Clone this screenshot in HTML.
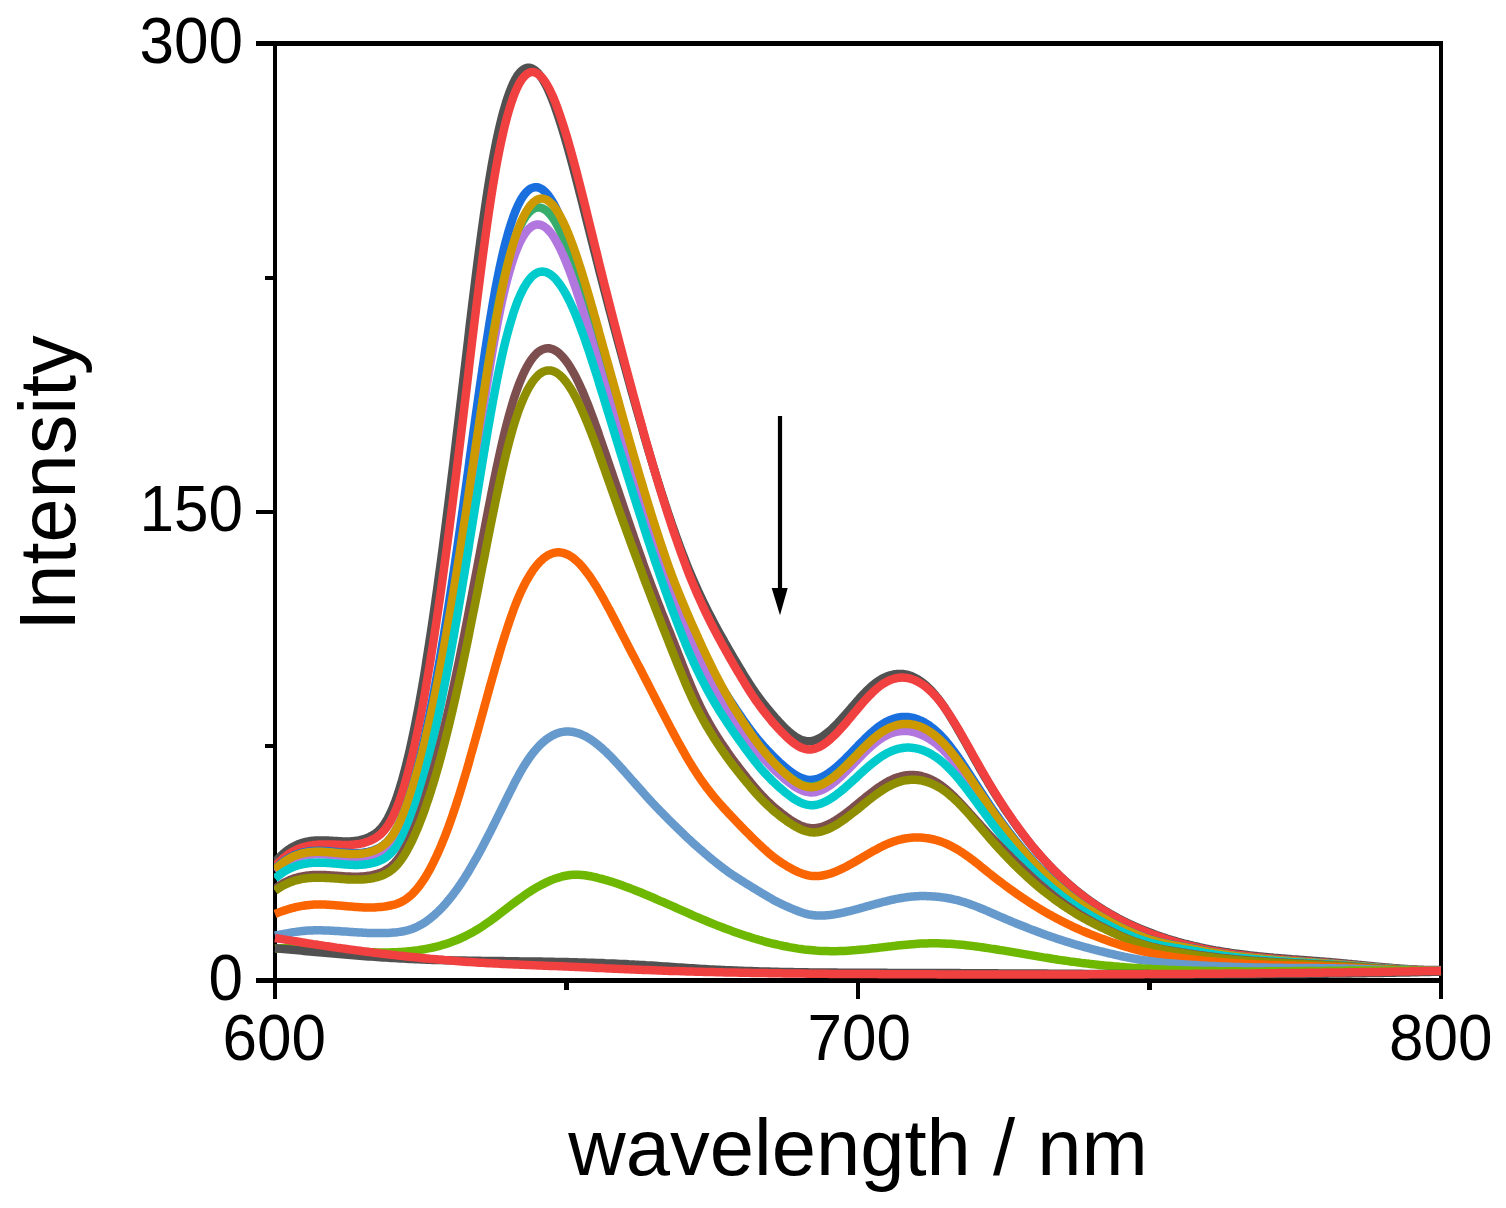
<!DOCTYPE html>
<html lang="en"><head><meta charset="utf-8"><title>Intensity vs wavelength</title>
<style>
html,body{margin:0;padding:0;background:#fff;}
body{width:1506px;height:1208px;overflow:hidden;}
svg{display:block;}
text{font-family:"Liberation Sans",Arial,Helvetica,sans-serif;fill:#000;}
.tl{font-size:64px;}
.ti{font-size:80px;}
.c{fill:none;stroke-width:8.5;stroke-linejoin:round;stroke-linecap:butt;}
.ax{stroke:#000;stroke-width:4.5;fill:none;}
</style></head><body>
<svg width="1506" height="1208" viewBox="0 0 1506 1208">
<rect width="1506" height="1208" fill="#fff"/>

<g stroke="#000" fill="none" shape-rendering="crispEdges">
<path stroke-width="4" d="M275.0,41.0 V999.0 M1441.0,41.0 V999.0"/>
<path stroke-width="4.5" d="M858.0,980.5 V999.0"/>
<path stroke-width="5" d="M256.1,43.5 H1443.0 M256.1,980.5 H1443.0"/>
<path stroke-width="4" d="M256.1,512.0 H275.0 M264.6,278 H275.0 M264.6,746 H275.0"/>
<path stroke-width="5" d="M566.5,980.5 V990.0 M1149.5,980.5 V990.0"/>
</g>
<clipPath id="cp"><rect x="274.0" y="0" width="1168.5" height="1208"/></clipPath>
<g clip-path="url(#cp)">
<path class="c" stroke="#515151" d="M275.0,862.3 L276.3,860.8 L277.6,859.3 L278.9,857.9 L280.2,856.6 L281.5,855.3 L282.8,854.1 L284.1,853.0 L285.4,851.9 L286.7,850.9 L288.0,849.9 L289.3,849.0 L290.6,848.2 L291.9,847.4 L293.2,846.7 L294.5,846.0 L295.8,845.4 L297.0,844.8 L298.3,844.2 L299.6,843.7 L300.9,843.3 L302.2,842.9 L303.5,842.5 L304.8,842.1 L306.1,841.8 L307.4,841.6 L308.7,841.3 L310.0,841.1 L311.3,841.0 L312.6,840.8 L313.9,840.7 L315.2,840.6 L316.5,840.5 L317.8,840.5 L319.1,840.4 L320.4,840.4 L321.7,840.4 L323.0,840.4 L324.3,840.4 L325.6,840.5 L326.9,840.5 L328.2,840.6 L329.5,840.7 L330.8,840.7 L332.1,840.8 L333.4,840.9 L334.7,841.0 L336.0,841.0 L337.3,841.1 L338.6,841.2 L339.8,841.3 L341.1,841.3 L342.4,841.4 L343.7,841.4 L345.0,841.5 L346.3,841.5 L347.6,841.5 L348.9,841.4 L350.2,841.4 L351.5,841.3 L352.8,841.2 L354.1,841.1 L355.4,841.0 L356.7,840.8 L358.0,840.6 L359.3,840.3 L360.6,840.0 L361.9,839.7 L363.2,839.3 L364.5,838.9 L365.8,838.5 L367.1,838.0 L368.4,837.4 L369.7,836.8 L371.0,836.1 L372.3,835.4 L373.6,834.6 L374.9,833.8 L376.2,832.8 L377.5,831.8 L378.8,830.6 L380.1,829.3 L381.4,827.9 L382.7,826.3 L383.9,824.6 L385.2,822.7 L386.5,820.6 L387.8,818.3 L389.1,815.8 L390.4,813.2 L391.7,810.3 L393.0,807.2 L394.3,803.9 L395.6,800.5 L396.9,796.8 L398.2,793.0 L399.5,788.9 L400.8,784.6 L402.1,780.2 L403.4,775.5 L404.7,770.7 L406.0,765.6 L407.3,760.4 L408.6,755.0 L409.9,749.4 L411.2,743.5 L412.5,737.5 L413.8,731.3 L415.1,724.9 L416.4,718.4 L417.7,711.6 L419.0,704.7 L420.3,697.5 L421.6,690.2 L422.9,682.7 L424.2,675.1 L425.5,667.2 L426.7,659.2 L428.0,651.0 L429.3,642.7 L430.6,634.2 L431.9,625.6 L433.2,616.8 L434.5,607.8 L435.8,598.7 L437.1,589.5 L438.4,580.1 L439.7,570.6 L441.0,561.0 L442.3,551.2 L443.6,541.3 L444.9,531.3 L446.2,521.1 L447.5,510.9 L448.8,500.5 L450.1,490.1 L451.4,479.5 L452.7,468.9 L454.0,458.2 L455.3,447.5 L456.6,436.6 L457.9,425.8 L459.2,414.9 L460.5,404.0 L461.8,393.0 L463.1,382.1 L464.4,371.1 L465.7,360.2 L467.0,349.2 L468.3,338.3 L469.5,327.5 L470.8,316.7 L472.1,306.0 L473.4,295.4 L474.7,284.9 L476.0,274.6 L477.3,264.4 L478.6,254.3 L479.9,244.5 L481.2,234.8 L482.5,225.3 L483.8,216.1 L485.1,207.1 L486.4,198.4 L487.7,189.9 L489.0,181.7 L490.3,173.9 L491.6,166.3 L492.9,159.1 L494.2,152.2 L495.5,145.5 L496.8,139.2 L498.1,133.2 L499.4,127.4 L500.7,122.0 L502.0,116.8 L503.3,111.9 L504.6,107.3 L505.9,102.9 L507.2,98.9 L508.5,95.1 L509.8,91.5 L511.1,88.2 L512.4,85.2 L513.6,82.4 L514.9,79.9 L516.2,77.7 L517.5,75.6 L518.8,73.8 L520.1,72.3 L521.4,71.0 L522.7,69.9 L524.0,69.0 L525.3,68.4 L526.6,67.9 L527.9,67.7 L529.2,67.7 L530.5,67.9 L531.8,68.4 L533.1,69.0 L534.4,69.8 L535.7,70.8 L537.0,72.0 L538.3,73.4 L539.6,75.0 L540.9,76.8 L542.2,78.7 L543.5,80.8 L544.8,83.1 L546.1,85.6 L547.4,88.2 L548.7,91.0 L550.0,94.0 L551.3,97.1 L552.6,100.3 L553.9,103.7 L555.2,107.3 L556.4,110.9 L557.7,114.7 L559.0,118.6 L560.3,122.6 L561.6,126.8 L562.9,131.0 L564.2,135.3 L565.5,139.8 L566.8,144.3 L568.1,148.9 L569.4,153.5 L570.7,158.3 L572.0,163.1 L573.3,168.0 L574.6,172.9 L575.9,177.9 L577.2,182.9 L578.5,188.0 L579.8,193.1 L581.1,198.2 L582.4,203.3 L583.7,208.5 L585.0,213.7 L586.3,218.9 L587.6,224.1 L588.9,229.3 L590.2,234.4 L591.5,239.6 L592.8,244.8 L594.1,249.9 L595.4,255.0 L596.7,260.1 L598.0,265.2 L599.2,270.2 L600.5,275.3 L601.8,280.3 L603.1,285.3 L604.4,290.3 L605.7,295.3 L607.0,300.2 L608.3,305.2 L609.6,310.1 L610.9,315.0 L612.2,319.9 L613.5,324.8 L614.8,329.6 L616.1,334.5 L617.4,339.3 L618.7,344.1 L620.0,348.9 L621.3,353.7 L622.6,358.5 L623.9,363.2 L625.2,368.0 L626.5,372.7 L627.8,377.4 L629.1,382.1 L630.4,386.8 L631.7,391.5 L633.0,396.1 L634.3,400.8 L635.6,405.4 L636.9,410.0 L638.2,414.6 L639.5,419.1 L640.8,423.7 L642.1,428.2 L643.3,432.7 L644.6,437.2 L645.9,441.6 L647.2,446.1 L648.5,450.5 L649.8,454.8 L651.1,459.2 L652.4,463.5 L653.7,467.8 L655.0,472.1 L656.3,476.3 L657.6,480.5 L658.9,484.6 L660.2,488.8 L661.5,492.9 L662.8,496.9 L664.1,500.9 L665.4,504.9 L666.7,508.9 L668.0,512.8 L669.3,516.7 L670.6,520.5 L671.9,524.3 L673.2,528.0 L674.5,531.7 L675.8,535.4 L677.1,539.0 L678.4,542.5 L679.7,546.1 L681.0,549.5 L682.3,552.9 L683.6,556.3 L684.9,559.6 L686.1,562.9 L687.4,566.1 L688.7,569.3 L690.0,572.4 L691.3,575.5 L692.6,578.5 L693.9,581.5 L695.2,584.4 L696.5,587.3 L697.8,590.2 L699.1,593.0 L700.4,595.8 L701.7,598.6 L703.0,601.3 L704.3,603.9 L705.6,606.6 L706.9,609.2 L708.2,611.8 L709.5,614.3 L710.8,616.8 L712.1,619.3 L713.4,621.8 L714.7,624.2 L716.0,626.7 L717.3,629.0 L718.6,631.4 L719.9,633.8 L721.2,636.1 L722.5,638.4 L723.8,640.7 L725.1,643.0 L726.4,645.2 L727.7,647.5 L728.9,649.7 L730.2,651.9 L731.5,654.2 L732.8,656.4 L734.1,658.6 L735.4,660.7 L736.7,662.9 L738.0,665.1 L739.3,667.3 L740.6,669.5 L741.9,671.6 L743.2,673.8 L744.5,675.9 L745.8,678.0 L747.1,680.1 L748.4,682.1 L749.7,684.2 L751.0,686.1 L752.3,688.1 L753.6,690.0 L754.9,691.9 L756.2,693.8 L757.5,695.6 L758.8,697.4 L760.1,699.1 L761.4,700.8 L762.7,702.5 L764.0,704.2 L765.3,705.8 L766.6,707.4 L767.9,709.0 L769.2,710.6 L770.5,712.1 L771.7,713.6 L773.0,715.1 L774.3,716.6 L775.6,718.1 L776.9,719.5 L778.2,720.9 L779.5,722.3 L780.8,723.7 L782.1,725.1 L783.4,726.4 L784.7,727.7 L786.0,729.0 L787.3,730.2 L788.6,731.4 L789.9,732.5 L791.2,733.6 L792.5,734.6 L793.8,735.6 L795.1,736.5 L796.4,737.3 L797.7,738.1 L799.0,738.8 L800.3,739.4 L801.6,739.9 L802.9,740.4 L804.2,740.8 L805.5,741.0 L806.8,741.2 L808.1,741.3 L809.4,741.3 L810.7,741.2 L812.0,741.0 L813.3,740.7 L814.6,740.3 L815.8,739.9 L817.1,739.3 L818.4,738.7 L819.7,738.1 L821.0,737.3 L822.3,736.5 L823.6,735.7 L824.9,734.7 L826.2,733.7 L827.5,732.7 L828.8,731.6 L830.1,730.5 L831.4,729.3 L832.7,728.1 L834.0,726.8 L835.3,725.5 L836.6,724.2 L837.9,722.9 L839.2,721.5 L840.5,720.1 L841.8,718.6 L843.1,717.2 L844.4,715.7 L845.7,714.2 L847.0,712.7 L848.3,711.3 L849.6,709.8 L850.9,708.3 L852.2,706.7 L853.5,705.3 L854.8,703.8 L856.1,702.3 L857.4,700.8 L858.6,699.4 L859.9,697.9 L861.2,696.5 L862.5,695.1 L863.8,693.7 L865.1,692.4 L866.4,691.1 L867.7,689.8 L869.0,688.6 L870.3,687.4 L871.6,686.2 L872.9,685.1 L874.2,684.1 L875.5,683.0 L876.8,682.1 L878.1,681.2 L879.4,680.3 L880.7,679.5 L882.0,678.8 L883.3,678.1 L884.6,677.4 L885.9,676.9 L887.2,676.3 L888.5,675.9 L889.8,675.4 L891.1,675.1 L892.4,674.8 L893.7,674.5 L895.0,674.3 L896.3,674.1 L897.6,674.0 L898.9,673.9 L900.2,673.9 L901.4,673.9 L902.7,674.0 L904.0,674.2 L905.3,674.4 L906.6,674.7 L907.9,675.0 L909.2,675.4 L910.5,675.8 L911.8,676.3 L913.1,676.9 L914.4,677.5 L915.7,678.2 L917.0,678.9 L918.3,679.7 L919.6,680.5 L920.9,681.4 L922.2,682.4 L923.5,683.4 L924.8,684.4 L926.1,685.6 L927.4,686.7 L928.7,688.0 L930.0,689.3 L931.3,690.6 L932.6,692.0 L933.9,693.5 L935.2,695.0 L936.5,696.6 L937.8,698.2 L939.1,699.9 L940.4,701.6 L941.7,703.4 L943.0,705.2 L944.3,707.1 L945.5,709.0 L946.8,711.0 L948.1,713.0 L949.4,715.1 L950.7,717.2 L952.0,719.3 L953.3,721.4 L954.6,723.6 L955.9,725.8 L957.2,728.0 L958.5,730.3 L959.8,732.5 L961.1,734.8 L962.4,737.1 L963.7,739.4 L965.0,741.7 L966.3,744.1 L967.6,746.4 L968.9,748.7 L970.2,751.1 L971.5,753.4 L972.8,755.8 L974.1,758.1 L975.4,760.4 L976.7,762.7 L978.0,765.0 L979.3,767.3 L980.6,769.6 L981.9,771.8 L983.2,774.0 L984.5,776.3 L985.8,778.5 L987.1,780.7 L988.3,782.8 L989.6,785.0 L990.9,787.1 L992.2,789.2 L993.5,791.4 L994.8,793.4 L996.1,795.5 L997.4,797.6 L998.7,799.6 L1000.0,801.6 L1001.3,803.7 L1002.6,805.6 L1003.9,807.6 L1005.2,809.6 L1006.5,811.5 L1007.8,813.4 L1009.1,815.3 L1010.4,817.2 L1011.7,819.1 L1013.0,820.9 L1014.3,822.8 L1015.6,824.6 L1016.9,826.4 L1018.2,828.1 L1019.5,829.9 L1020.8,831.6 L1022.1,833.4 L1023.4,835.1 L1024.7,836.7 L1026.0,838.4 L1027.3,840.1 L1028.6,841.7 L1029.9,843.3 L1031.1,844.9 L1032.4,846.5 L1033.7,848.0 L1035.0,849.6 L1036.3,851.1 L1037.6,852.6 L1038.9,854.1 L1040.2,855.6 L1041.5,857.0 L1042.8,858.5 L1044.1,859.9 L1045.4,861.3 L1046.7,862.7 L1048.0,864.1 L1049.3,865.5 L1050.6,866.8 L1051.9,868.1 L1053.2,869.4 L1054.5,870.7 L1055.8,872.0 L1057.1,873.3 L1058.4,874.6 L1059.7,875.8 L1061.0,877.0 L1062.3,878.2 L1063.6,879.4 L1064.9,880.6 L1066.2,881.8 L1067.5,882.9 L1068.8,884.1 L1070.1,885.2 L1071.4,886.3 L1072.7,887.4 L1073.9,888.5 L1075.2,889.6 L1076.5,890.6 L1077.8,891.7 L1079.1,892.7 L1080.4,893.7 L1081.7,894.7 L1083.0,895.7 L1084.3,896.7 L1085.6,897.7 L1086.9,898.6 L1088.2,899.6 L1089.5,900.5 L1090.8,901.4 L1092.1,902.3 L1093.4,903.2 L1094.7,904.1 L1096.0,905.0 L1097.3,905.8 L1098.6,906.7 L1099.9,907.5 L1101.2,908.4 L1102.5,909.2 L1103.8,910.0 L1105.1,910.8 L1106.4,911.6 L1107.7,912.3 L1109.0,913.1 L1110.3,913.9 L1111.6,914.6 L1112.9,915.3 L1114.2,916.1 L1115.5,916.8 L1116.8,917.5 L1118.0,918.2 L1119.3,918.9 L1120.6,919.5 L1121.9,920.2 L1123.2,920.9 L1124.5,921.5 L1125.8,922.2 L1127.1,922.8 L1128.4,923.4 L1129.7,924.0 L1131.0,924.6 L1132.3,925.2 L1133.6,925.8 L1134.9,926.4 L1136.2,927.0 L1137.5,927.5 L1138.8,928.1 L1140.1,928.7 L1141.4,929.2 L1142.7,929.7 L1144.0,930.3 L1145.3,930.8 L1146.6,931.3 L1147.9,931.8 L1149.2,932.3 L1150.5,932.8 L1151.8,933.3 L1153.1,933.8 L1154.4,934.3 L1155.7,934.7 L1157.0,935.2 L1158.3,935.6 L1159.6,936.1 L1160.8,936.5 L1162.1,937.0 L1163.4,937.4 L1164.7,937.8 L1166.0,938.3 L1167.3,938.7 L1168.6,939.1 L1169.9,939.5 L1171.2,939.9 L1172.5,940.3 L1173.8,940.7 L1175.1,941.0 L1176.4,941.4 L1177.7,941.8 L1179.0,942.1 L1180.3,942.5 L1181.6,942.9 L1182.9,943.2 L1184.2,943.6 L1185.5,943.9 L1186.8,944.2 L1188.1,944.5 L1189.4,944.9 L1190.7,945.2 L1192.0,945.5 L1193.3,945.8 L1194.6,946.1 L1195.9,946.4 L1197.2,946.7 L1198.5,947.0 L1199.8,947.3 L1201.1,947.6 L1202.4,947.8 L1203.6,948.1 L1204.9,948.4 L1206.2,948.6 L1207.5,948.9 L1208.8,949.2 L1210.1,949.4 L1211.4,949.6 L1212.7,949.9 L1214.0,950.1 L1215.3,950.4 L1216.6,950.6 L1217.9,950.8 L1219.2,951.0 L1220.5,951.3 L1221.8,951.5 L1223.1,951.7 L1224.4,951.9 L1225.7,952.1 L1227.0,952.3 L1228.3,952.5 L1229.6,952.7 L1230.9,952.9 L1232.2,953.1 L1233.5,953.3 L1234.8,953.4 L1236.1,953.6 L1237.4,953.8 L1238.7,954.0 L1240.0,954.1 L1241.3,954.3 L1242.6,954.5 L1243.9,954.6 L1245.2,954.8 L1246.5,955.0 L1247.7,955.1 L1249.0,955.3 L1250.3,955.4 L1251.6,955.6 L1252.9,955.7 L1254.2,955.9 L1255.5,956.0 L1256.8,956.1 L1258.1,956.3 L1259.4,956.4 L1260.7,956.5 L1262.0,956.7 L1263.3,956.8 L1264.6,956.9 L1265.9,957.0 L1267.2,957.2 L1268.5,957.3 L1269.8,957.4 L1271.1,957.5 L1272.4,957.6 L1273.7,957.8 L1275.0,957.9 L1276.3,958.0 L1277.6,958.1 L1278.9,958.2 L1280.2,958.3 L1281.5,958.4 L1282.8,958.5 L1284.1,958.6 L1285.4,958.7 L1286.7,958.8 L1288.0,958.9 L1289.3,959.0 L1290.5,959.1 L1291.8,959.3 L1293.1,959.4 L1294.4,959.5 L1295.7,959.5 L1297.0,959.6 L1298.3,959.7 L1299.6,959.8 L1300.9,959.9 L1302.2,960.0 L1303.5,960.1 L1304.8,960.2 L1306.1,960.3 L1307.4,960.4 L1308.7,960.5 L1310.0,960.6 L1311.3,960.7 L1312.6,960.8 L1313.9,960.9 L1315.2,961.0 L1316.5,961.1 L1317.8,961.2 L1319.1,961.3 L1320.4,961.4 L1321.7,961.5 L1323.0,961.6 L1324.3,961.7 L1325.6,961.8 L1326.9,961.9 L1328.2,962.0 L1329.5,962.1 L1330.8,962.2 L1332.1,962.4 L1333.3,962.5 L1334.6,962.6 L1335.9,962.7 L1337.2,962.8 L1338.5,962.9 L1339.8,963.0 L1341.1,963.2 L1342.4,963.3 L1343.7,963.4 L1345.0,963.5 L1346.3,963.6 L1347.6,963.8 L1348.9,963.9 L1350.2,964.0 L1351.5,964.1 L1352.8,964.3 L1354.1,964.4 L1355.4,964.5 L1356.7,964.6 L1358.0,964.8 L1359.3,964.9 L1360.6,965.0 L1361.9,965.2 L1363.2,965.3 L1364.5,965.4 L1365.8,965.5 L1367.1,965.7 L1368.4,965.8 L1369.7,965.9 L1371.0,966.0 L1372.3,966.2 L1373.6,966.3 L1374.9,966.4 L1376.2,966.6 L1377.4,966.7 L1378.7,966.8 L1380.0,966.9 L1381.3,967.0 L1382.6,967.2 L1383.9,967.3 L1385.2,967.4 L1386.5,967.5 L1387.8,967.6 L1389.1,967.7 L1390.4,967.8 L1391.7,968.0 L1393.0,968.1 L1394.3,968.2 L1395.6,968.3 L1396.9,968.4 L1398.2,968.5 L1399.5,968.6 L1400.8,968.7 L1402.1,968.8 L1403.4,968.8 L1404.7,968.9 L1406.0,969.0 L1407.3,969.1 L1408.6,969.2 L1409.9,969.3 L1411.2,969.3 L1412.5,969.4 L1413.8,969.5 L1415.1,969.5 L1416.4,969.6 L1417.7,969.7 L1419.0,969.7 L1420.2,969.8 L1421.5,969.8 L1422.8,969.8 L1424.1,969.9 L1425.4,969.9 L1426.7,969.9 L1428.0,970.0 L1429.3,970.0 L1430.6,970.0 L1431.9,970.0 L1433.2,970.0 L1434.5,970.0 L1435.8,970.0 L1437.1,970.0 L1438.4,970.0 L1439.7,970.0 L1441.0,970.0"/>
<path class="c" stroke="#F14040" d="M275.0,866.4 L276.3,864.9 L277.6,863.6 L278.9,862.2 L280.2,861.0 L281.5,859.8 L282.8,858.6 L284.1,857.5 L285.4,856.5 L286.7,855.5 L288.0,854.6 L289.3,853.7 L290.6,852.9 L291.9,852.1 L293.2,851.4 L294.5,850.7 L295.8,850.1 L297.0,849.5 L298.3,848.9 L299.6,848.4 L300.9,847.9 L302.2,847.5 L303.5,847.1 L304.8,846.7 L306.1,846.4 L307.4,846.1 L308.7,845.8 L310.0,845.6 L311.3,845.4 L312.6,845.2 L313.9,845.0 L315.2,844.9 L316.5,844.8 L317.8,844.7 L319.1,844.6 L320.4,844.5 L321.7,844.5 L323.0,844.4 L324.3,844.4 L325.6,844.4 L326.9,844.4 L328.2,844.5 L329.5,844.5 L330.8,844.5 L332.1,844.6 L333.4,844.6 L334.7,844.6 L336.0,844.7 L337.3,844.7 L338.6,844.8 L339.8,844.8 L341.1,844.9 L342.4,844.9 L343.7,844.9 L345.0,844.9 L346.3,844.9 L347.6,844.9 L348.9,844.9 L350.2,844.9 L351.5,844.8 L352.8,844.7 L354.1,844.6 L355.4,844.5 L356.7,844.3 L358.0,844.1 L359.3,843.9 L360.6,843.7 L361.9,843.4 L363.2,843.1 L364.5,842.7 L365.8,842.3 L367.1,841.9 L368.4,841.4 L369.7,840.9 L371.0,840.3 L372.3,839.7 L373.6,839.0 L374.9,838.3 L376.2,837.5 L377.5,836.6 L378.8,835.6 L380.1,834.6 L381.4,833.4 L382.7,832.1 L383.9,830.7 L385.2,829.2 L386.5,827.5 L387.8,825.6 L389.1,823.6 L390.4,821.3 L391.7,818.9 L393.0,816.3 L394.3,813.5 L395.6,810.5 L396.9,807.4 L398.2,804.0 L399.5,800.5 L400.8,796.7 L402.1,792.8 L403.4,788.7 L404.7,784.4 L406.0,779.9 L407.3,775.2 L408.6,770.3 L409.9,765.2 L411.2,760.0 L412.5,754.5 L413.8,748.9 L415.1,743.1 L416.4,737.1 L417.7,730.9 L419.0,724.5 L420.3,718.0 L421.6,711.3 L422.9,704.3 L424.2,697.3 L425.5,690.0 L426.7,682.6 L428.0,674.9 L429.3,667.2 L430.6,659.2 L431.9,651.1 L433.2,642.9 L434.5,634.5 L435.8,625.9 L437.1,617.2 L438.4,608.3 L439.7,599.3 L441.0,590.2 L442.3,580.9 L443.6,571.5 L444.9,561.9 L446.2,552.3 L447.5,542.5 L448.8,532.6 L450.1,522.5 L451.4,512.4 L452.7,502.1 L454.0,491.8 L455.3,481.4 L456.6,470.8 L457.9,460.3 L459.2,449.6 L460.5,438.9 L461.8,428.2 L463.1,417.4 L464.4,406.6 L465.7,395.7 L467.0,384.9 L468.3,374.0 L469.5,363.2 L470.8,352.4 L472.1,341.6 L473.4,330.8 L474.7,320.2 L476.0,309.5 L477.3,299.0 L478.6,288.6 L479.9,278.4 L481.2,268.3 L482.5,258.3 L483.8,248.5 L485.1,238.9 L486.4,229.5 L487.7,220.3 L489.0,211.4 L490.3,202.7 L491.6,194.3 L492.9,186.2 L494.2,178.4 L495.5,170.8 L496.8,163.6 L498.1,156.7 L499.4,150.1 L500.7,143.8 L502.0,137.8 L503.3,132.0 L504.6,126.6 L505.9,121.4 L507.2,116.5 L508.5,111.9 L509.8,107.5 L511.1,103.4 L512.4,99.6 L513.6,96.1 L514.9,92.8 L516.2,89.8 L517.5,87.0 L518.8,84.4 L520.1,82.1 L521.4,80.1 L522.7,78.3 L524.0,76.7 L525.3,75.4 L526.6,74.3 L527.9,73.4 L529.2,72.8 L530.5,72.3 L531.8,72.1 L533.1,72.1 L534.4,72.3 L535.7,72.8 L537.0,73.4 L538.3,74.2 L539.6,75.3 L540.9,76.5 L542.2,77.9 L543.5,79.5 L544.8,81.3 L546.1,83.3 L547.4,85.4 L548.7,87.8 L550.0,90.3 L551.3,93.0 L552.6,95.8 L553.9,98.8 L555.2,102.0 L556.4,105.3 L557.7,108.8 L559.0,112.4 L560.3,116.1 L561.6,120.0 L562.9,124.0 L564.2,128.1 L565.5,132.3 L566.8,136.6 L568.1,141.0 L569.4,145.6 L570.7,150.2 L572.0,154.9 L573.3,159.7 L574.6,164.5 L575.9,169.4 L577.2,174.4 L578.5,179.5 L579.8,184.5 L581.1,189.7 L582.4,194.9 L583.7,200.1 L585.0,205.3 L586.3,210.6 L587.6,215.9 L588.9,221.2 L590.2,226.5 L591.5,231.8 L592.8,237.1 L594.1,242.4 L595.4,247.7 L596.7,252.9 L598.0,258.2 L599.2,263.4 L600.5,268.6 L601.8,273.8 L603.1,279.0 L604.4,284.2 L605.7,289.3 L607.0,294.4 L608.3,299.5 L609.6,304.6 L610.9,309.7 L612.2,314.8 L613.5,319.8 L614.8,324.8 L616.1,329.8 L617.4,334.8 L618.7,339.8 L620.0,344.8 L621.3,349.7 L622.6,354.6 L623.9,359.6 L625.2,364.5 L626.5,369.3 L627.8,374.2 L629.1,379.1 L630.4,383.9 L631.7,388.7 L633.0,393.5 L634.3,398.3 L635.6,403.1 L636.9,407.9 L638.2,412.6 L639.5,417.3 L640.8,422.0 L642.1,426.7 L643.3,431.3 L644.6,436.0 L645.9,440.6 L647.2,445.2 L648.5,449.7 L649.8,454.3 L651.1,458.8 L652.4,463.2 L653.7,467.7 L655.0,472.1 L656.3,476.5 L657.6,480.9 L658.9,485.2 L660.2,489.5 L661.5,493.7 L662.8,497.9 L664.1,502.1 L665.4,506.3 L666.7,510.4 L668.0,514.4 L669.3,518.4 L670.6,522.4 L671.9,526.4 L673.2,530.3 L674.5,534.1 L675.8,537.9 L677.1,541.7 L678.4,545.4 L679.7,549.1 L681.0,552.7 L682.3,556.3 L683.6,559.8 L684.9,563.3 L686.1,566.7 L687.4,570.0 L688.7,573.4 L690.0,576.6 L691.3,579.8 L692.6,583.0 L693.9,586.1 L695.2,589.2 L696.5,592.2 L697.8,595.2 L699.1,598.1 L700.4,601.0 L701.7,603.8 L703.0,606.6 L704.3,609.4 L705.6,612.2 L706.9,614.9 L708.2,617.5 L709.5,620.2 L710.8,622.8 L712.1,625.3 L713.4,627.9 L714.7,630.4 L716.0,632.9 L717.3,635.3 L718.6,637.7 L719.9,640.1 L721.2,642.5 L722.5,644.9 L723.8,647.2 L725.1,649.5 L726.4,651.9 L727.7,654.1 L728.9,656.4 L730.2,658.7 L731.5,660.9 L732.8,663.1 L734.1,665.4 L735.4,667.6 L736.7,669.8 L738.0,672.0 L739.3,674.2 L740.6,676.3 L741.9,678.5 L743.2,680.7 L744.5,682.8 L745.8,685.0 L747.1,687.1 L748.4,689.1 L749.7,691.2 L751.0,693.2 L752.3,695.2 L753.6,697.2 L754.9,699.1 L756.2,701.0 L757.5,702.8 L758.8,704.6 L760.1,706.4 L761.4,708.1 L762.7,709.9 L764.0,711.5 L765.3,713.2 L766.6,714.8 L767.9,716.4 L769.2,718.0 L770.5,719.5 L771.7,721.1 L773.0,722.6 L774.3,724.0 L775.6,725.5 L776.9,726.9 L778.2,728.4 L779.5,729.8 L780.8,731.1 L782.1,732.5 L783.4,733.8 L784.7,735.1 L786.0,736.4 L787.3,737.6 L788.6,738.8 L789.9,740.0 L791.2,741.1 L792.5,742.1 L793.8,743.1 L795.1,744.1 L796.4,745.0 L797.7,745.8 L799.0,746.5 L800.3,747.2 L801.6,747.8 L802.9,748.3 L804.2,748.7 L805.5,749.0 L806.8,749.3 L808.1,749.4 L809.4,749.5 L810.7,749.5 L812.0,749.3 L813.3,749.1 L814.6,748.8 L815.8,748.4 L817.1,747.9 L818.4,747.4 L819.7,746.7 L821.0,746.0 L822.3,745.3 L823.6,744.4 L824.9,743.5 L826.2,742.6 L827.5,741.6 L828.8,740.5 L830.1,739.4 L831.4,738.2 L832.7,737.0 L834.0,735.8 L835.3,734.5 L836.6,733.2 L837.9,731.8 L839.2,730.4 L840.5,729.0 L841.8,727.5 L843.1,726.1 L844.4,724.6 L845.7,723.1 L847.0,721.6 L848.3,720.0 L849.6,718.5 L850.9,716.9 L852.2,715.4 L853.5,713.8 L854.8,712.3 L856.1,710.7 L857.4,709.2 L858.6,707.6 L859.9,706.1 L861.2,704.6 L862.5,703.1 L863.8,701.7 L865.1,700.2 L866.4,698.8 L867.7,697.4 L869.0,696.0 L870.3,694.7 L871.6,693.4 L872.9,692.1 L874.2,690.9 L875.5,689.7 L876.8,688.6 L878.1,687.5 L879.4,686.5 L880.7,685.5 L882.0,684.6 L883.3,683.7 L884.6,682.9 L885.9,682.2 L887.2,681.5 L888.5,680.8 L889.8,680.3 L891.1,679.7 L892.4,679.3 L893.7,678.9 L895.0,678.5 L896.3,678.2 L897.6,678.0 L898.9,677.8 L900.2,677.7 L901.4,677.6 L902.7,677.6 L904.0,677.7 L905.3,677.8 L906.6,677.9 L907.9,678.1 L909.2,678.4 L910.5,678.8 L911.8,679.1 L913.1,679.6 L914.4,680.1 L915.7,680.7 L917.0,681.3 L918.3,682.0 L919.6,682.7 L920.9,683.5 L922.2,684.3 L923.5,685.2 L924.8,686.2 L926.1,687.2 L927.4,688.3 L928.7,689.4 L930.0,690.6 L931.3,691.8 L932.6,693.1 L933.9,694.5 L935.2,695.9 L936.5,697.3 L937.8,698.8 L939.1,700.4 L940.4,702.0 L941.7,703.7 L943.0,705.4 L944.3,707.2 L945.5,709.0 L946.8,710.9 L948.1,712.8 L949.4,714.8 L950.7,716.8 L952.0,718.8 L953.3,720.9 L954.6,723.0 L955.9,725.2 L957.2,727.3 L958.5,729.5 L959.8,731.7 L961.1,734.0 L962.4,736.2 L963.7,738.5 L965.0,740.8 L966.3,743.1 L967.6,745.4 L968.9,747.7 L970.2,750.0 L971.5,752.3 L972.8,754.7 L974.1,757.0 L975.4,759.3 L976.7,761.6 L978.0,763.9 L979.3,766.2 L980.6,768.5 L981.9,770.8 L983.2,773.0 L984.5,775.2 L985.8,777.5 L987.1,779.7 L988.3,781.8 L989.6,784.0 L990.9,786.2 L992.2,788.3 L993.5,790.4 L994.8,792.6 L996.1,794.6 L997.4,796.7 L998.7,798.8 L1000.0,800.8 L1001.3,802.8 L1002.6,804.9 L1003.9,806.8 L1005.2,808.8 L1006.5,810.8 L1007.8,812.7 L1009.1,814.6 L1010.4,816.5 L1011.7,818.4 L1013.0,820.3 L1014.3,822.2 L1015.6,824.0 L1016.9,825.8 L1018.2,827.6 L1019.5,829.4 L1020.8,831.1 L1022.1,832.9 L1023.4,834.6 L1024.7,836.3 L1026.0,838.0 L1027.3,839.7 L1028.6,841.3 L1029.9,843.0 L1031.1,844.6 L1032.4,846.2 L1033.7,847.7 L1035.0,849.3 L1036.3,850.9 L1037.6,852.4 L1038.9,853.9 L1040.2,855.4 L1041.5,856.9 L1042.8,858.3 L1044.1,859.8 L1045.4,861.2 L1046.7,862.6 L1048.0,864.0 L1049.3,865.4 L1050.6,866.8 L1051.9,868.1 L1053.2,869.4 L1054.5,870.8 L1055.8,872.1 L1057.1,873.3 L1058.4,874.6 L1059.7,875.9 L1061.0,877.1 L1062.3,878.3 L1063.6,879.6 L1064.9,880.8 L1066.2,881.9 L1067.5,883.1 L1068.8,884.3 L1070.1,885.4 L1071.4,886.5 L1072.7,887.6 L1073.9,888.7 L1075.2,889.8 L1076.5,890.9 L1077.8,892.0 L1079.1,893.0 L1080.4,894.0 L1081.7,895.1 L1083.0,896.1 L1084.3,897.1 L1085.6,898.0 L1086.9,899.0 L1088.2,900.0 L1089.5,900.9 L1090.8,901.8 L1092.1,902.8 L1093.4,903.7 L1094.7,904.6 L1096.0,905.5 L1097.3,906.3 L1098.6,907.2 L1099.9,908.0 L1101.2,908.9 L1102.5,909.7 L1103.8,910.5 L1105.1,911.3 L1106.4,912.1 L1107.7,912.9 L1109.0,913.7 L1110.3,914.4 L1111.6,915.2 L1112.9,915.9 L1114.2,916.7 L1115.5,917.4 L1116.8,918.1 L1118.0,918.8 L1119.3,919.5 L1120.6,920.2 L1121.9,920.9 L1123.2,921.5 L1124.5,922.2 L1125.8,922.8 L1127.1,923.5 L1128.4,924.1 L1129.7,924.7 L1131.0,925.3 L1132.3,926.0 L1133.6,926.5 L1134.9,927.1 L1136.2,927.7 L1137.5,928.3 L1138.8,928.9 L1140.1,929.4 L1141.4,930.0 L1142.7,930.5 L1144.0,931.0 L1145.3,931.6 L1146.6,932.1 L1147.9,932.6 L1149.2,933.1 L1150.5,933.6 L1151.8,934.1 L1153.1,934.6 L1154.4,935.1 L1155.7,935.5 L1157.0,936.0 L1158.3,936.5 L1159.6,936.9 L1160.8,937.4 L1162.1,937.8 L1163.4,938.3 L1164.7,938.7 L1166.0,939.1 L1167.3,939.5 L1168.6,939.9 L1169.9,940.3 L1171.2,940.7 L1172.5,941.1 L1173.8,941.5 L1175.1,941.9 L1176.4,942.3 L1177.7,942.7 L1179.0,943.0 L1180.3,943.4 L1181.6,943.8 L1182.9,944.1 L1184.2,944.5 L1185.5,944.8 L1186.8,945.1 L1188.1,945.5 L1189.4,945.8 L1190.7,946.1 L1192.0,946.4 L1193.3,946.7 L1194.6,947.0 L1195.9,947.3 L1197.2,947.6 L1198.5,947.9 L1199.8,948.2 L1201.1,948.5 L1202.4,948.8 L1203.6,949.1 L1204.9,949.3 L1206.2,949.6 L1207.5,949.8 L1208.8,950.1 L1210.1,950.4 L1211.4,950.6 L1212.7,950.9 L1214.0,951.1 L1215.3,951.3 L1216.6,951.6 L1217.9,951.8 L1219.2,952.0 L1220.5,952.2 L1221.8,952.5 L1223.1,952.7 L1224.4,952.9 L1225.7,953.1 L1227.0,953.3 L1228.3,953.5 L1229.6,953.7 L1230.9,953.9 L1232.2,954.1 L1233.5,954.3 L1234.8,954.4 L1236.1,954.6 L1237.4,954.8 L1238.7,955.0 L1240.0,955.2 L1241.3,955.3 L1242.6,955.5 L1243.9,955.7 L1245.2,955.8 L1246.5,956.0 L1247.7,956.1 L1249.0,956.3 L1250.3,956.4 L1251.6,956.6 L1252.9,956.7 L1254.2,956.9 L1255.5,957.0 L1256.8,957.2 L1258.1,957.3 L1259.4,957.4 L1260.7,957.6 L1262.0,957.7 L1263.3,957.8 L1264.6,958.0 L1265.9,958.1 L1267.2,958.2 L1268.5,958.3 L1269.8,958.4 L1271.1,958.6 L1272.4,958.7 L1273.7,958.8 L1275.0,958.9 L1276.3,959.0 L1277.6,959.1 L1278.9,959.3 L1280.2,959.4 L1281.5,959.5 L1282.8,959.6 L1284.1,959.7 L1285.4,959.8 L1286.7,959.9 L1288.0,960.0 L1289.3,960.1 L1290.5,960.2 L1291.8,960.3 L1293.1,960.4 L1294.4,960.5 L1295.7,960.6 L1297.0,960.7 L1298.3,960.8 L1299.6,960.9 L1300.9,961.0 L1302.2,961.1 L1303.5,961.2 L1304.8,961.3 L1306.1,961.4 L1307.4,961.5 L1308.7,961.6 L1310.0,961.7 L1311.3,961.8 L1312.6,961.9 L1313.9,962.0 L1315.2,962.1 L1316.5,962.2 L1317.8,962.3 L1319.1,962.4 L1320.4,962.4 L1321.7,962.5 L1323.0,962.6 L1324.3,962.7 L1325.6,962.8 L1326.9,962.9 L1328.2,963.0 L1329.5,963.2 L1330.8,963.3 L1332.1,963.4 L1333.3,963.5 L1334.6,963.6 L1335.9,963.7 L1337.2,963.8 L1338.5,963.9 L1339.8,964.0 L1341.1,964.1 L1342.4,964.2 L1343.7,964.3 L1345.0,964.5 L1346.3,964.6 L1347.6,964.7 L1348.9,964.8 L1350.2,964.9 L1351.5,965.0 L1352.8,965.2 L1354.1,965.3 L1355.4,965.4 L1356.7,965.5 L1358.0,965.6 L1359.3,965.8 L1360.6,965.9 L1361.9,966.0 L1363.2,966.1 L1364.5,966.2 L1365.8,966.4 L1367.1,966.5 L1368.4,966.6 L1369.7,966.7 L1371.0,966.8 L1372.3,967.0 L1373.6,967.1 L1374.9,967.2 L1376.2,967.3 L1377.4,967.4 L1378.7,967.5 L1380.0,967.7 L1381.3,967.8 L1382.6,967.9 L1383.9,968.0 L1385.2,968.1 L1386.5,968.2 L1387.8,968.3 L1389.1,968.4 L1390.4,968.5 L1391.7,968.6 L1393.0,968.7 L1394.3,968.8 L1395.6,968.9 L1396.9,969.0 L1398.2,969.1 L1399.5,969.2 L1400.8,969.3 L1402.1,969.4 L1403.4,969.4 L1404.7,969.5 L1406.0,969.6 L1407.3,969.7 L1408.6,969.7 L1409.9,969.8 L1411.2,969.9 L1412.5,969.9 L1413.8,970.0 L1415.1,970.1 L1416.4,970.1 L1417.7,970.2 L1419.0,970.2 L1420.2,970.3 L1421.5,970.3 L1422.8,970.4 L1424.1,970.4 L1425.4,970.4 L1426.7,970.4 L1428.0,970.5 L1429.3,970.5 L1430.6,970.5 L1431.9,970.5 L1433.2,970.5 L1434.5,970.5 L1435.8,970.5 L1437.1,970.5 L1438.4,970.5 L1439.7,970.5 L1441.0,970.5"/>
<path class="c" stroke="#1A6FDF" d="M275.0,869.0 L276.3,867.7 L277.6,866.5 L278.9,865.3 L280.2,864.2 L281.5,863.1 L282.8,862.1 L284.1,861.1 L285.4,860.2 L286.7,859.4 L288.0,858.6 L289.3,857.8 L290.6,857.1 L291.9,856.5 L293.2,855.8 L294.5,855.3 L295.8,854.7 L297.0,854.3 L298.3,853.8 L299.6,853.4 L300.9,853.0 L302.2,852.7 L303.5,852.4 L304.8,852.1 L306.1,851.8 L307.4,851.6 L308.7,851.4 L310.0,851.3 L311.3,851.1 L312.6,851.0 L313.9,850.9 L315.2,850.9 L316.5,850.8 L317.8,850.8 L319.1,850.8 L320.4,850.8 L321.7,850.9 L323.0,850.9 L324.3,851.0 L325.6,851.1 L326.9,851.1 L328.2,851.2 L329.5,851.3 L330.8,851.4 L332.1,851.6 L333.4,851.7 L334.7,851.8 L336.0,851.9 L337.3,852.1 L338.6,852.2 L339.8,852.3 L341.1,852.4 L342.4,852.6 L343.7,852.7 L345.0,852.8 L346.3,852.9 L347.6,853.0 L348.9,853.1 L350.2,853.1 L351.5,853.2 L352.8,853.2 L354.1,853.2 L355.4,853.2 L356.7,853.2 L358.0,853.2 L359.3,853.1 L360.6,853.0 L361.9,852.9 L363.2,852.7 L364.5,852.5 L365.8,852.3 L367.1,852.1 L368.4,851.8 L369.7,851.5 L371.0,851.1 L372.3,850.7 L373.6,850.3 L374.9,849.8 L376.2,849.3 L377.5,848.7 L378.8,848.1 L380.1,847.4 L381.4,846.6 L382.7,845.7 L383.9,844.7 L385.2,843.7 L386.5,842.5 L387.8,841.2 L389.1,839.8 L390.4,838.2 L391.7,836.4 L393.0,834.6 L394.3,832.5 L395.6,830.3 L396.9,827.9 L398.2,825.4 L399.5,822.7 L400.8,819.8 L402.1,816.8 L403.4,813.6 L404.7,810.2 L406.0,806.7 L407.3,803.0 L408.6,799.1 L409.9,795.1 L411.2,790.9 L412.5,786.6 L413.8,782.1 L415.1,777.4 L416.4,772.6 L417.7,767.6 L419.0,762.5 L420.3,757.2 L421.6,751.7 L422.9,746.1 L424.2,740.3 L425.5,734.4 L426.7,728.3 L428.0,722.1 L429.3,715.7 L430.6,709.2 L431.9,702.5 L433.2,695.7 L434.5,688.8 L435.8,681.7 L437.1,674.5 L438.4,667.2 L439.7,659.7 L441.0,652.1 L442.3,644.4 L443.6,636.6 L444.9,628.6 L446.2,620.6 L447.5,612.4 L448.8,604.1 L450.1,595.7 L451.4,587.3 L452.7,578.7 L454.0,570.0 L455.3,561.2 L456.6,552.3 L457.9,543.4 L459.2,534.4 L460.5,525.3 L461.8,516.2 L463.1,507.0 L464.4,497.7 L465.7,488.5 L467.0,479.2 L468.3,469.9 L469.5,460.6 L470.8,451.2 L472.1,441.9 L473.4,432.6 L474.7,423.3 L476.0,414.1 L477.3,404.9 L478.6,395.7 L479.9,386.6 L481.2,377.7 L482.5,368.8 L483.8,360.0 L485.1,351.4 L486.4,342.9 L487.7,334.6 L489.0,326.4 L490.3,318.4 L491.6,310.6 L492.9,303.1 L494.2,295.7 L495.5,288.6 L496.8,281.8 L498.1,275.2 L499.4,268.9 L500.7,262.8 L502.0,257.0 L503.3,251.4 L504.6,246.1 L505.9,241.1 L507.2,236.3 L508.5,231.7 L509.8,227.4 L511.1,223.4 L512.4,219.5 L513.6,215.9 L514.9,212.5 L516.2,209.4 L517.5,206.4 L518.8,203.7 L520.1,201.2 L521.4,198.9 L522.7,196.9 L524.0,195.0 L525.3,193.4 L526.6,191.9 L527.9,190.7 L529.2,189.6 L530.5,188.7 L531.8,188.1 L533.1,187.6 L534.4,187.3 L535.7,187.2 L537.0,187.3 L538.3,187.5 L539.6,188.0 L540.9,188.6 L542.2,189.4 L543.5,190.4 L544.8,191.5 L546.1,192.8 L547.4,194.3 L548.7,195.9 L550.0,197.7 L551.3,199.7 L552.6,201.8 L553.9,204.1 L555.2,206.5 L556.4,209.1 L557.7,211.8 L559.0,214.6 L560.3,217.6 L561.6,220.8 L562.9,224.0 L564.2,227.4 L565.5,230.8 L566.8,234.4 L568.1,238.1 L569.4,241.9 L570.7,245.8 L572.0,249.8 L573.3,253.8 L574.6,258.0 L575.9,262.2 L577.2,266.5 L578.5,270.9 L579.8,275.3 L581.1,279.8 L582.4,284.3 L583.7,288.8 L585.0,293.5 L586.3,298.1 L587.6,302.8 L588.9,307.5 L590.2,312.2 L591.5,316.9 L592.8,321.7 L594.1,326.4 L595.4,331.2 L596.7,335.9 L598.0,340.6 L599.2,345.3 L600.5,350.0 L601.8,354.7 L603.1,359.4 L604.4,364.1 L605.7,368.7 L607.0,373.3 L608.3,377.9 L609.6,382.5 L610.9,387.1 L612.2,391.7 L613.5,396.2 L614.8,400.7 L616.1,405.3 L617.4,409.8 L618.7,414.3 L620.0,418.7 L621.3,423.2 L622.6,427.6 L623.9,432.1 L625.2,436.5 L626.5,440.9 L627.8,445.3 L629.1,449.7 L630.4,454.0 L631.7,458.4 L633.0,462.7 L634.3,467.0 L635.6,471.3 L636.9,475.6 L638.2,479.9 L639.5,484.1 L640.8,488.4 L642.1,492.6 L643.3,496.8 L644.6,501.0 L645.9,505.1 L647.2,509.3 L648.5,513.4 L649.8,517.5 L651.1,521.5 L652.4,525.6 L653.7,529.6 L655.0,533.6 L656.3,537.5 L657.6,541.5 L658.9,545.4 L660.2,549.2 L661.5,553.1 L662.8,556.9 L664.1,560.6 L665.4,564.4 L666.7,568.1 L668.0,571.7 L669.3,575.4 L670.6,579.0 L671.9,582.5 L673.2,586.0 L674.5,589.5 L675.8,592.9 L677.1,596.3 L678.4,599.7 L679.7,603.0 L681.0,606.2 L682.3,609.4 L683.6,612.6 L684.9,615.7 L686.1,618.8 L687.4,621.8 L688.7,624.8 L690.0,627.7 L691.3,630.6 L692.6,633.4 L693.9,636.2 L695.2,639.0 L696.5,641.7 L697.8,644.3 L699.1,646.9 L700.4,649.5 L701.7,652.1 L703.0,654.6 L704.3,657.0 L705.6,659.5 L706.9,661.9 L708.2,664.2 L709.5,666.6 L710.8,668.9 L712.1,671.2 L713.4,673.4 L714.7,675.6 L716.0,677.8 L717.3,680.0 L718.6,682.1 L719.9,684.3 L721.2,686.4 L722.5,688.4 L723.8,690.5 L725.1,692.5 L726.4,694.6 L727.7,696.6 L728.9,698.6 L730.2,700.6 L731.5,702.5 L732.8,704.5 L734.1,706.4 L735.4,708.4 L736.7,710.3 L738.0,712.2 L739.3,714.1 L740.6,716.0 L741.9,717.9 L743.2,719.8 L744.5,721.7 L745.8,723.5 L747.1,725.3 L748.4,727.2 L749.7,728.9 L751.0,730.7 L752.3,732.4 L753.6,734.1 L754.9,735.8 L756.2,737.4 L757.5,739.0 L758.8,740.6 L760.1,742.1 L761.4,743.6 L762.7,745.1 L764.0,746.6 L765.3,748.0 L766.6,749.4 L767.9,750.8 L769.2,752.1 L770.5,753.5 L771.7,754.8 L773.0,756.1 L774.3,757.4 L775.6,758.6 L776.9,759.8 L778.2,761.1 L779.5,762.3 L780.8,763.5 L782.1,764.6 L783.4,765.8 L784.7,766.9 L786.0,768.0 L787.3,769.1 L788.6,770.1 L789.9,771.1 L791.2,772.1 L792.5,773.0 L793.8,773.9 L795.1,774.7 L796.4,775.5 L797.7,776.2 L799.0,776.9 L800.3,777.5 L801.6,778.1 L802.9,778.5 L804.2,779.0 L805.5,779.3 L806.8,779.6 L808.1,779.8 L809.4,779.9 L810.7,779.9 L812.0,779.8 L813.3,779.7 L814.6,779.5 L815.8,779.2 L817.1,778.9 L818.4,778.5 L819.7,778.0 L821.0,777.4 L822.3,776.8 L823.6,776.2 L824.9,775.5 L826.2,774.7 L827.5,773.9 L828.8,773.0 L830.1,772.1 L831.4,771.1 L832.7,770.1 L834.0,769.1 L835.3,768.0 L836.6,766.9 L837.9,765.8 L839.2,764.6 L840.5,763.4 L841.8,762.2 L843.1,761.0 L844.4,759.7 L845.7,758.4 L847.0,757.1 L848.3,755.8 L849.6,754.5 L850.9,753.2 L852.2,751.8 L853.5,750.5 L854.8,749.1 L856.1,747.8 L857.4,746.5 L858.6,745.1 L859.9,743.8 L861.2,742.5 L862.5,741.2 L863.8,739.9 L865.1,738.6 L866.4,737.3 L867.7,736.1 L869.0,734.9 L870.3,733.7 L871.6,732.5 L872.9,731.4 L874.2,730.3 L875.5,729.2 L876.8,728.1 L878.1,727.1 L879.4,726.2 L880.7,725.3 L882.0,724.4 L883.3,723.6 L884.6,722.8 L885.9,722.1 L887.2,721.4 L888.5,720.7 L889.8,720.2 L891.1,719.6 L892.4,719.1 L893.7,718.7 L895.0,718.3 L896.3,718.0 L897.6,717.7 L898.9,717.4 L900.2,717.2 L901.4,717.1 L902.7,717.0 L904.0,716.9 L905.3,716.9 L906.6,716.9 L907.9,717.0 L909.2,717.2 L910.5,717.4 L911.8,717.6 L913.1,717.9 L914.4,718.2 L915.7,718.6 L917.0,719.1 L918.3,719.5 L919.6,720.1 L920.9,720.6 L922.2,721.3 L923.5,721.9 L924.8,722.7 L926.1,723.4 L927.4,724.3 L928.7,725.1 L930.0,726.0 L931.3,727.0 L932.6,728.0 L933.9,729.1 L935.2,730.2 L936.5,731.3 L937.8,732.5 L939.1,733.8 L940.4,735.1 L941.7,736.4 L943.0,737.8 L944.3,739.2 L945.5,740.7 L946.8,742.3 L948.1,743.8 L949.4,745.4 L950.7,747.1 L952.0,748.8 L953.3,750.5 L954.6,752.2 L955.9,754.0 L957.2,755.8 L958.5,757.7 L959.8,759.6 L961.1,761.4 L962.4,763.4 L963.7,765.3 L965.0,767.2 L966.3,769.2 L967.6,771.2 L968.9,773.2 L970.2,775.2 L971.5,777.2 L972.8,779.2 L974.1,781.2 L975.4,783.2 L976.7,785.3 L978.0,787.3 L979.3,789.3 L980.6,791.3 L981.9,793.3 L983.2,795.3 L984.5,797.3 L985.8,799.2 L987.1,801.2 L988.3,803.1 L989.6,805.1 L990.9,807.0 L992.2,808.9 L993.5,810.7 L994.8,812.6 L996.1,814.5 L997.4,816.3 L998.7,818.1 L1000.0,820.0 L1001.3,821.8 L1002.6,823.6 L1003.9,825.3 L1005.2,827.1 L1006.5,828.8 L1007.8,830.6 L1009.1,832.3 L1010.4,834.0 L1011.7,835.6 L1013.0,837.3 L1014.3,839.0 L1015.6,840.6 L1016.9,842.2 L1018.2,843.8 L1019.5,845.4 L1020.8,847.0 L1022.1,848.6 L1023.4,850.1 L1024.7,851.6 L1026.0,853.1 L1027.3,854.6 L1028.6,856.1 L1029.9,857.6 L1031.1,859.0 L1032.4,860.4 L1033.7,861.9 L1035.0,863.3 L1036.3,864.6 L1037.6,866.0 L1038.9,867.4 L1040.2,868.7 L1041.5,870.0 L1042.8,871.3 L1044.1,872.6 L1045.4,873.9 L1046.7,875.2 L1048.0,876.4 L1049.3,877.7 L1050.6,878.9 L1051.9,880.1 L1053.2,881.3 L1054.5,882.5 L1055.8,883.7 L1057.1,884.8 L1058.4,886.0 L1059.7,887.1 L1061.0,888.2 L1062.3,889.3 L1063.6,890.4 L1064.9,891.5 L1066.2,892.5 L1067.5,893.6 L1068.8,894.6 L1070.1,895.7 L1071.4,896.7 L1072.7,897.7 L1073.9,898.7 L1075.2,899.6 L1076.5,900.6 L1077.8,901.6 L1079.1,902.5 L1080.4,903.4 L1081.7,904.4 L1083.0,905.3 L1084.3,906.2 L1085.6,907.0 L1086.9,907.9 L1088.2,908.8 L1089.5,909.6 L1090.8,910.5 L1092.1,911.3 L1093.4,912.1 L1094.7,912.9 L1096.0,913.7 L1097.3,914.5 L1098.6,915.3 L1099.9,916.0 L1101.2,916.8 L1102.5,917.5 L1103.8,918.3 L1105.1,919.0 L1106.4,919.7 L1107.7,920.5 L1109.0,921.2 L1110.3,921.9 L1111.6,922.6 L1112.9,923.3 L1114.2,924.0 L1115.5,924.6 L1116.8,925.3 L1118.0,925.9 L1119.3,926.6 L1120.6,927.2 L1121.9,927.9 L1123.2,928.5 L1124.5,929.1 L1125.8,929.7 L1127.1,930.3 L1128.4,930.9 L1129.7,931.5 L1131.0,932.0 L1132.3,932.6 L1133.6,933.1 L1134.9,933.7 L1136.2,934.2 L1137.5,934.7 L1138.8,935.2 L1140.1,935.7 L1141.4,936.2 L1142.7,936.7 L1144.0,937.2 L1145.3,937.7 L1146.6,938.1 L1147.9,938.6 L1149.2,939.0 L1150.5,939.4 L1151.8,939.8 L1153.1,940.2 L1154.4,940.6 L1155.7,941.0 L1157.0,941.3 L1158.3,941.6 L1159.6,942.0 L1160.8,942.3 L1162.1,942.6 L1163.4,942.9 L1164.7,943.2 L1166.0,943.4 L1167.3,943.7 L1168.6,944.0 L1169.9,944.2 L1171.2,944.5 L1172.5,944.7 L1173.8,945.0 L1175.1,945.2 L1176.4,945.5 L1177.7,945.7 L1179.0,945.9 L1180.3,946.2 L1181.6,946.4 L1182.9,946.6 L1184.2,946.9 L1185.5,947.1 L1186.8,947.3 L1188.1,947.6 L1189.4,947.8 L1190.7,948.1 L1192.0,948.3 L1193.3,948.5 L1194.6,948.8 L1195.9,949.0 L1197.2,949.3 L1198.5,949.6 L1199.8,949.8 L1201.1,950.1 L1202.4,950.3 L1203.6,950.6 L1204.9,950.9 L1206.2,951.1 L1207.5,951.3 L1208.8,951.6 L1210.1,951.8 L1211.4,952.1 L1212.7,952.3 L1214.0,952.5 L1215.3,952.7 L1216.6,953.0 L1217.9,953.2 L1219.2,953.4 L1220.5,953.6 L1221.8,953.8 L1223.1,954.0 L1224.4,954.2 L1225.7,954.4 L1227.0,954.6 L1228.3,954.8 L1229.6,954.9 L1230.9,955.1 L1232.2,955.3 L1233.5,955.5 L1234.8,955.6 L1236.1,955.8 L1237.4,956.0 L1238.7,956.1 L1240.0,956.3 L1241.3,956.5 L1242.6,956.6 L1243.9,956.8 L1245.2,956.9 L1246.5,957.1 L1247.7,957.2 L1249.0,957.4 L1250.3,957.5 L1251.6,957.6 L1252.9,957.8 L1254.2,957.9 L1255.5,958.0 L1256.8,958.2 L1258.1,958.3 L1259.4,958.4 L1260.7,958.5 L1262.0,958.7 L1263.3,958.8 L1264.6,958.9 L1265.9,959.0 L1267.2,959.1 L1268.5,959.2 L1269.8,959.4 L1271.1,959.5 L1272.4,959.6 L1273.7,959.7 L1275.0,959.8 L1276.3,959.9 L1277.6,960.0 L1278.9,960.1 L1280.2,960.2 L1281.5,960.3 L1282.8,960.4 L1284.1,960.5 L1285.4,960.6 L1286.7,960.7 L1288.0,960.8 L1289.3,960.9 L1290.5,961.0 L1291.8,961.1 L1293.1,961.2 L1294.4,961.3 L1295.7,961.4 L1297.0,961.4 L1298.3,961.5 L1299.6,961.6 L1300.9,961.7 L1302.2,961.8 L1303.5,961.9 L1304.8,962.0 L1306.1,962.1 L1307.4,962.2 L1308.7,962.2 L1310.0,962.3 L1311.3,962.4 L1312.6,962.5 L1313.9,962.6 L1315.2,962.7 L1316.5,962.8 L1317.8,962.9 L1319.1,963.0 L1320.4,963.1 L1321.7,963.1 L1323.0,963.2 L1324.3,963.3 L1325.6,963.4 L1326.9,963.5 L1328.2,963.6 L1329.5,963.7 L1330.8,963.8 L1332.1,963.9 L1333.3,964.0 L1334.6,964.1 L1335.9,964.2 L1337.2,964.3 L1338.5,964.4 L1339.8,964.5 L1341.1,964.6 L1342.4,964.7 L1343.7,964.8 L1345.0,964.9 L1346.3,965.0 L1347.6,965.1 L1348.9,965.3 L1350.2,965.4 L1351.5,965.5 L1352.8,965.6 L1354.1,965.7 L1355.4,965.8 L1356.7,965.9 L1358.0,966.0 L1359.3,966.2 L1360.6,966.3 L1361.9,966.4 L1363.2,966.5 L1364.5,966.6 L1365.8,966.7 L1367.1,966.8 L1368.4,966.9 L1369.7,967.1 L1371.0,967.2 L1372.3,967.3 L1373.6,967.4 L1374.9,967.5 L1376.2,967.6 L1377.4,967.7 L1378.7,967.8 L1380.0,967.9 L1381.3,968.0 L1382.6,968.2 L1383.9,968.3 L1385.2,968.4 L1386.5,968.5 L1387.8,968.6 L1389.1,968.7 L1390.4,968.8 L1391.7,968.8 L1393.0,968.9 L1394.3,969.0 L1395.6,969.1 L1396.9,969.2 L1398.2,969.3 L1399.5,969.4 L1400.8,969.5 L1402.1,969.5 L1403.4,969.6 L1404.7,969.7 L1406.0,969.8 L1407.3,969.8 L1408.6,969.9 L1409.9,970.0 L1411.2,970.0 L1412.5,970.1 L1413.8,970.2 L1415.1,970.2 L1416.4,970.3 L1417.7,970.3 L1419.0,970.4 L1420.2,970.4 L1421.5,970.4 L1422.8,970.5 L1424.1,970.5 L1425.4,970.5 L1426.7,970.6 L1428.0,970.6 L1429.3,970.6 L1430.6,970.6 L1431.9,970.6 L1433.2,970.6 L1434.5,970.6 L1435.8,970.6 L1437.1,970.6 L1438.4,970.6 L1439.7,970.6 L1441.0,970.6"/>
<path class="c" stroke="#37AD6B" d="M275.0,869.5 L276.3,868.2 L277.6,867.1 L278.9,865.9 L280.2,864.8 L281.5,863.8 L282.8,862.8 L284.1,861.9 L285.4,861.0 L286.7,860.2 L288.0,859.4 L289.3,858.7 L290.6,858.0 L291.9,857.4 L293.2,856.8 L294.5,856.2 L295.8,855.7 L297.0,855.2 L298.3,854.8 L299.6,854.4 L300.9,854.0 L302.2,853.7 L303.5,853.4 L304.8,853.1 L306.1,852.9 L307.4,852.7 L308.7,852.5 L310.0,852.4 L311.3,852.3 L312.6,852.1 L313.9,852.1 L315.2,852.0 L316.5,852.0 L317.8,852.0 L319.1,852.0 L320.4,852.0 L321.7,852.0 L323.0,852.1 L324.3,852.1 L325.6,852.2 L326.9,852.3 L328.2,852.4 L329.5,852.5 L330.8,852.6 L332.1,852.8 L333.4,852.9 L334.7,853.0 L336.0,853.2 L337.3,853.3 L338.6,853.4 L339.8,853.6 L341.1,853.7 L342.4,853.8 L343.7,854.0 L345.0,854.1 L346.3,854.2 L347.6,854.3 L348.9,854.4 L350.2,854.5 L351.5,854.6 L352.8,854.7 L354.1,854.7 L355.4,854.8 L356.7,854.8 L358.0,854.8 L359.3,854.7 L360.6,854.7 L361.9,854.6 L363.2,854.5 L364.5,854.4 L365.8,854.2 L367.1,854.0 L368.4,853.8 L369.7,853.6 L371.0,853.3 L372.3,852.9 L373.6,852.6 L374.9,852.2 L376.2,851.7 L377.5,851.2 L378.8,850.7 L380.1,850.1 L381.4,849.5 L382.7,848.7 L383.9,847.9 L385.2,847.1 L386.5,846.1 L387.8,845.0 L389.1,843.8 L390.4,842.4 L391.7,841.0 L393.0,839.4 L394.3,837.6 L395.6,835.7 L396.9,833.7 L398.2,831.4 L399.5,829.0 L400.8,826.5 L402.1,823.8 L403.4,821.0 L404.7,818.0 L406.0,814.8 L407.3,811.5 L408.6,808.0 L409.9,804.4 L411.2,800.6 L412.5,796.6 L413.8,792.5 L415.1,788.3 L416.4,783.9 L417.7,779.3 L419.0,774.6 L420.3,769.7 L421.6,764.7 L422.9,759.5 L424.2,754.2 L425.5,748.7 L426.7,743.1 L428.0,737.3 L429.3,731.4 L430.6,725.4 L431.9,719.2 L433.2,712.9 L434.5,706.4 L435.8,699.8 L437.1,693.1 L438.4,686.2 L439.7,679.3 L441.0,672.1 L442.3,664.9 L443.6,657.6 L444.9,650.1 L446.2,642.5 L447.5,634.9 L448.8,627.1 L450.1,619.2 L451.4,611.2 L452.7,603.1 L454.0,594.9 L455.3,586.6 L456.6,578.2 L457.9,569.7 L459.2,561.2 L460.5,552.6 L461.8,543.9 L463.1,535.1 L464.4,526.3 L465.7,517.5 L467.0,508.6 L468.3,499.6 L469.5,490.7 L470.8,481.7 L472.1,472.7 L473.4,463.8 L474.7,454.8 L476.0,445.8 L477.3,436.8 L478.6,427.9 L479.9,419.0 L481.2,410.2 L482.5,401.5 L483.8,392.8 L485.1,384.2 L486.4,375.8 L487.7,367.4 L489.0,359.2 L490.3,351.1 L491.6,343.2 L492.9,335.5 L494.2,328.0 L495.5,320.6 L496.8,313.5 L498.1,306.6 L499.4,299.9 L500.7,293.5 L502.0,287.4 L503.3,281.4 L504.6,275.8 L505.9,270.4 L507.2,265.2 L508.5,260.3 L509.8,255.6 L511.1,251.2 L512.4,247.0 L513.6,243.0 L514.9,239.2 L516.2,235.7 L517.5,232.4 L518.8,229.3 L520.1,226.4 L521.4,223.8 L522.7,221.3 L524.0,219.1 L525.3,217.1 L526.6,215.2 L527.9,213.6 L529.2,212.2 L530.5,210.9 L531.8,209.9 L533.1,209.1 L534.4,208.4 L535.7,207.9 L537.0,207.6 L538.3,207.5 L539.6,207.6 L540.9,207.8 L542.2,208.2 L543.5,208.8 L544.8,209.6 L546.1,210.5 L547.4,211.6 L548.7,212.9 L550.0,214.3 L551.3,215.9 L552.6,217.6 L553.9,219.5 L555.2,221.6 L556.4,223.8 L557.7,226.2 L559.0,228.7 L560.3,231.3 L561.6,234.1 L562.9,237.0 L564.2,240.0 L565.5,243.2 L566.8,246.4 L568.1,249.8 L569.4,253.3 L570.7,256.9 L572.0,260.6 L573.3,264.4 L574.6,268.3 L575.9,272.2 L577.2,276.3 L578.5,280.4 L579.8,284.6 L581.1,288.8 L582.4,293.1 L583.7,297.5 L585.0,301.9 L586.3,306.4 L587.6,310.9 L588.9,315.4 L590.2,319.9 L591.5,324.5 L592.8,329.2 L594.1,333.8 L595.4,338.4 L596.7,343.1 L598.0,347.7 L599.2,352.3 L600.5,357.0 L601.8,361.6 L603.1,366.2 L604.4,370.8 L605.7,375.4 L607.0,379.9 L608.3,384.5 L609.6,389.0 L610.9,393.5 L612.2,398.0 L613.5,402.5 L614.8,406.9 L616.1,411.4 L617.4,415.8 L618.7,420.2 L620.0,424.6 L621.3,429.0 L622.6,433.4 L623.9,437.8 L625.2,442.1 L626.5,446.5 L627.8,450.8 L629.1,455.1 L630.4,459.4 L631.7,463.7 L633.0,467.9 L634.3,472.2 L635.6,476.4 L636.9,480.6 L638.2,484.8 L639.5,489.0 L640.8,493.2 L642.1,497.4 L643.3,501.5 L644.6,505.7 L645.9,509.8 L647.2,513.9 L648.5,517.9 L649.8,522.0 L651.1,526.0 L652.4,530.0 L653.7,534.0 L655.0,537.9 L656.3,541.9 L657.6,545.8 L658.9,549.7 L660.2,553.5 L661.5,557.3 L662.8,561.1 L664.1,564.9 L665.4,568.6 L666.7,572.3 L668.0,576.0 L669.3,579.6 L670.6,583.2 L671.9,586.8 L673.2,590.3 L674.5,593.8 L675.8,597.2 L677.1,600.7 L678.4,604.0 L679.7,607.4 L681.0,610.6 L682.3,613.9 L683.6,617.1 L684.9,620.3 L686.1,623.4 L687.4,626.4 L688.7,629.5 L690.0,632.4 L691.3,635.4 L692.6,638.2 L693.9,641.1 L695.2,643.9 L696.5,646.6 L697.8,649.3 L699.1,652.0 L700.4,654.6 L701.7,657.2 L703.0,659.7 L704.3,662.2 L705.6,664.7 L706.9,667.1 L708.2,669.5 L709.5,671.9 L710.8,674.2 L712.1,676.5 L713.4,678.8 L714.7,681.0 L716.0,683.2 L717.3,685.4 L718.6,687.6 L719.9,689.7 L721.2,691.8 L722.5,693.9 L723.8,696.0 L725.1,698.0 L726.4,700.1 L727.7,702.1 L728.9,704.1 L730.2,706.1 L731.5,708.0 L732.8,710.0 L734.1,711.9 L735.4,713.8 L736.7,715.8 L738.0,717.7 L739.3,719.6 L740.6,721.5 L741.9,723.4 L743.2,725.2 L744.5,727.1 L745.8,729.0 L747.1,730.8 L748.4,732.6 L749.7,734.5 L751.0,736.2 L752.3,738.0 L753.6,739.7 L754.9,741.4 L756.2,743.1 L757.5,744.7 L758.8,746.3 L760.1,747.9 L761.4,749.4 L762.7,750.9 L764.0,752.4 L765.3,753.9 L766.6,755.3 L767.9,756.7 L769.2,758.1 L770.5,759.4 L771.7,760.8 L773.0,762.1 L774.3,763.4 L775.6,764.6 L776.9,765.9 L778.2,767.1 L779.5,768.3 L780.8,769.5 L782.1,770.7 L783.4,771.9 L784.7,773.0 L786.0,774.1 L787.3,775.2 L788.6,776.3 L789.9,777.3 L791.2,778.3 L792.5,779.2 L793.8,780.1 L795.1,781.0 L796.4,781.8 L797.7,782.5 L799.0,783.2 L800.3,783.9 L801.6,784.4 L802.9,784.9 L804.2,785.4 L805.5,785.8 L806.8,786.1 L808.1,786.3 L809.4,786.4 L810.7,786.5 L812.0,786.5 L813.3,786.4 L814.6,786.2 L815.8,786.0 L817.1,785.6 L818.4,785.3 L819.7,784.8 L821.0,784.3 L822.3,783.7 L823.6,783.1 L824.9,782.4 L826.2,781.6 L827.5,780.8 L828.8,780.0 L830.1,779.1 L831.4,778.1 L832.7,777.2 L834.0,776.2 L835.3,775.1 L836.6,774.0 L837.9,772.9 L839.2,771.8 L840.5,770.6 L841.8,769.4 L843.1,768.2 L844.4,766.9 L845.7,765.7 L847.0,764.4 L848.3,763.1 L849.6,761.8 L850.9,760.5 L852.2,759.2 L853.5,757.9 L854.8,756.6 L856.1,755.2 L857.4,753.9 L858.6,752.6 L859.9,751.3 L861.2,750.0 L862.5,748.7 L863.8,747.4 L865.1,746.2 L866.4,745.0 L867.7,743.7 L869.0,742.5 L870.3,741.4 L871.6,740.2 L872.9,739.1 L874.2,738.0 L875.5,737.0 L876.8,736.0 L878.1,735.0 L879.4,734.1 L880.7,733.2 L882.0,732.3 L883.3,731.5 L884.6,730.8 L885.9,730.0 L887.2,729.4 L888.5,728.8 L889.8,728.2 L891.1,727.7 L892.4,727.2 L893.7,726.8 L895.0,726.4 L896.3,726.1 L897.6,725.8 L898.9,725.5 L900.2,725.3 L901.4,725.2 L902.7,725.1 L904.0,725.0 L905.3,725.0 L906.6,725.0 L907.9,725.1 L909.2,725.2 L910.5,725.4 L911.8,725.6 L913.1,725.9 L914.4,726.2 L915.7,726.6 L917.0,727.0 L918.3,727.4 L919.6,727.9 L920.9,728.5 L922.2,729.0 L923.5,729.7 L924.8,730.3 L926.1,731.1 L927.4,731.8 L928.7,732.6 L930.0,733.5 L931.3,734.4 L932.6,735.3 L933.9,736.3 L935.2,737.3 L936.5,738.4 L937.8,739.5 L939.1,740.7 L940.4,741.9 L941.7,743.2 L943.0,744.5 L944.3,745.8 L945.5,747.2 L946.8,748.6 L948.1,750.1 L949.4,751.6 L950.7,753.2 L952.0,754.8 L953.3,756.4 L954.6,758.0 L955.9,759.7 L957.2,761.4 L958.5,763.2 L959.8,764.9 L961.1,766.7 L962.4,768.5 L963.7,770.4 L965.0,772.2 L966.3,774.1 L967.6,776.0 L968.9,777.9 L970.2,779.8 L971.5,781.7 L972.8,783.6 L974.1,785.5 L975.4,787.5 L976.7,789.4 L978.0,791.3 L979.3,793.2 L980.6,795.2 L981.9,797.1 L983.2,799.0 L984.5,800.9 L985.8,802.8 L987.1,804.6 L988.3,806.5 L989.6,808.3 L990.9,810.2 L992.2,812.0 L993.5,813.8 L994.8,815.6 L996.1,817.4 L997.4,819.1 L998.7,820.9 L1000.0,822.6 L1001.3,824.4 L1002.6,826.1 L1003.9,827.8 L1005.2,829.5 L1006.5,831.1 L1007.8,832.8 L1009.1,834.4 L1010.4,836.1 L1011.7,837.7 L1013.0,839.3 L1014.3,840.9 L1015.6,842.5 L1016.9,844.0 L1018.2,845.6 L1019.5,847.1 L1020.8,848.6 L1022.1,850.1 L1023.4,851.6 L1024.7,853.1 L1026.0,854.5 L1027.3,856.0 L1028.6,857.4 L1029.9,858.8 L1031.1,860.2 L1032.4,861.6 L1033.7,863.0 L1035.0,864.3 L1036.3,865.7 L1037.6,867.0 L1038.9,868.3 L1040.2,869.6 L1041.5,870.9 L1042.8,872.1 L1044.1,873.4 L1045.4,874.7 L1046.7,875.9 L1048.0,877.1 L1049.3,878.3 L1050.6,879.5 L1051.9,880.7 L1053.2,881.9 L1054.5,883.0 L1055.8,884.2 L1057.1,885.3 L1058.4,886.4 L1059.7,887.5 L1061.0,888.6 L1062.3,889.7 L1063.6,890.8 L1064.9,891.9 L1066.2,892.9 L1067.5,893.9 L1068.8,895.0 L1070.1,896.0 L1071.4,897.0 L1072.7,898.0 L1073.9,899.0 L1075.2,899.9 L1076.5,900.9 L1077.8,901.8 L1079.1,902.8 L1080.4,903.7 L1081.7,904.6 L1083.0,905.5 L1084.3,906.4 L1085.6,907.2 L1086.9,908.1 L1088.2,909.0 L1089.5,909.8 L1090.8,910.6 L1092.1,911.4 L1093.4,912.3 L1094.7,913.1 L1096.0,913.8 L1097.3,914.6 L1098.6,915.4 L1099.9,916.1 L1101.2,916.9 L1102.5,917.6 L1103.8,918.4 L1105.1,919.1 L1106.4,919.8 L1107.7,920.6 L1109.0,921.3 L1110.3,922.0 L1111.6,922.7 L1112.9,923.4 L1114.2,924.1 L1115.5,924.8 L1116.8,925.5 L1118.0,926.2 L1119.3,926.8 L1120.6,927.5 L1121.9,928.1 L1123.2,928.8 L1124.5,929.4 L1125.8,930.0 L1127.1,930.6 L1128.4,931.2 L1129.7,931.8 L1131.0,932.4 L1132.3,932.9 L1133.6,933.5 L1134.9,934.1 L1136.2,934.6 L1137.5,935.1 L1138.8,935.7 L1140.1,936.2 L1141.4,936.7 L1142.7,937.2 L1144.0,937.6 L1145.3,938.1 L1146.6,938.6 L1147.9,939.0 L1149.2,939.5 L1150.5,939.9 L1151.8,940.3 L1153.1,940.7 L1154.4,941.1 L1155.7,941.4 L1157.0,941.8 L1158.3,942.1 L1159.6,942.5 L1160.8,942.8 L1162.1,943.1 L1163.4,943.4 L1164.7,943.7 L1166.0,943.9 L1167.3,944.2 L1168.6,944.5 L1169.9,944.7 L1171.2,945.0 L1172.5,945.3 L1173.8,945.5 L1175.1,945.8 L1176.4,946.0 L1177.7,946.2 L1179.0,946.5 L1180.3,946.7 L1181.6,947.0 L1182.9,947.2 L1184.2,947.4 L1185.5,947.7 L1186.8,947.9 L1188.1,948.1 L1189.4,948.4 L1190.7,948.6 L1192.0,948.8 L1193.3,949.1 L1194.6,949.3 L1195.9,949.6 L1197.2,949.8 L1198.5,950.1 L1199.8,950.3 L1201.1,950.6 L1202.4,950.8 L1203.6,951.1 L1204.9,951.3 L1206.2,951.6 L1207.5,951.8 L1208.8,952.0 L1210.1,952.3 L1211.4,952.5 L1212.7,952.7 L1214.0,952.9 L1215.3,953.1 L1216.6,953.3 L1217.9,953.5 L1219.2,953.7 L1220.5,953.9 L1221.8,954.1 L1223.1,954.3 L1224.4,954.5 L1225.7,954.7 L1227.0,954.9 L1228.3,955.1 L1229.6,955.3 L1230.9,955.4 L1232.2,955.6 L1233.5,955.8 L1234.8,955.9 L1236.1,956.1 L1237.4,956.3 L1238.7,956.4 L1240.0,956.6 L1241.3,956.7 L1242.6,956.9 L1243.9,957.0 L1245.2,957.2 L1246.5,957.3 L1247.7,957.5 L1249.0,957.6 L1250.3,957.7 L1251.6,957.9 L1252.9,958.0 L1254.2,958.1 L1255.5,958.3 L1256.8,958.4 L1258.1,958.5 L1259.4,958.6 L1260.7,958.7 L1262.0,958.9 L1263.3,959.0 L1264.6,959.1 L1265.9,959.2 L1267.2,959.3 L1268.5,959.4 L1269.8,959.5 L1271.1,959.6 L1272.4,959.8 L1273.7,959.9 L1275.0,960.0 L1276.3,960.1 L1277.6,960.2 L1278.9,960.3 L1280.2,960.4 L1281.5,960.5 L1282.8,960.6 L1284.1,960.7 L1285.4,960.7 L1286.7,960.8 L1288.0,960.9 L1289.3,961.0 L1290.5,961.1 L1291.8,961.2 L1293.1,961.3 L1294.4,961.4 L1295.7,961.5 L1297.0,961.6 L1298.3,961.7 L1299.6,961.7 L1300.9,961.8 L1302.2,961.9 L1303.5,962.0 L1304.8,962.1 L1306.1,962.2 L1307.4,962.3 L1308.7,962.4 L1310.0,962.4 L1311.3,962.5 L1312.6,962.6 L1313.9,962.7 L1315.2,962.8 L1316.5,962.9 L1317.8,963.0 L1319.1,963.1 L1320.4,963.1 L1321.7,963.2 L1323.0,963.3 L1324.3,963.4 L1325.6,963.5 L1326.9,963.6 L1328.2,963.7 L1329.5,963.8 L1330.8,963.9 L1332.1,964.0 L1333.3,964.1 L1334.6,964.2 L1335.9,964.3 L1337.2,964.4 L1338.5,964.5 L1339.8,964.6 L1341.1,964.7 L1342.4,964.8 L1343.7,964.9 L1345.0,965.0 L1346.3,965.1 L1347.6,965.2 L1348.9,965.3 L1350.2,965.4 L1351.5,965.5 L1352.8,965.6 L1354.1,965.8 L1355.4,965.9 L1356.7,966.0 L1358.0,966.1 L1359.3,966.2 L1360.6,966.3 L1361.9,966.4 L1363.2,966.5 L1364.5,966.7 L1365.8,966.8 L1367.1,966.9 L1368.4,967.0 L1369.7,967.1 L1371.0,967.2 L1372.3,967.3 L1373.6,967.4 L1374.9,967.5 L1376.2,967.7 L1377.4,967.8 L1378.7,967.9 L1380.0,968.0 L1381.3,968.1 L1382.6,968.2 L1383.9,968.3 L1385.2,968.4 L1386.5,968.5 L1387.8,968.6 L1389.1,968.7 L1390.4,968.8 L1391.7,968.9 L1393.0,969.0 L1394.3,969.1 L1395.6,969.1 L1396.9,969.2 L1398.2,969.3 L1399.5,969.4 L1400.8,969.5 L1402.1,969.6 L1403.4,969.6 L1404.7,969.7 L1406.0,969.8 L1407.3,969.9 L1408.6,969.9 L1409.9,970.0 L1411.2,970.0 L1412.5,970.1 L1413.8,970.2 L1415.1,970.2 L1416.4,970.3 L1417.7,970.3 L1419.0,970.4 L1420.2,970.4 L1421.5,970.4 L1422.8,970.5 L1424.1,970.5 L1425.4,970.5 L1426.7,970.6 L1428.0,970.6 L1429.3,970.6 L1430.6,970.6 L1431.9,970.6 L1433.2,970.6 L1434.5,970.6 L1435.8,970.6 L1437.1,970.6 L1438.4,970.6 L1439.7,970.6 L1441.0,970.6"/>
<path class="c" stroke="#B177DE" d="M275.0,871.3 L276.3,870.1 L277.6,868.9 L278.9,867.8 L280.2,866.8 L281.5,865.8 L282.8,864.9 L284.1,864.0 L285.4,863.1 L286.7,862.3 L288.0,861.6 L289.3,860.9 L290.6,860.2 L291.9,859.6 L293.2,859.0 L294.5,858.5 L295.8,858.0 L297.0,857.5 L298.3,857.1 L299.6,856.7 L300.9,856.3 L302.2,856.0 L303.5,855.7 L304.8,855.4 L306.1,855.2 L307.4,855.0 L308.7,854.8 L310.0,854.7 L311.3,854.5 L312.6,854.4 L313.9,854.4 L315.2,854.3 L316.5,854.3 L317.8,854.3 L319.1,854.3 L320.4,854.3 L321.7,854.3 L323.0,854.4 L324.3,854.4 L325.6,854.5 L326.9,854.6 L328.2,854.7 L329.5,854.8 L330.8,854.9 L332.1,855.0 L333.4,855.1 L334.7,855.3 L336.0,855.4 L337.3,855.5 L338.6,855.7 L339.8,855.8 L341.1,855.9 L342.4,856.1 L343.7,856.2 L345.0,856.3 L346.3,856.5 L347.6,856.6 L348.9,856.7 L350.2,856.8 L351.5,856.9 L352.8,856.9 L354.1,857.0 L355.4,857.0 L356.7,857.0 L358.0,857.0 L359.3,857.0 L360.6,857.0 L361.9,856.9 L363.2,856.8 L364.5,856.7 L365.8,856.6 L367.1,856.4 L368.4,856.2 L369.7,856.0 L371.0,855.7 L372.3,855.4 L373.6,855.1 L374.9,854.7 L376.2,854.3 L377.5,853.8 L378.8,853.3 L380.1,852.8 L381.4,852.2 L382.7,851.5 L383.9,850.7 L385.2,849.9 L386.5,849.0 L387.8,848.0 L389.1,846.8 L390.4,845.6 L391.7,844.2 L393.0,842.7 L394.3,841.1 L395.6,839.3 L396.9,837.3 L398.2,835.2 L399.5,832.9 L400.8,830.5 L402.1,828.0 L403.4,825.2 L404.7,822.3 L406.0,819.3 L407.3,816.1 L408.6,812.8 L409.9,809.3 L411.2,805.6 L412.5,801.8 L413.8,797.9 L415.1,793.7 L416.4,789.5 L417.7,785.1 L419.0,780.5 L420.3,775.8 L421.6,770.9 L422.9,765.9 L424.2,760.7 L425.5,755.4 L426.7,749.9 L428.0,744.3 L429.3,738.6 L430.6,732.7 L431.9,726.7 L433.2,720.5 L434.5,714.2 L435.8,707.7 L437.1,701.2 L438.4,694.5 L439.7,687.6 L441.0,680.7 L442.3,673.6 L443.6,666.4 L444.9,659.1 L446.2,651.7 L447.5,644.1 L448.8,636.5 L450.1,628.8 L451.4,620.9 L452.7,613.0 L454.0,604.9 L455.3,596.8 L456.6,588.5 L457.9,580.2 L459.2,571.8 L460.5,563.3 L461.8,554.7 L463.1,546.1 L464.4,537.4 L465.7,528.7 L467.0,519.9 L468.3,511.1 L469.5,502.3 L470.8,493.4 L472.1,484.6 L473.4,475.7 L474.7,466.8 L476.0,458.0 L477.3,449.1 L478.6,440.3 L479.9,431.5 L481.2,422.8 L482.5,414.1 L483.8,405.6 L485.1,397.1 L486.4,388.7 L487.7,380.5 L489.0,372.3 L490.3,364.4 L491.6,356.5 L492.9,348.9 L494.2,341.5 L495.5,334.2 L496.8,327.2 L498.1,320.3 L499.4,313.8 L500.7,307.5 L502.0,301.4 L503.3,295.6 L504.6,290.0 L505.9,284.7 L507.2,279.7 L508.5,274.8 L509.8,270.3 L511.1,265.9 L512.4,261.8 L513.6,258.0 L514.9,254.3 L516.2,250.9 L517.5,247.7 L518.8,244.7 L520.1,242.0 L521.4,239.4 L522.7,237.1 L524.0,235.0 L525.3,233.0 L526.6,231.3 L527.9,229.8 L529.2,228.5 L530.5,227.4 L531.8,226.4 L533.1,225.7 L534.4,225.1 L535.7,224.7 L537.0,224.5 L538.3,224.5 L539.6,224.7 L540.9,225.0 L542.2,225.5 L543.5,226.2 L544.8,227.0 L546.1,228.0 L547.4,229.1 L548.7,230.5 L550.0,231.9 L551.3,233.5 L552.6,235.3 L553.9,237.2 L555.2,239.3 L556.4,241.5 L557.7,243.9 L559.0,246.3 L560.3,249.0 L561.6,251.7 L562.9,254.6 L564.2,257.5 L565.5,260.6 L566.8,263.8 L568.1,267.1 L569.4,270.5 L570.7,274.0 L572.0,277.6 L573.3,281.3 L574.6,285.1 L575.9,288.9 L577.2,292.8 L578.5,296.8 L579.8,300.8 L581.1,304.9 L582.4,309.1 L583.7,313.3 L585.0,317.5 L586.3,321.8 L587.6,326.1 L588.9,330.4 L590.2,334.8 L591.5,339.2 L592.8,343.6 L594.1,348.1 L595.4,352.5 L596.7,357.0 L598.0,361.4 L599.2,365.8 L600.5,370.3 L601.8,374.7 L603.1,379.1 L604.4,383.4 L605.7,387.8 L607.0,392.1 L608.3,396.4 L609.6,400.7 L610.9,405.0 L612.2,409.2 L613.5,413.5 L614.8,417.7 L616.1,421.9 L617.4,426.0 L618.7,430.2 L620.0,434.4 L621.3,438.5 L622.6,442.6 L623.9,446.7 L625.2,450.8 L626.5,454.9 L627.8,458.9 L629.1,463.0 L630.4,467.0 L631.7,471.0 L633.0,475.0 L634.3,479.0 L635.6,483.0 L636.9,487.0 L638.2,490.9 L639.5,494.8 L640.8,498.7 L642.1,502.6 L643.3,506.5 L644.6,510.3 L645.9,514.1 L647.2,518.0 L648.5,521.8 L649.8,525.6 L651.1,529.3 L652.4,533.1 L653.7,536.8 L655.0,540.6 L656.3,544.3 L657.6,548.0 L658.9,551.7 L660.2,555.4 L661.5,559.1 L662.8,562.7 L664.1,566.4 L665.4,570.0 L666.7,573.6 L668.0,577.2 L669.3,580.8 L670.6,584.3 L671.9,587.9 L673.2,591.4 L674.5,594.9 L675.8,598.3 L677.1,601.8 L678.4,605.2 L679.7,608.5 L681.0,611.8 L682.3,615.1 L683.6,618.4 L684.9,621.6 L686.1,624.8 L687.4,628.0 L688.7,631.1 L690.0,634.1 L691.3,637.2 L692.6,640.2 L693.9,643.2 L695.2,646.2 L696.5,649.2 L697.8,652.2 L699.1,655.1 L700.4,658.0 L701.7,660.9 L703.0,663.7 L704.3,666.5 L705.6,669.3 L706.9,672.1 L708.2,674.8 L709.5,677.4 L710.8,680.0 L712.1,682.6 L713.4,685.2 L714.7,687.7 L716.0,690.1 L717.3,692.5 L718.6,694.9 L719.9,697.2 L721.2,699.5 L722.5,701.7 L723.8,703.9 L725.1,706.1 L726.4,708.2 L727.7,710.3 L728.9,712.3 L730.2,714.2 L731.5,716.2 L732.8,718.1 L734.1,719.9 L735.4,721.8 L736.7,723.7 L738.0,725.5 L739.3,727.3 L740.6,729.2 L741.9,731.0 L743.2,732.8 L744.5,734.6 L745.8,736.4 L747.1,738.2 L748.4,739.9 L749.7,741.7 L751.0,743.4 L752.3,745.1 L753.6,746.8 L754.9,748.4 L756.2,750.0 L757.5,751.6 L758.8,753.1 L760.1,754.7 L761.4,756.2 L762.7,757.6 L764.0,759.0 L765.3,760.5 L766.6,761.8 L767.9,763.2 L769.2,764.5 L770.5,765.8 L771.7,767.1 L773.0,768.4 L774.3,769.6 L775.6,770.9 L776.9,772.1 L778.2,773.3 L779.5,774.4 L780.8,775.6 L782.1,776.7 L783.4,777.9 L784.7,779.0 L786.0,780.1 L787.3,781.1 L788.6,782.1 L789.9,783.1 L791.2,784.1 L792.5,785.0 L793.8,785.9 L795.1,786.8 L796.4,787.6 L797.7,788.3 L799.0,789.0 L800.3,789.6 L801.6,790.2 L802.9,790.7 L804.2,791.2 L805.5,791.6 L806.8,791.9 L808.1,792.1 L809.4,792.3 L810.7,792.4 L812.0,792.4 L813.3,792.3 L814.6,792.2 L815.8,792.0 L817.1,791.7 L818.4,791.3 L819.7,790.9 L821.0,790.4 L822.3,789.8 L823.6,789.2 L824.9,788.5 L826.2,787.8 L827.5,787.0 L828.8,786.2 L830.1,785.3 L831.4,784.4 L832.7,783.4 L834.0,782.4 L835.3,781.4 L836.6,780.3 L837.9,779.1 L839.2,778.0 L840.5,776.8 L841.8,775.6 L843.1,774.4 L844.4,773.1 L845.7,771.8 L847.0,770.6 L848.3,769.3 L849.6,767.9 L850.9,766.6 L852.2,765.3 L853.5,763.9 L854.8,762.6 L856.1,761.2 L857.4,759.9 L858.6,758.6 L859.9,757.2 L861.2,755.9 L862.5,754.6 L863.8,753.3 L865.1,752.0 L866.4,750.8 L867.7,749.5 L869.0,748.3 L870.3,747.1 L871.6,746.0 L872.9,744.8 L874.2,743.7 L875.5,742.7 L876.8,741.6 L878.1,740.7 L879.4,739.7 L880.7,738.8 L882.0,738.0 L883.3,737.2 L884.6,736.4 L885.9,735.7 L887.2,735.1 L888.5,734.5 L889.8,733.9 L891.1,733.4 L892.4,732.9 L893.7,732.5 L895.0,732.1 L896.3,731.8 L897.6,731.6 L898.9,731.3 L900.2,731.2 L901.4,731.0 L902.7,730.9 L904.0,730.9 L905.3,730.9 L906.6,731.0 L907.9,731.1 L909.2,731.2 L910.5,731.4 L911.8,731.7 L913.1,731.9 L914.4,732.3 L915.7,732.6 L917.0,733.0 L918.3,733.5 L919.6,734.0 L920.9,734.5 L922.2,735.1 L923.5,735.7 L924.8,736.3 L926.1,737.0 L927.4,737.7 L928.7,738.5 L930.0,739.3 L931.3,740.2 L932.6,741.1 L933.9,742.0 L935.2,743.0 L936.5,744.0 L937.8,745.1 L939.1,746.2 L940.4,747.3 L941.7,748.5 L943.0,749.7 L944.3,751.0 L945.5,752.3 L946.8,753.6 L948.1,755.0 L949.4,756.5 L950.7,757.9 L952.0,759.4 L953.3,760.9 L954.6,762.5 L955.9,764.1 L957.2,765.7 L958.5,767.4 L959.8,769.1 L961.1,770.8 L962.4,772.5 L963.7,774.3 L965.0,776.1 L966.3,777.9 L967.6,779.7 L968.9,781.6 L970.2,783.4 L971.5,785.3 L972.8,787.2 L974.1,789.1 L975.4,790.9 L976.7,792.8 L978.0,794.7 L979.3,796.6 L980.6,798.5 L981.9,800.4 L983.2,802.2 L984.5,804.1 L985.8,805.9 L987.1,807.8 L988.3,809.6 L989.6,811.4 L990.9,813.2 L992.2,815.0 L993.5,816.8 L994.8,818.5 L996.1,820.3 L997.4,822.1 L998.7,823.8 L1000.0,825.5 L1001.3,827.2 L1002.6,828.9 L1003.9,830.6 L1005.2,832.3 L1006.5,833.9 L1007.8,835.6 L1009.1,837.2 L1010.4,838.8 L1011.7,840.4 L1013.0,842.0 L1014.3,843.6 L1015.6,845.1 L1016.9,846.7 L1018.2,848.2 L1019.5,849.7 L1020.8,851.2 L1022.1,852.7 L1023.4,854.2 L1024.7,855.6 L1026.0,857.1 L1027.3,858.5 L1028.6,859.9 L1029.9,861.3 L1031.1,862.7 L1032.4,864.1 L1033.7,865.4 L1035.0,866.8 L1036.3,868.1 L1037.6,869.4 L1038.9,870.7 L1040.2,872.0 L1041.5,873.3 L1042.8,874.5 L1044.1,875.8 L1045.4,877.0 L1046.7,878.3 L1048.0,879.5 L1049.3,880.7 L1050.6,881.9 L1051.9,883.1 L1053.2,884.2 L1054.5,885.4 L1055.8,886.5 L1057.1,887.6 L1058.4,888.8 L1059.7,889.9 L1061.0,891.0 L1062.3,892.0 L1063.6,893.1 L1064.9,894.2 L1066.2,895.2 L1067.5,896.2 L1068.8,897.3 L1070.1,898.3 L1071.4,899.2 L1072.7,900.2 L1073.9,901.2 L1075.2,902.1 L1076.5,903.1 L1077.8,904.0 L1079.1,904.9 L1080.4,905.8 L1081.7,906.7 L1083.0,907.6 L1084.3,908.5 L1085.6,909.3 L1086.9,910.2 L1088.2,911.0 L1089.5,911.8 L1090.8,912.6 L1092.1,913.4 L1093.4,914.2 L1094.7,915.0 L1096.0,915.8 L1097.3,916.5 L1098.6,917.3 L1099.9,918.0 L1101.2,918.7 L1102.5,919.4 L1103.8,920.1 L1105.1,920.9 L1106.4,921.6 L1107.7,922.3 L1109.0,923.0 L1110.3,923.7 L1111.6,924.3 L1112.9,925.0 L1114.2,925.7 L1115.5,926.4 L1116.8,927.0 L1118.0,927.7 L1119.3,928.3 L1120.6,928.9 L1121.9,929.6 L1123.2,930.2 L1124.5,930.8 L1125.8,931.4 L1127.1,932.0 L1128.4,932.5 L1129.7,933.1 L1131.0,933.7 L1132.3,934.2 L1133.6,934.8 L1134.9,935.3 L1136.2,935.8 L1137.5,936.3 L1138.8,936.8 L1140.1,937.3 L1141.4,937.8 L1142.7,938.3 L1144.0,938.7 L1145.3,939.2 L1146.6,939.6 L1147.9,940.0 L1149.2,940.4 L1150.5,940.8 L1151.8,941.2 L1153.1,941.6 L1154.4,941.9 L1155.7,942.3 L1157.0,942.6 L1158.3,942.9 L1159.6,943.2 L1160.8,943.5 L1162.1,943.8 L1163.4,944.1 L1164.7,944.3 L1166.0,944.6 L1167.3,944.8 L1168.6,945.1 L1169.9,945.3 L1171.2,945.6 L1172.5,945.8 L1173.8,946.0 L1175.1,946.3 L1176.4,946.5 L1177.7,946.7 L1179.0,946.9 L1180.3,947.1 L1181.6,947.4 L1182.9,947.6 L1184.2,947.8 L1185.5,948.0 L1186.8,948.2 L1188.1,948.5 L1189.4,948.7 L1190.7,948.9 L1192.0,949.1 L1193.3,949.4 L1194.6,949.6 L1195.9,949.9 L1197.2,950.1 L1198.5,950.3 L1199.8,950.6 L1201.1,950.9 L1202.4,951.1 L1203.6,951.3 L1204.9,951.6 L1206.2,951.8 L1207.5,952.1 L1208.8,952.3 L1210.1,952.5 L1211.4,952.7 L1212.7,953.0 L1214.0,953.2 L1215.3,953.4 L1216.6,953.6 L1217.9,953.8 L1219.2,954.0 L1220.5,954.2 L1221.8,954.4 L1223.1,954.6 L1224.4,954.8 L1225.7,955.0 L1227.0,955.1 L1228.3,955.3 L1229.6,955.5 L1230.9,955.7 L1232.2,955.8 L1233.5,956.0 L1234.8,956.2 L1236.1,956.3 L1237.4,956.5 L1238.7,956.7 L1240.0,956.8 L1241.3,957.0 L1242.6,957.1 L1243.9,957.3 L1245.2,957.4 L1246.5,957.5 L1247.7,957.7 L1249.0,957.8 L1250.3,958.0 L1251.6,958.1 L1252.9,958.2 L1254.2,958.4 L1255.5,958.5 L1256.8,958.6 L1258.1,958.7 L1259.4,958.9 L1260.7,959.0 L1262.0,959.1 L1263.3,959.2 L1264.6,959.3 L1265.9,959.4 L1267.2,959.5 L1268.5,959.7 L1269.8,959.8 L1271.1,959.9 L1272.4,960.0 L1273.7,960.1 L1275.0,960.2 L1276.3,960.3 L1277.6,960.4 L1278.9,960.5 L1280.2,960.6 L1281.5,960.7 L1282.8,960.8 L1284.1,960.9 L1285.4,961.0 L1286.7,961.1 L1288.0,961.1 L1289.3,961.2 L1290.5,961.3 L1291.8,961.4 L1293.1,961.5 L1294.4,961.6 L1295.7,961.7 L1297.0,961.8 L1298.3,961.9 L1299.6,961.9 L1300.9,962.0 L1302.2,962.1 L1303.5,962.2 L1304.8,962.3 L1306.1,962.4 L1307.4,962.5 L1308.7,962.6 L1310.0,962.6 L1311.3,962.7 L1312.6,962.8 L1313.9,962.9 L1315.2,963.0 L1316.5,963.1 L1317.8,963.2 L1319.1,963.2 L1320.4,963.3 L1321.7,963.4 L1323.0,963.5 L1324.3,963.6 L1325.6,963.7 L1326.9,963.8 L1328.2,963.9 L1329.5,964.0 L1330.8,964.1 L1332.1,964.2 L1333.3,964.3 L1334.6,964.3 L1335.9,964.4 L1337.2,964.5 L1338.5,964.6 L1339.8,964.7 L1341.1,964.8 L1342.4,964.9 L1343.7,965.0 L1345.0,965.2 L1346.3,965.3 L1347.6,965.4 L1348.9,965.5 L1350.2,965.6 L1351.5,965.7 L1352.8,965.8 L1354.1,965.9 L1355.4,966.0 L1356.7,966.1 L1358.0,966.2 L1359.3,966.3 L1360.6,966.5 L1361.9,966.6 L1363.2,966.7 L1364.5,966.8 L1365.8,966.9 L1367.1,967.0 L1368.4,967.1 L1369.7,967.2 L1371.0,967.3 L1372.3,967.4 L1373.6,967.6 L1374.9,967.7 L1376.2,967.8 L1377.4,967.9 L1378.7,968.0 L1380.0,968.1 L1381.3,968.2 L1382.6,968.3 L1383.9,968.4 L1385.2,968.5 L1386.5,968.6 L1387.8,968.7 L1389.1,968.8 L1390.4,968.9 L1391.7,969.0 L1393.0,969.1 L1394.3,969.2 L1395.6,969.2 L1396.9,969.3 L1398.2,969.4 L1399.5,969.5 L1400.8,969.6 L1402.1,969.7 L1403.4,969.7 L1404.7,969.8 L1406.0,969.9 L1407.3,969.9 L1408.6,970.0 L1409.9,970.1 L1411.2,970.1 L1412.5,970.2 L1413.8,970.3 L1415.1,970.3 L1416.4,970.4 L1417.7,970.4 L1419.0,970.5 L1420.2,970.5 L1421.5,970.5 L1422.8,970.6 L1424.1,970.6 L1425.4,970.6 L1426.7,970.7 L1428.0,970.7 L1429.3,970.7 L1430.6,970.7 L1431.9,970.7 L1433.2,970.7 L1434.5,970.7 L1435.8,970.7 L1437.1,970.7 L1438.4,970.7 L1439.7,970.7 L1441.0,970.7"/>
<path class="c" stroke="#CC9900" d="M275.0,870.0 L276.3,868.7 L277.6,867.4 L278.9,866.2 L280.2,865.1 L281.5,864.0 L282.8,863.0 L284.1,862.0 L285.4,861.1 L286.7,860.3 L288.0,859.4 L289.3,858.7 L290.6,858.0 L291.9,857.3 L293.2,856.7 L294.5,856.1 L295.8,855.6 L297.0,855.1 L298.3,854.7 L299.6,854.3 L300.9,853.9 L302.2,853.5 L303.5,853.2 L304.8,853.0 L306.1,852.7 L307.4,852.5 L308.7,852.3 L310.0,852.2 L311.3,852.1 L312.6,852.0 L313.9,851.9 L315.2,851.8 L316.5,851.8 L317.8,851.8 L319.1,851.8 L320.4,851.8 L321.7,851.8 L323.0,851.9 L324.3,851.9 L325.6,852.0 L326.9,852.1 L328.2,852.2 L329.5,852.3 L330.8,852.4 L332.1,852.5 L333.4,852.6 L334.7,852.8 L336.0,852.9 L337.3,853.0 L338.6,853.1 L339.8,853.2 L341.1,853.4 L342.4,853.5 L343.7,853.6 L345.0,853.7 L346.3,853.8 L347.6,853.8 L348.9,853.9 L350.2,854.0 L351.5,854.0 L352.8,854.0 L354.1,854.0 L355.4,854.0 L356.7,853.9 L358.0,853.9 L359.3,853.8 L360.6,853.7 L361.9,853.5 L363.2,853.4 L364.5,853.2 L365.8,852.9 L367.1,852.7 L368.4,852.4 L369.7,852.0 L371.0,851.6 L372.3,851.2 L373.6,850.8 L374.9,850.3 L376.2,849.7 L377.5,849.1 L378.8,848.5 L380.1,847.7 L381.4,846.9 L382.7,846.0 L383.9,845.0 L385.2,843.9 L386.5,842.7 L387.8,841.4 L389.1,839.9 L390.4,838.3 L391.7,836.6 L393.0,834.7 L394.3,832.6 L395.6,830.4 L396.9,828.0 L398.2,825.5 L399.5,822.8 L400.8,819.9 L402.1,816.9 L403.4,813.8 L404.7,810.5 L406.0,807.0 L407.3,803.4 L408.6,799.6 L409.9,795.7 L411.2,791.7 L412.5,787.5 L413.8,783.2 L415.1,778.8 L416.4,774.3 L417.7,769.7 L419.0,764.9 L420.3,760.0 L421.6,755.0 L422.9,749.8 L424.2,744.5 L425.5,739.1 L426.7,733.5 L428.0,727.8 L429.3,721.9 L430.6,715.9 L431.9,709.8 L433.2,703.5 L434.5,697.1 L435.8,690.6 L437.1,684.0 L438.4,677.3 L439.7,670.5 L441.0,663.6 L442.3,656.5 L443.6,649.4 L444.9,642.1 L446.2,634.8 L447.5,627.3 L448.8,619.8 L450.1,612.2 L451.4,604.4 L452.7,596.6 L454.0,588.7 L455.3,580.7 L456.6,572.6 L457.9,564.5 L459.2,556.3 L460.5,548.0 L461.8,539.6 L463.1,531.2 L464.4,522.7 L465.7,514.2 L467.0,505.6 L468.3,497.0 L469.5,488.3 L470.8,479.7 L472.1,471.0 L473.4,462.3 L474.7,453.6 L476.0,444.9 L477.3,436.2 L478.6,427.6 L479.9,418.9 L481.2,410.4 L482.5,401.9 L483.8,393.4 L485.1,385.1 L486.4,376.8 L487.7,368.7 L489.0,360.7 L490.3,352.8 L491.6,345.0 L492.9,337.4 L494.2,330.0 L495.5,322.7 L496.8,315.6 L498.1,308.7 L499.4,301.9 L500.7,295.4 L502.0,289.1 L503.3,283.1 L504.6,277.2 L505.9,271.6 L507.2,266.3 L508.5,261.1 L509.8,256.2 L511.1,251.4 L512.4,246.9 L513.6,242.7 L514.9,238.6 L516.2,234.7 L517.5,231.0 L518.8,227.6 L520.1,224.3 L521.4,221.3 L522.7,218.4 L524.0,215.7 L525.3,213.3 L526.6,211.0 L527.9,209.0 L529.2,207.1 L530.5,205.4 L531.8,203.9 L533.1,202.6 L534.4,201.5 L535.7,200.5 L537.0,199.8 L538.3,199.2 L539.6,198.8 L540.9,198.6 L542.2,198.6 L543.5,198.8 L544.8,199.1 L546.1,199.6 L547.4,200.3 L548.7,201.2 L550.0,202.3 L551.3,203.5 L552.6,204.8 L553.9,206.4 L555.2,208.1 L556.4,209.9 L557.7,211.9 L559.0,214.1 L560.3,216.4 L561.6,218.9 L562.9,221.5 L564.2,224.2 L565.5,227.0 L566.8,230.0 L568.1,233.2 L569.4,236.4 L570.7,239.7 L572.0,243.2 L573.3,246.8 L574.6,250.4 L575.9,254.2 L577.2,258.0 L578.5,262.0 L579.8,266.0 L581.1,270.1 L582.4,274.2 L583.7,278.5 L585.0,282.7 L586.3,287.1 L587.6,291.5 L588.9,295.9 L590.2,300.4 L591.5,304.9 L592.8,309.5 L594.1,314.1 L595.4,318.7 L596.7,323.3 L598.0,327.9 L599.2,332.6 L600.5,337.2 L601.8,341.9 L603.1,346.6 L604.4,351.2 L605.7,355.8 L607.0,360.4 L608.3,365.0 L609.6,369.6 L610.9,374.3 L612.2,378.9 L613.5,383.6 L614.8,388.2 L616.1,392.9 L617.4,397.5 L618.7,402.2 L620.0,406.9 L621.3,411.6 L622.6,416.2 L623.9,420.9 L625.2,425.5 L626.5,430.1 L627.8,434.7 L629.1,439.3 L630.4,443.9 L631.7,448.4 L633.0,453.0 L634.3,457.4 L635.6,461.9 L636.9,466.3 L638.2,470.7 L639.5,475.1 L640.8,479.4 L642.1,483.7 L643.3,488.0 L644.6,492.3 L645.9,496.6 L647.2,500.8 L648.5,505.0 L649.8,509.2 L651.1,513.4 L652.4,517.5 L653.7,521.7 L655.0,525.7 L656.3,529.8 L657.6,533.8 L658.9,537.8 L660.2,541.8 L661.5,545.7 L662.8,549.6 L664.1,553.4 L665.4,557.2 L666.7,560.9 L668.0,564.6 L669.3,568.3 L670.6,571.8 L671.9,575.4 L673.2,578.8 L674.5,582.2 L675.8,585.5 L677.1,588.8 L678.4,592.0 L679.7,595.2 L681.0,598.4 L682.3,601.5 L683.6,604.6 L684.9,607.7 L686.1,610.7 L687.4,613.7 L688.7,616.7 L690.0,619.6 L691.3,622.6 L692.6,625.5 L693.9,628.4 L695.2,631.3 L696.5,634.2 L697.8,637.1 L699.1,640.0 L700.4,642.8 L701.7,645.7 L703.0,648.5 L704.3,651.3 L705.6,654.0 L706.9,656.8 L708.2,659.5 L709.5,662.2 L710.8,664.9 L712.1,667.5 L713.4,670.2 L714.7,672.7 L716.0,675.3 L717.3,677.8 L718.6,680.3 L719.9,682.8 L721.2,685.2 L722.5,687.6 L723.8,690.0 L725.1,692.3 L726.4,694.7 L727.7,696.9 L728.9,699.2 L730.2,701.4 L731.5,703.6 L732.8,705.8 L734.1,707.9 L735.4,710.0 L736.7,712.1 L738.0,714.2 L739.3,716.2 L740.6,718.2 L741.9,720.2 L743.2,722.2 L744.5,724.2 L745.8,726.1 L747.1,728.1 L748.4,730.1 L749.7,732.0 L751.0,733.9 L752.3,735.8 L753.6,737.7 L754.9,739.5 L756.2,741.3 L757.5,743.1 L758.8,744.8 L760.1,746.5 L761.4,748.2 L762.7,749.8 L764.0,751.4 L765.3,752.9 L766.6,754.5 L767.9,756.0 L769.2,757.4 L770.5,758.9 L771.7,760.3 L773.0,761.7 L774.3,763.1 L775.6,764.4 L776.9,765.7 L778.2,767.0 L779.5,768.3 L780.8,769.5 L782.1,770.8 L783.4,772.0 L784.7,773.2 L786.0,774.4 L787.3,775.5 L788.6,776.6 L789.9,777.7 L791.2,778.7 L792.5,779.7 L793.8,780.6 L795.1,781.5 L796.4,782.3 L797.7,783.1 L799.0,783.8 L800.3,784.5 L801.6,785.1 L802.9,785.6 L804.2,786.1 L805.5,786.4 L806.8,786.8 L808.1,787.0 L809.4,787.1 L810.7,787.2 L812.0,787.2 L813.3,787.1 L814.6,786.9 L815.8,786.7 L817.1,786.3 L818.4,785.9 L819.7,785.5 L821.0,785.0 L822.3,784.4 L823.6,783.7 L824.9,783.0 L826.2,782.3 L827.5,781.5 L828.8,780.6 L830.1,779.7 L831.4,778.8 L832.7,777.8 L834.0,776.8 L835.3,775.7 L836.6,774.6 L837.9,773.5 L839.2,772.4 L840.5,771.2 L841.8,770.0 L843.1,768.7 L844.4,767.5 L845.7,766.2 L847.0,764.9 L848.3,763.7 L849.6,762.3 L850.9,761.0 L852.2,759.7 L853.5,758.4 L854.8,757.0 L856.1,755.7 L857.4,754.4 L858.6,753.0 L859.9,751.7 L861.2,750.4 L862.5,749.1 L863.8,747.8 L865.1,746.5 L866.4,745.2 L867.7,744.0 L869.0,742.7 L870.3,741.5 L871.6,740.4 L872.9,739.2 L874.2,738.1 L875.5,737.0 L876.8,735.9 L878.1,734.9 L879.4,733.9 L880.7,733.0 L882.0,732.1 L883.3,731.2 L884.6,730.4 L885.9,729.7 L887.2,729.0 L888.5,728.3 L889.8,727.7 L891.1,727.1 L892.4,726.6 L893.7,726.1 L895.0,725.6 L896.3,725.3 L897.6,724.9 L898.9,724.6 L900.2,724.4 L901.4,724.2 L902.7,724.1 L904.0,724.0 L905.3,723.9 L906.6,723.9 L907.9,723.9 L909.2,724.0 L910.5,724.2 L911.8,724.4 L913.1,724.6 L914.4,724.9 L915.7,725.2 L917.0,725.6 L918.3,726.0 L919.6,726.4 L920.9,727.0 L922.2,727.5 L923.5,728.1 L924.8,728.8 L926.1,729.5 L927.4,730.2 L928.7,731.0 L930.0,731.8 L931.3,732.7 L932.6,733.6 L933.9,734.6 L935.2,735.6 L936.5,736.7 L937.8,737.8 L939.1,738.9 L940.4,740.1 L941.7,741.4 L943.0,742.7 L944.3,744.0 L945.5,745.4 L946.8,746.8 L948.1,748.3 L949.4,749.8 L950.7,751.4 L952.0,753.0 L953.3,754.6 L954.6,756.2 L955.9,757.9 L957.2,759.7 L958.5,761.4 L959.8,763.2 L961.1,765.0 L962.4,766.8 L963.7,768.6 L965.0,770.5 L966.3,772.4 L967.6,774.3 L968.9,776.2 L970.2,778.1 L971.5,780.0 L972.8,782.0 L974.1,783.9 L975.4,785.9 L976.7,787.8 L978.0,789.8 L979.3,791.7 L980.6,793.7 L981.9,795.6 L983.2,797.5 L984.5,799.5 L985.8,801.4 L987.1,803.3 L988.3,805.2 L989.6,807.0 L990.9,808.9 L992.2,810.8 L993.5,812.6 L994.8,814.4 L996.1,816.2 L997.4,818.0 L998.7,819.8 L1000.0,821.6 L1001.3,823.4 L1002.6,825.1 L1003.9,826.8 L1005.2,828.6 L1006.5,830.3 L1007.8,832.0 L1009.1,833.6 L1010.4,835.3 L1011.7,837.0 L1013.0,838.6 L1014.3,840.2 L1015.6,841.8 L1016.9,843.4 L1018.2,845.0 L1019.5,846.6 L1020.8,848.1 L1022.1,849.6 L1023.4,851.1 L1024.7,852.6 L1026.0,854.1 L1027.3,855.6 L1028.6,857.1 L1029.9,858.5 L1031.1,859.9 L1032.4,861.3 L1033.7,862.7 L1035.0,864.1 L1036.3,865.4 L1037.6,866.8 L1038.9,868.1 L1040.2,869.4 L1041.5,870.7 L1042.8,872.0 L1044.1,873.3 L1045.4,874.6 L1046.7,875.8 L1048.0,877.0 L1049.3,878.3 L1050.6,879.5 L1051.9,880.7 L1053.2,881.8 L1054.5,883.0 L1055.8,884.2 L1057.1,885.3 L1058.4,886.4 L1059.7,887.5 L1061.0,888.6 L1062.3,889.7 L1063.6,890.8 L1064.9,891.9 L1066.2,892.9 L1067.5,894.0 L1068.8,895.0 L1070.1,896.0 L1071.4,897.0 L1072.7,898.0 L1073.9,899.0 L1075.2,899.9 L1076.5,900.9 L1077.8,901.8 L1079.1,902.8 L1080.4,903.7 L1081.7,904.6 L1083.0,905.5 L1084.3,906.4 L1085.6,907.2 L1086.9,908.1 L1088.2,909.0 L1089.5,909.8 L1090.8,910.6 L1092.1,911.4 L1093.4,912.2 L1094.7,913.0 L1096.0,913.8 L1097.3,914.6 L1098.6,915.4 L1099.9,916.1 L1101.2,916.9 L1102.5,917.6 L1103.8,918.4 L1105.1,919.1 L1106.4,919.8 L1107.7,920.5 L1109.0,921.3 L1110.3,922.0 L1111.6,922.7 L1112.9,923.4 L1114.2,924.1 L1115.5,924.7 L1116.8,925.4 L1118.0,926.1 L1119.3,926.7 L1120.6,927.4 L1121.9,928.0 L1123.2,928.7 L1124.5,929.3 L1125.8,929.9 L1127.1,930.5 L1128.4,931.1 L1129.7,931.7 L1131.0,932.3 L1132.3,932.8 L1133.6,933.4 L1134.9,934.0 L1136.2,934.5 L1137.5,935.0 L1138.8,935.5 L1140.1,936.0 L1141.4,936.5 L1142.7,937.0 L1144.0,937.5 L1145.3,938.0 L1146.6,938.4 L1147.9,938.9 L1149.2,939.3 L1150.5,939.7 L1151.8,940.2 L1153.1,940.5 L1154.4,940.9 L1155.7,941.3 L1157.0,941.6 L1158.3,942.0 L1159.6,942.3 L1160.8,942.6 L1162.1,942.9 L1163.4,943.2 L1164.7,943.5 L1166.0,943.8 L1167.3,944.0 L1168.6,944.3 L1169.9,944.6 L1171.2,944.8 L1172.5,945.1 L1173.8,945.3 L1175.1,945.6 L1176.4,945.8 L1177.7,946.0 L1179.0,946.3 L1180.3,946.5 L1181.6,946.7 L1182.9,947.0 L1184.2,947.2 L1185.5,947.5 L1186.8,947.7 L1188.1,947.9 L1189.4,948.2 L1190.7,948.4 L1192.0,948.6 L1193.3,948.9 L1194.6,949.1 L1195.9,949.4 L1197.2,949.6 L1198.5,949.9 L1199.8,950.1 L1201.1,950.4 L1202.4,950.7 L1203.6,950.9 L1204.9,951.2 L1206.2,951.4 L1207.5,951.6 L1208.8,951.9 L1210.1,952.1 L1211.4,952.3 L1212.7,952.6 L1214.0,952.8 L1215.3,953.0 L1216.6,953.2 L1217.9,953.4 L1219.2,953.6 L1220.5,953.8 L1221.8,954.0 L1223.1,954.2 L1224.4,954.4 L1225.7,954.6 L1227.0,954.8 L1228.3,955.0 L1229.6,955.2 L1230.9,955.4 L1232.2,955.5 L1233.5,955.7 L1234.8,955.9 L1236.1,956.0 L1237.4,956.2 L1238.7,956.4 L1240.0,956.5 L1241.3,956.7 L1242.6,956.8 L1243.9,957.0 L1245.2,957.1 L1246.5,957.3 L1247.7,957.4 L1249.0,957.5 L1250.3,957.7 L1251.6,957.8 L1252.9,958.0 L1254.2,958.1 L1255.5,958.2 L1256.8,958.3 L1258.1,958.5 L1259.4,958.6 L1260.7,958.7 L1262.0,958.8 L1263.3,959.0 L1264.6,959.1 L1265.9,959.2 L1267.2,959.3 L1268.5,959.4 L1269.8,959.5 L1271.1,959.6 L1272.4,959.7 L1273.7,959.9 L1275.0,960.0 L1276.3,960.1 L1277.6,960.2 L1278.9,960.3 L1280.2,960.4 L1281.5,960.5 L1282.8,960.6 L1284.1,960.7 L1285.4,960.8 L1286.7,960.9 L1288.0,960.9 L1289.3,961.0 L1290.5,961.1 L1291.8,961.2 L1293.1,961.3 L1294.4,961.4 L1295.7,961.5 L1297.0,961.6 L1298.3,961.7 L1299.6,961.8 L1300.9,961.9 L1302.2,961.9 L1303.5,962.0 L1304.8,962.1 L1306.1,962.2 L1307.4,962.3 L1308.7,962.4 L1310.0,962.5 L1311.3,962.6 L1312.6,962.7 L1313.9,962.7 L1315.2,962.8 L1316.5,962.9 L1317.8,963.0 L1319.1,963.1 L1320.4,963.2 L1321.7,963.3 L1323.0,963.4 L1324.3,963.5 L1325.6,963.6 L1326.9,963.7 L1328.2,963.8 L1329.5,963.9 L1330.8,963.9 L1332.1,964.0 L1333.3,964.1 L1334.6,964.2 L1335.9,964.3 L1337.2,964.4 L1338.5,964.5 L1339.8,964.6 L1341.1,964.7 L1342.4,964.9 L1343.7,965.0 L1345.0,965.1 L1346.3,965.2 L1347.6,965.3 L1348.9,965.4 L1350.2,965.5 L1351.5,965.6 L1352.8,965.7 L1354.1,965.8 L1355.4,966.0 L1356.7,966.1 L1358.0,966.2 L1359.3,966.3 L1360.6,966.4 L1361.9,966.5 L1363.2,966.6 L1364.5,966.7 L1365.8,966.9 L1367.1,967.0 L1368.4,967.1 L1369.7,967.2 L1371.0,967.3 L1372.3,967.4 L1373.6,967.5 L1374.9,967.6 L1376.2,967.7 L1377.4,967.8 L1378.7,968.0 L1380.0,968.1 L1381.3,968.2 L1382.6,968.3 L1383.9,968.4 L1385.2,968.5 L1386.5,968.6 L1387.8,968.7 L1389.1,968.8 L1390.4,968.9 L1391.7,969.0 L1393.0,969.1 L1394.3,969.1 L1395.6,969.2 L1396.9,969.3 L1398.2,969.4 L1399.5,969.5 L1400.8,969.6 L1402.1,969.6 L1403.4,969.7 L1404.7,969.8 L1406.0,969.9 L1407.3,969.9 L1408.6,970.0 L1409.9,970.1 L1411.2,970.1 L1412.5,970.2 L1413.8,970.3 L1415.1,970.3 L1416.4,970.4 L1417.7,970.4 L1419.0,970.5 L1420.2,970.5 L1421.5,970.5 L1422.8,970.6 L1424.1,970.6 L1425.4,970.6 L1426.7,970.7 L1428.0,970.7 L1429.3,970.7 L1430.6,970.7 L1431.9,970.7 L1433.2,970.7 L1434.5,970.7 L1435.8,970.7 L1437.1,970.7 L1438.4,970.7 L1439.7,970.7 L1441.0,970.7"/>
<path class="c" stroke="#00CBCC" d="M275.0,878.5 L276.3,877.4 L277.6,876.3 L278.9,875.3 L280.2,874.3 L281.5,873.4 L282.8,872.5 L284.1,871.7 L285.4,870.9 L286.7,870.1 L288.0,869.5 L289.3,868.8 L290.6,868.2 L291.9,867.6 L293.2,867.1 L294.5,866.6 L295.8,866.1 L297.0,865.7 L298.3,865.3 L299.6,864.9 L300.9,864.6 L302.2,864.3 L303.5,864.0 L304.8,863.8 L306.1,863.5 L307.4,863.4 L308.7,863.2 L310.0,863.1 L311.3,862.9 L312.6,862.8 L313.9,862.8 L315.2,862.7 L316.5,862.7 L317.8,862.7 L319.1,862.6 L320.4,862.7 L321.7,862.7 L323.0,862.7 L324.3,862.8 L325.6,862.8 L326.9,862.9 L328.2,863.0 L329.5,863.1 L330.8,863.2 L332.1,863.3 L333.4,863.4 L334.7,863.5 L336.0,863.6 L337.3,863.7 L338.6,863.8 L339.8,864.0 L341.1,864.1 L342.4,864.2 L343.7,864.3 L345.0,864.4 L346.3,864.5 L347.6,864.6 L348.9,864.7 L350.2,864.7 L351.5,864.8 L352.8,864.8 L354.1,864.9 L355.4,864.9 L356.7,864.9 L358.0,864.9 L359.3,864.8 L360.6,864.8 L361.9,864.7 L363.2,864.6 L364.5,864.5 L365.8,864.3 L367.1,864.1 L368.4,863.9 L369.7,863.7 L371.0,863.4 L372.3,863.1 L373.6,862.8 L374.9,862.4 L376.2,862.0 L377.5,861.6 L378.8,861.1 L380.1,860.5 L381.4,859.9 L382.7,859.3 L383.9,858.6 L385.2,857.8 L386.5,856.9 L387.8,855.9 L389.1,854.8 L390.4,853.6 L391.7,852.3 L393.0,850.9 L394.3,849.4 L395.6,847.7 L396.9,845.8 L398.2,843.9 L399.5,841.7 L400.8,839.5 L402.1,837.1 L403.4,834.6 L404.7,831.9 L406.0,829.1 L407.3,826.1 L408.6,823.1 L409.9,819.8 L411.2,816.5 L412.5,813.0 L413.8,809.4 L415.1,805.6 L416.4,801.7 L417.7,797.6 L419.0,793.5 L420.3,789.2 L421.6,784.7 L422.9,780.1 L424.2,775.4 L425.5,770.6 L426.7,765.6 L428.0,760.5 L429.3,755.3 L430.6,750.0 L431.9,744.5 L433.2,738.9 L434.5,733.2 L435.8,727.4 L437.1,721.4 L438.4,715.4 L439.7,709.2 L441.0,702.9 L442.3,696.5 L443.6,690.0 L444.9,683.4 L446.2,676.7 L447.5,669.9 L448.8,663.0 L450.1,656.0 L451.4,648.9 L452.7,641.7 L454.0,634.5 L455.3,627.1 L456.6,619.7 L457.9,612.2 L459.2,604.6 L460.5,596.9 L461.8,589.2 L463.1,581.4 L464.4,573.6 L465.7,565.7 L467.0,557.8 L468.3,549.8 L469.5,541.8 L470.8,533.8 L472.1,525.8 L473.4,517.8 L474.7,509.7 L476.0,501.7 L477.3,493.7 L478.6,485.7 L479.9,477.7 L481.2,469.7 L482.5,461.8 L483.8,454.0 L485.1,446.2 L486.4,438.5 L487.7,430.9 L489.0,423.4 L490.3,416.0 L491.6,408.7 L492.9,401.5 L494.2,394.5 L495.5,387.7 L496.8,381.0 L498.1,374.4 L499.4,368.1 L500.7,362.0 L502.0,356.0 L503.3,350.3 L504.6,344.8 L505.9,339.5 L507.2,334.5 L508.5,329.7 L509.8,325.0 L511.1,320.6 L512.4,316.4 L513.6,312.4 L514.9,308.6 L516.2,305.0 L517.5,301.6 L518.8,298.4 L520.1,295.4 L521.4,292.6 L522.7,290.0 L524.0,287.5 L525.3,285.3 L526.6,283.2 L527.9,281.3 L529.2,279.6 L530.5,278.1 L531.8,276.7 L533.1,275.5 L534.4,274.4 L535.7,273.6 L537.0,272.9 L538.3,272.3 L539.6,271.9 L540.9,271.7 L542.2,271.6 L543.5,271.7 L544.8,271.9 L546.1,272.2 L547.4,272.7 L548.7,273.4 L550.0,274.2 L551.3,275.1 L552.6,276.1 L553.9,277.3 L555.2,278.6 L556.4,280.0 L557.7,281.6 L559.0,283.2 L560.3,285.0 L561.6,286.9 L562.9,289.0 L564.2,291.1 L565.5,293.4 L566.8,295.7 L568.1,298.2 L569.4,300.8 L570.7,303.5 L572.0,306.4 L573.3,309.3 L574.6,312.3 L575.9,315.4 L577.2,318.7 L578.5,322.0 L579.8,325.4 L581.1,328.9 L582.4,332.4 L583.7,336.1 L585.0,339.8 L586.3,343.5 L587.6,347.3 L588.9,351.2 L590.2,355.1 L591.5,359.1 L592.8,363.1 L594.1,367.1 L595.4,371.2 L596.7,375.3 L598.0,379.4 L599.2,383.6 L600.5,387.7 L601.8,391.9 L603.1,396.1 L604.4,400.3 L605.7,404.5 L607.0,408.8 L608.3,413.0 L609.6,417.2 L610.9,421.5 L612.2,425.7 L613.5,430.0 L614.8,434.2 L616.1,438.4 L617.4,442.7 L618.7,446.9 L620.0,451.2 L621.3,455.4 L622.6,459.6 L623.9,463.8 L625.2,468.0 L626.5,472.2 L627.8,476.4 L629.1,480.6 L630.4,484.8 L631.7,488.9 L633.0,493.1 L634.3,497.2 L635.6,501.3 L636.9,505.4 L638.2,509.4 L639.5,513.5 L640.8,517.5 L642.1,521.5 L643.3,525.5 L644.6,529.5 L645.9,533.5 L647.2,537.4 L648.5,541.3 L649.8,545.3 L651.1,549.2 L652.4,553.0 L653.7,556.9 L655.0,560.8 L656.3,564.6 L657.6,568.4 L658.9,572.2 L660.2,576.0 L661.5,579.7 L662.8,583.4 L664.1,587.1 L665.4,590.8 L666.7,594.4 L668.0,598.0 L669.3,601.6 L670.6,605.2 L671.9,608.7 L673.2,612.2 L674.5,615.6 L675.8,619.1 L677.1,622.4 L678.4,625.8 L679.7,629.1 L681.0,632.4 L682.3,635.6 L683.6,638.8 L684.9,642.0 L686.1,645.1 L687.4,648.2 L688.7,651.2 L690.0,654.2 L691.3,657.1 L692.6,660.0 L693.9,662.9 L695.2,665.7 L696.5,668.5 L697.8,671.2 L699.1,673.9 L700.4,676.5 L701.7,679.1 L703.0,681.6 L704.3,684.1 L705.6,686.6 L706.9,689.0 L708.2,691.4 L709.5,693.8 L710.8,696.1 L712.1,698.4 L713.4,700.6 L714.7,702.8 L716.0,705.0 L717.3,707.1 L718.6,709.3 L719.9,711.4 L721.2,713.4 L722.5,715.5 L723.8,717.5 L725.1,719.4 L726.4,721.4 L727.7,723.4 L728.9,725.3 L730.2,727.2 L731.5,729.1 L732.8,731.0 L734.1,732.8 L735.4,734.7 L736.7,736.5 L738.0,738.4 L739.3,740.2 L740.6,742.0 L741.9,743.8 L743.2,745.6 L744.5,747.4 L745.8,749.2 L747.1,751.0 L748.4,752.7 L749.7,754.5 L751.0,756.2 L752.3,757.9 L753.6,759.6 L754.9,761.3 L756.2,762.9 L757.5,764.5 L758.8,766.1 L760.1,767.7 L761.4,769.2 L762.7,770.7 L764.0,772.1 L765.3,773.5 L766.6,774.9 L767.9,776.3 L769.2,777.6 L770.5,778.9 L771.7,780.2 L773.0,781.5 L774.3,782.7 L775.6,783.9 L776.9,785.1 L778.2,786.3 L779.5,787.5 L780.8,788.6 L782.1,789.7 L783.4,790.8 L784.7,791.9 L786.0,793.0 L787.3,794.0 L788.6,795.1 L789.9,796.0 L791.2,797.0 L792.5,797.9 L793.8,798.8 L795.1,799.6 L796.4,800.4 L797.7,801.1 L799.0,801.8 L800.3,802.4 L801.6,803.0 L802.9,803.5 L804.2,803.9 L805.5,804.3 L806.8,804.6 L808.1,804.9 L809.4,805.1 L810.7,805.2 L812.0,805.2 L813.3,805.2 L814.6,805.0 L815.8,804.9 L817.1,804.6 L818.4,804.3 L819.7,803.9 L821.0,803.5 L822.3,803.0 L823.6,802.4 L824.9,801.8 L826.2,801.2 L827.5,800.5 L828.8,799.8 L830.1,799.0 L831.4,798.2 L832.7,797.3 L834.0,796.4 L835.3,795.5 L836.6,794.5 L837.9,793.6 L839.2,792.5 L840.5,791.5 L841.8,790.4 L843.1,789.4 L844.4,788.3 L845.7,787.1 L847.0,786.0 L848.3,784.8 L849.6,783.7 L850.9,782.5 L852.2,781.3 L853.5,780.1 L854.8,779.0 L856.1,777.8 L857.4,776.6 L858.6,775.4 L859.9,774.2 L861.2,773.0 L862.5,771.8 L863.8,770.6 L865.1,769.5 L866.4,768.3 L867.7,767.2 L869.0,766.1 L870.3,765.0 L871.6,763.9 L872.9,762.8 L874.2,761.8 L875.5,760.8 L876.8,759.8 L878.1,758.8 L879.4,757.9 L880.7,757.0 L882.0,756.2 L883.3,755.4 L884.6,754.6 L885.9,753.8 L887.2,753.1 L888.5,752.5 L889.8,751.9 L891.1,751.3 L892.4,750.8 L893.7,750.3 L895.0,749.8 L896.3,749.4 L897.6,749.0 L898.9,748.7 L900.2,748.4 L901.4,748.2 L902.7,748.0 L904.0,747.8 L905.3,747.7 L906.6,747.6 L907.9,747.6 L909.2,747.6 L910.5,747.7 L911.8,747.8 L913.1,747.9 L914.4,748.1 L915.7,748.3 L917.0,748.6 L918.3,748.9 L919.6,749.2 L920.9,749.6 L922.2,750.0 L923.5,750.5 L924.8,751.0 L926.1,751.6 L927.4,752.2 L928.7,752.8 L930.0,753.5 L931.3,754.2 L932.6,755.0 L933.9,755.8 L935.2,756.6 L936.5,757.5 L937.8,758.4 L939.1,759.4 L940.4,760.4 L941.7,761.5 L943.0,762.6 L944.3,763.7 L945.5,764.9 L946.8,766.1 L948.1,767.4 L949.4,768.7 L950.7,770.0 L952.0,771.4 L953.3,772.8 L954.6,774.3 L955.9,775.8 L957.2,777.3 L958.5,778.8 L959.8,780.4 L961.1,782.0 L962.4,783.6 L963.7,785.3 L965.0,786.9 L966.3,788.6 L967.6,790.3 L968.9,792.1 L970.2,793.8 L971.5,795.5 L972.8,797.3 L974.1,799.0 L975.4,800.8 L976.7,802.6 L978.0,804.4 L979.3,806.1 L980.6,807.9 L981.9,809.7 L983.2,811.5 L984.5,813.2 L985.8,815.0 L987.1,816.7 L988.3,818.5 L989.6,820.2 L990.9,821.9 L992.2,823.6 L993.5,825.3 L994.8,827.0 L996.1,828.6 L997.4,830.3 L998.7,831.9 L1000.0,833.5 L1001.3,835.2 L1002.6,836.8 L1003.9,838.4 L1005.2,840.0 L1006.5,841.5 L1007.8,843.1 L1009.1,844.6 L1010.4,846.2 L1011.7,847.7 L1013.0,849.2 L1014.3,850.7 L1015.6,852.2 L1016.9,853.6 L1018.2,855.1 L1019.5,856.5 L1020.8,857.9 L1022.1,859.3 L1023.4,860.7 L1024.7,862.1 L1026.0,863.5 L1027.3,864.8 L1028.6,866.2 L1029.9,867.5 L1031.1,868.8 L1032.4,870.1 L1033.7,871.4 L1035.0,872.6 L1036.3,873.9 L1037.6,875.1 L1038.9,876.3 L1040.2,877.6 L1041.5,878.8 L1042.8,880.0 L1044.1,881.1 L1045.4,882.3 L1046.7,883.4 L1048.0,884.6 L1049.3,885.7 L1050.6,886.8 L1051.9,887.9 L1053.2,889.0 L1054.5,890.1 L1055.8,891.1 L1057.1,892.2 L1058.4,893.2 L1059.7,894.2 L1061.0,895.3 L1062.3,896.3 L1063.6,897.3 L1064.9,898.2 L1066.2,899.2 L1067.5,900.2 L1068.8,901.1 L1070.1,902.0 L1071.4,903.0 L1072.7,903.9 L1073.9,904.8 L1075.2,905.7 L1076.5,906.5 L1077.8,907.4 L1079.1,908.3 L1080.4,909.1 L1081.7,909.9 L1083.0,910.8 L1084.3,911.6 L1085.6,912.4 L1086.9,913.2 L1088.2,914.0 L1089.5,914.7 L1090.8,915.5 L1092.1,916.3 L1093.4,917.0 L1094.7,917.7 L1096.0,918.5 L1097.3,919.2 L1098.6,919.9 L1099.9,920.6 L1101.2,921.3 L1102.5,922.0 L1103.8,922.7 L1105.1,923.4 L1106.4,924.0 L1107.7,924.7 L1109.0,925.4 L1110.3,926.1 L1111.6,926.7 L1112.9,927.4 L1114.2,928.0 L1115.5,928.7 L1116.8,929.3 L1118.0,930.0 L1119.3,930.6 L1120.6,931.2 L1121.9,931.8 L1123.2,932.4 L1124.5,933.0 L1125.8,933.6 L1127.1,934.1 L1128.4,934.7 L1129.7,935.3 L1131.0,935.8 L1132.3,936.3 L1133.6,936.9 L1134.9,937.4 L1136.2,937.9 L1137.5,938.4 L1138.8,938.9 L1140.1,939.4 L1141.4,939.8 L1142.7,940.3 L1144.0,940.7 L1145.3,941.1 L1146.6,941.6 L1147.9,942.0 L1149.2,942.4 L1150.5,942.8 L1151.8,943.1 L1153.1,943.5 L1154.4,943.8 L1155.7,944.1 L1157.0,944.5 L1158.3,944.8 L1159.6,945.0 L1160.8,945.3 L1162.1,945.6 L1163.4,945.9 L1164.7,946.1 L1166.0,946.3 L1167.3,946.6 L1168.6,946.8 L1169.9,947.0 L1171.2,947.3 L1172.5,947.5 L1173.8,947.7 L1175.1,947.9 L1176.4,948.1 L1177.7,948.3 L1179.0,948.5 L1180.3,948.7 L1181.6,948.9 L1182.9,949.1 L1184.2,949.4 L1185.5,949.6 L1186.8,949.8 L1188.1,950.0 L1189.4,950.2 L1190.7,950.4 L1192.0,950.6 L1193.3,950.8 L1194.6,951.1 L1195.9,951.3 L1197.2,951.5 L1198.5,951.7 L1199.8,952.0 L1201.1,952.2 L1202.4,952.4 L1203.6,952.7 L1204.9,952.9 L1206.2,953.1 L1207.5,953.3 L1208.8,953.6 L1210.1,953.8 L1211.4,954.0 L1212.7,954.2 L1214.0,954.4 L1215.3,954.6 L1216.6,954.8 L1217.9,955.0 L1219.2,955.2 L1220.5,955.3 L1221.8,955.5 L1223.1,955.7 L1224.4,955.9 L1225.7,956.1 L1227.0,956.2 L1228.3,956.4 L1229.6,956.6 L1230.9,956.7 L1232.2,956.9 L1233.5,957.0 L1234.8,957.2 L1236.1,957.3 L1237.4,957.5 L1238.7,957.6 L1240.0,957.8 L1241.3,957.9 L1242.6,958.1 L1243.9,958.2 L1245.2,958.3 L1246.5,958.5 L1247.7,958.6 L1249.0,958.7 L1250.3,958.9 L1251.6,959.0 L1252.9,959.1 L1254.2,959.2 L1255.5,959.3 L1256.8,959.5 L1258.1,959.6 L1259.4,959.7 L1260.7,959.8 L1262.0,959.9 L1263.3,960.0 L1264.6,960.1 L1265.9,960.2 L1267.2,960.3 L1268.5,960.4 L1269.8,960.5 L1271.1,960.6 L1272.4,960.7 L1273.7,960.8 L1275.0,960.9 L1276.3,961.0 L1277.6,961.1 L1278.9,961.2 L1280.2,961.3 L1281.5,961.4 L1282.8,961.5 L1284.1,961.6 L1285.4,961.7 L1286.7,961.7 L1288.0,961.8 L1289.3,961.9 L1290.5,962.0 L1291.8,962.1 L1293.1,962.2 L1294.4,962.3 L1295.7,962.3 L1297.0,962.4 L1298.3,962.5 L1299.6,962.6 L1300.9,962.7 L1302.2,962.7 L1303.5,962.8 L1304.8,962.9 L1306.1,963.0 L1307.4,963.1 L1308.7,963.1 L1310.0,963.2 L1311.3,963.3 L1312.6,963.4 L1313.9,963.5 L1315.2,963.5 L1316.5,963.6 L1317.8,963.7 L1319.1,963.8 L1320.4,963.9 L1321.7,964.0 L1323.0,964.0 L1324.3,964.1 L1325.6,964.2 L1326.9,964.3 L1328.2,964.4 L1329.5,964.5 L1330.8,964.5 L1332.1,964.6 L1333.3,964.7 L1334.6,964.8 L1335.9,964.9 L1337.2,965.0 L1338.5,965.1 L1339.8,965.2 L1341.1,965.3 L1342.4,965.4 L1343.7,965.5 L1345.0,965.6 L1346.3,965.7 L1347.6,965.8 L1348.9,965.9 L1350.2,966.0 L1351.5,966.1 L1352.8,966.2 L1354.1,966.3 L1355.4,966.4 L1356.7,966.5 L1358.0,966.6 L1359.3,966.7 L1360.6,966.8 L1361.9,966.9 L1363.2,967.0 L1364.5,967.1 L1365.8,967.2 L1367.1,967.3 L1368.4,967.4 L1369.7,967.5 L1371.0,967.6 L1372.3,967.7 L1373.6,967.8 L1374.9,967.9 L1376.2,968.0 L1377.4,968.1 L1378.7,968.2 L1380.0,968.3 L1381.3,968.4 L1382.6,968.5 L1383.9,968.6 L1385.2,968.7 L1386.5,968.8 L1387.8,968.9 L1389.1,969.0 L1390.4,969.1 L1391.7,969.2 L1393.0,969.3 L1394.3,969.4 L1395.6,969.4 L1396.9,969.5 L1398.2,969.6 L1399.5,969.7 L1400.8,969.8 L1402.1,969.8 L1403.4,969.9 L1404.7,970.0 L1406.0,970.0 L1407.3,970.1 L1408.6,970.2 L1409.9,970.2 L1411.2,970.3 L1412.5,970.3 L1413.8,970.4 L1415.1,970.5 L1416.4,970.5 L1417.7,970.5 L1419.0,970.6 L1420.2,970.6 L1421.5,970.7 L1422.8,970.7 L1424.1,970.7 L1425.4,970.8 L1426.7,970.8 L1428.0,970.8 L1429.3,970.8 L1430.6,970.8 L1431.9,970.8 L1433.2,970.8 L1434.5,970.8 L1435.8,970.8 L1437.1,970.8 L1438.4,970.8 L1439.7,970.8 L1441.0,970.8"/>
<path class="c" stroke="#7D4E4E" d="M275.0,888.8 L276.3,887.8 L277.6,886.9 L278.9,886.0 L280.2,885.1 L281.5,884.3 L282.8,883.5 L284.1,882.8 L285.4,882.1 L286.7,881.5 L288.0,880.9 L289.3,880.3 L290.6,879.8 L291.9,879.3 L293.2,878.8 L294.5,878.3 L295.8,877.9 L297.0,877.6 L298.3,877.2 L299.6,876.9 L300.9,876.6 L302.2,876.4 L303.5,876.1 L304.8,875.9 L306.1,875.7 L307.4,875.6 L308.7,875.4 L310.0,875.3 L311.3,875.2 L312.6,875.1 L313.9,875.1 L315.2,875.0 L316.5,875.0 L317.8,875.0 L319.1,875.0 L320.4,875.0 L321.7,875.0 L323.0,875.0 L324.3,875.1 L325.6,875.1 L326.9,875.2 L328.2,875.2 L329.5,875.3 L330.8,875.4 L332.1,875.5 L333.4,875.6 L334.7,875.7 L336.0,875.8 L337.3,875.8 L338.6,875.9 L339.8,876.0 L341.1,876.1 L342.4,876.2 L343.7,876.3 L345.0,876.4 L346.3,876.5 L347.6,876.5 L348.9,876.6 L350.2,876.6 L351.5,876.7 L352.8,876.7 L354.1,876.7 L355.4,876.7 L356.7,876.7 L358.0,876.7 L359.3,876.7 L360.6,876.6 L361.9,876.5 L363.2,876.4 L364.5,876.3 L365.8,876.2 L367.1,876.0 L368.4,875.8 L369.7,875.6 L371.0,875.4 L372.3,875.1 L373.6,874.8 L374.9,874.5 L376.2,874.1 L377.5,873.7 L378.8,873.3 L380.1,872.9 L381.4,872.4 L382.7,871.8 L383.9,871.2 L385.2,870.5 L386.5,869.7 L387.8,868.9 L389.1,868.0 L390.4,867.0 L391.7,865.9 L393.0,864.7 L394.3,863.4 L395.6,862.0 L396.9,860.4 L398.2,858.8 L399.5,857.0 L400.8,855.1 L402.1,853.1 L403.4,850.9 L404.7,848.7 L406.0,846.3 L407.3,843.9 L408.6,841.3 L409.9,838.6 L411.2,835.7 L412.5,832.8 L413.8,829.7 L415.1,826.5 L416.4,823.3 L417.7,819.9 L419.0,816.3 L420.3,812.7 L421.6,808.9 L422.9,805.1 L424.2,801.1 L425.5,797.0 L426.7,792.9 L428.0,788.6 L429.3,784.3 L430.6,779.8 L431.9,775.3 L433.2,770.7 L434.5,766.0 L435.8,761.2 L437.1,756.3 L438.4,751.4 L439.7,746.3 L441.0,741.2 L442.3,735.9 L443.6,730.6 L444.9,725.1 L446.2,719.6 L447.5,714.0 L448.8,708.3 L450.1,702.5 L451.4,696.6 L452.7,690.7 L454.0,684.7 L455.3,678.6 L456.6,672.5 L457.9,666.2 L459.2,660.0 L460.5,653.6 L461.8,647.2 L463.1,640.8 L464.4,634.2 L465.7,627.7 L467.0,621.0 L468.3,614.4 L469.5,607.7 L470.8,601.0 L472.1,594.2 L473.4,587.4 L474.7,580.6 L476.0,573.8 L477.3,567.0 L478.6,560.1 L479.9,553.3 L481.2,546.4 L482.5,539.6 L483.8,532.8 L485.1,526.0 L486.4,519.2 L487.7,512.5 L489.0,505.8 L490.3,499.2 L491.6,492.6 L492.9,486.1 L494.2,479.7 L495.5,473.4 L496.8,467.2 L498.1,461.1 L499.4,455.1 L500.7,449.2 L502.0,443.5 L503.3,438.0 L504.6,432.6 L505.9,427.3 L507.2,422.2 L508.5,417.4 L509.8,412.7 L511.1,408.1 L512.4,403.8 L513.6,399.6 L514.9,395.6 L516.2,391.8 L517.5,388.2 L518.8,384.7 L520.1,381.4 L521.4,378.3 L522.7,375.3 L524.0,372.5 L525.3,369.9 L526.6,367.4 L527.9,365.1 L529.2,362.9 L530.5,360.9 L531.8,359.0 L533.1,357.3 L534.4,355.8 L535.7,354.4 L537.0,353.1 L538.3,352.0 L539.6,351.1 L540.9,350.3 L542.2,349.6 L543.5,349.1 L544.8,348.7 L546.1,348.4 L547.4,348.3 L548.7,348.3 L550.0,348.5 L551.3,348.8 L552.6,349.2 L553.9,349.7 L555.2,350.4 L556.4,351.2 L557.7,352.2 L559.0,353.2 L560.3,354.4 L561.6,355.7 L562.9,357.1 L564.2,358.6 L565.5,360.2 L566.8,362.0 L568.1,363.8 L569.4,365.8 L570.7,367.9 L572.0,370.1 L573.3,372.4 L574.6,374.8 L575.9,377.2 L577.2,379.8 L578.5,382.5 L579.8,385.3 L581.1,388.2 L582.4,391.1 L583.7,394.1 L585.0,397.3 L586.3,400.5 L587.6,403.7 L588.9,407.1 L590.2,410.5 L591.5,413.9 L592.8,417.4 L594.1,421.0 L595.4,424.6 L596.7,428.2 L598.0,431.9 L599.2,435.6 L600.5,439.3 L601.8,443.1 L603.1,446.8 L604.4,450.6 L605.7,454.4 L607.0,458.2 L608.3,462.1 L609.6,465.9 L610.9,469.7 L612.2,473.5 L613.5,477.3 L614.8,481.1 L616.1,484.9 L617.4,488.7 L618.7,492.5 L620.0,496.4 L621.3,500.2 L622.6,504.0 L623.9,507.9 L625.2,511.7 L626.5,515.5 L627.8,519.3 L629.1,523.2 L630.4,527.0 L631.7,530.7 L633.0,534.5 L634.3,538.3 L635.6,542.0 L636.9,545.7 L638.2,549.4 L639.5,553.0 L640.8,556.7 L642.1,560.3 L643.3,563.8 L644.6,567.4 L645.9,570.9 L647.2,574.4 L648.5,577.8 L649.8,581.3 L651.1,584.7 L652.4,588.2 L653.7,591.6 L655.0,595.0 L656.3,598.3 L657.6,601.7 L658.9,605.0 L660.2,608.3 L661.5,611.7 L662.8,615.0 L664.1,618.2 L665.4,621.5 L666.7,624.8 L668.0,628.0 L669.3,631.2 L670.6,634.4 L671.9,637.7 L673.2,640.9 L674.5,644.2 L675.8,647.6 L677.1,650.9 L678.4,654.2 L679.7,657.5 L681.0,660.8 L682.3,664.2 L683.6,667.5 L684.9,670.7 L686.1,674.0 L687.4,677.2 L688.7,680.4 L690.0,683.5 L691.3,686.6 L692.6,689.7 L693.9,692.7 L695.2,695.6 L696.5,698.5 L697.8,701.3 L699.1,704.1 L700.4,706.8 L701.7,709.4 L703.0,712.0 L704.3,714.5 L705.6,716.9 L706.9,719.2 L708.2,721.5 L709.5,723.8 L710.8,726.1 L712.1,728.3 L713.4,730.4 L714.7,732.6 L716.0,734.7 L717.3,736.7 L718.6,738.8 L719.9,740.8 L721.2,742.8 L722.5,744.7 L723.8,746.6 L725.1,748.5 L726.4,750.4 L727.7,752.3 L728.9,754.1 L730.2,755.9 L731.5,757.7 L732.8,759.5 L734.1,761.2 L735.4,763.0 L736.7,764.7 L738.0,766.4 L739.3,768.1 L740.6,769.8 L741.9,771.5 L743.2,773.1 L744.5,774.8 L745.8,776.4 L747.1,778.1 L748.4,779.7 L749.7,781.3 L751.0,782.9 L752.3,784.5 L753.6,786.1 L754.9,787.6 L756.2,789.1 L757.5,790.6 L758.8,792.1 L760.1,793.5 L761.4,794.9 L762.7,796.3 L764.0,797.6 L765.3,798.9 L766.6,800.2 L767.9,801.5 L769.2,802.7 L770.5,803.9 L771.7,805.1 L773.0,806.3 L774.3,807.4 L775.6,808.5 L776.9,809.6 L778.2,810.7 L779.5,811.7 L780.8,812.7 L782.1,813.8 L783.4,814.7 L784.7,815.7 L786.0,816.7 L787.3,817.6 L788.6,818.6 L789.9,819.5 L791.2,820.3 L792.5,821.2 L793.8,821.9 L795.1,822.7 L796.4,823.4 L797.7,824.1 L799.0,824.8 L800.3,825.4 L801.6,825.9 L802.9,826.4 L804.2,826.8 L805.5,827.2 L806.8,827.6 L808.1,827.8 L809.4,828.0 L810.7,828.2 L812.0,828.3 L813.3,828.3 L814.6,828.3 L815.8,828.1 L817.1,828.0 L818.4,827.7 L819.7,827.5 L821.0,827.1 L822.3,826.7 L823.6,826.3 L824.9,825.8 L826.2,825.3 L827.5,824.7 L828.8,824.1 L830.1,823.4 L831.4,822.8 L832.7,822.0 L834.0,821.3 L835.3,820.5 L836.6,819.7 L837.9,818.9 L839.2,818.0 L840.5,817.1 L841.8,816.2 L843.1,815.3 L844.4,814.3 L845.7,813.3 L847.0,812.4 L848.3,811.4 L849.6,810.3 L850.9,809.3 L852.2,808.3 L853.5,807.2 L854.8,806.2 L856.1,805.1 L857.4,804.1 L858.6,803.0 L859.9,801.9 L861.2,800.9 L862.5,799.8 L863.8,798.8 L865.1,797.7 L866.4,796.7 L867.7,795.6 L869.0,794.6 L870.3,793.6 L871.6,792.6 L872.9,791.6 L874.2,790.6 L875.5,789.6 L876.8,788.7 L878.1,787.7 L879.4,786.8 L880.7,786.0 L882.0,785.1 L883.3,784.3 L884.6,783.5 L885.9,782.7 L887.2,782.0 L888.5,781.3 L889.8,780.6 L891.1,780.0 L892.4,779.4 L893.7,778.8 L895.0,778.3 L896.3,777.8 L897.6,777.4 L898.9,777.0 L900.2,776.6 L901.4,776.2 L902.7,776.0 L904.0,775.7 L905.3,775.5 L906.6,775.3 L907.9,775.2 L909.2,775.1 L910.5,775.0 L911.8,775.0 L913.1,775.0 L914.4,775.1 L915.7,775.2 L917.0,775.3 L918.3,775.5 L919.6,775.7 L920.9,776.0 L922.2,776.3 L923.5,776.7 L924.8,777.1 L926.1,777.5 L927.4,778.0 L928.7,778.5 L930.0,779.0 L931.3,779.6 L932.6,780.3 L933.9,780.9 L935.2,781.7 L936.5,782.4 L937.8,783.2 L939.1,784.1 L940.4,784.9 L941.7,785.9 L943.0,786.8 L944.3,787.8 L945.5,788.9 L946.8,789.9 L948.1,791.0 L949.4,792.2 L950.7,793.4 L952.0,794.6 L953.3,795.8 L954.6,797.1 L955.9,798.4 L957.2,799.7 L958.5,801.1 L959.8,802.5 L961.1,803.8 L962.4,805.2 L963.7,806.6 L965.0,808.1 L966.3,809.5 L967.6,810.9 L968.9,812.4 L970.2,813.8 L971.5,815.2 L972.8,816.7 L974.1,818.1 L975.4,819.6 L976.7,821.0 L978.0,822.5 L979.3,823.9 L980.6,825.4 L981.9,826.8 L983.2,828.2 L984.5,829.7 L985.8,831.1 L987.1,832.5 L988.3,833.9 L989.6,835.3 L990.9,836.7 L992.2,838.1 L993.5,839.4 L994.8,840.8 L996.1,842.1 L997.4,843.5 L998.7,844.8 L1000.0,846.2 L1001.3,847.5 L1002.6,848.8 L1003.9,850.1 L1005.2,851.4 L1006.5,852.7 L1007.8,854.0 L1009.1,855.3 L1010.4,856.6 L1011.7,857.9 L1013.0,859.2 L1014.3,860.4 L1015.6,861.7 L1016.9,863.0 L1018.2,864.2 L1019.5,865.5 L1020.8,866.7 L1022.1,868.0 L1023.4,869.2 L1024.7,870.5 L1026.0,871.7 L1027.3,872.9 L1028.6,874.1 L1029.9,875.3 L1031.1,876.5 L1032.4,877.7 L1033.7,878.9 L1035.0,880.1 L1036.3,881.2 L1037.6,882.4 L1038.9,883.5 L1040.2,884.7 L1041.5,885.8 L1042.8,886.9 L1044.1,888.0 L1045.4,889.1 L1046.7,890.2 L1048.0,891.3 L1049.3,892.3 L1050.6,893.4 L1051.9,894.4 L1053.2,895.5 L1054.5,896.5 L1055.8,897.5 L1057.1,898.5 L1058.4,899.5 L1059.7,900.5 L1061.0,901.5 L1062.3,902.4 L1063.6,903.4 L1064.9,904.3 L1066.2,905.2 L1067.5,906.2 L1068.8,907.1 L1070.1,908.0 L1071.4,908.8 L1072.7,909.7 L1073.9,910.6 L1075.2,911.4 L1076.5,912.3 L1077.8,913.1 L1079.1,913.9 L1080.4,914.8 L1081.7,915.6 L1083.0,916.3 L1084.3,917.1 L1085.6,917.9 L1086.9,918.7 L1088.2,919.4 L1089.5,920.1 L1090.8,920.9 L1092.1,921.6 L1093.4,922.3 L1094.7,923.0 L1096.0,923.7 L1097.3,924.4 L1098.6,925.0 L1099.9,925.7 L1101.2,926.4 L1102.5,927.0 L1103.8,927.7 L1105.1,928.3 L1106.4,929.0 L1107.7,929.6 L1109.0,930.3 L1110.3,930.9 L1111.6,931.5 L1112.9,932.2 L1114.2,932.8 L1115.5,933.4 L1116.8,934.0 L1118.0,934.6 L1119.3,935.2 L1120.6,935.8 L1121.9,936.4 L1123.2,936.9 L1124.5,937.5 L1125.8,938.0 L1127.1,938.6 L1128.4,939.1 L1129.7,939.6 L1131.0,940.1 L1132.3,940.6 L1133.6,941.1 L1134.9,941.6 L1136.2,942.1 L1137.5,942.5 L1138.8,943.0 L1140.1,943.4 L1141.4,943.8 L1142.7,944.2 L1144.0,944.6 L1145.3,945.0 L1146.6,945.4 L1147.9,945.8 L1149.2,946.1 L1150.5,946.4 L1151.8,946.8 L1153.1,947.1 L1154.4,947.4 L1155.7,947.7 L1157.0,948.0 L1158.3,948.3 L1159.6,948.6 L1160.8,948.8 L1162.1,949.1 L1163.4,949.4 L1164.7,949.6 L1166.0,949.8 L1167.3,950.1 L1168.6,950.3 L1169.9,950.5 L1171.2,950.8 L1172.5,951.0 L1173.8,951.2 L1175.1,951.4 L1176.4,951.6 L1177.7,951.8 L1179.0,952.0 L1180.3,952.2 L1181.6,952.4 L1182.9,952.6 L1184.2,952.8 L1185.5,953.0 L1186.8,953.2 L1188.1,953.4 L1189.4,953.6 L1190.7,953.8 L1192.0,954.0 L1193.3,954.2 L1194.6,954.4 L1195.9,954.6 L1197.2,954.7 L1198.5,954.9 L1199.8,955.1 L1201.1,955.3 L1202.4,955.5 L1203.6,955.7 L1204.9,955.8 L1206.2,956.0 L1207.5,956.2 L1208.8,956.4 L1210.1,956.5 L1211.4,956.7 L1212.7,956.8 L1214.0,957.0 L1215.3,957.2 L1216.6,957.3 L1217.9,957.5 L1219.2,957.6 L1220.5,957.8 L1221.8,957.9 L1223.1,958.1 L1224.4,958.2 L1225.7,958.3 L1227.0,958.5 L1228.3,958.6 L1229.6,958.7 L1230.9,958.9 L1232.2,959.0 L1233.5,959.1 L1234.8,959.2 L1236.1,959.4 L1237.4,959.5 L1238.7,959.6 L1240.0,959.7 L1241.3,959.8 L1242.6,959.9 L1243.9,960.0 L1245.2,960.1 L1246.5,960.2 L1247.7,960.4 L1249.0,960.5 L1250.3,960.6 L1251.6,960.7 L1252.9,960.8 L1254.2,960.8 L1255.5,960.9 L1256.8,961.0 L1258.1,961.1 L1259.4,961.2 L1260.7,961.3 L1262.0,961.4 L1263.3,961.5 L1264.6,961.6 L1265.9,961.6 L1267.2,961.7 L1268.5,961.8 L1269.8,961.9 L1271.1,962.0 L1272.4,962.0 L1273.7,962.1 L1275.0,962.2 L1276.3,962.3 L1277.6,962.4 L1278.9,962.4 L1280.2,962.5 L1281.5,962.6 L1282.8,962.6 L1284.1,962.7 L1285.4,962.8 L1286.7,962.8 L1288.0,962.9 L1289.3,963.0 L1290.5,963.1 L1291.8,963.1 L1293.1,963.2 L1294.4,963.3 L1295.7,963.3 L1297.0,963.4 L1298.3,963.4 L1299.6,963.5 L1300.9,963.6 L1302.2,963.6 L1303.5,963.7 L1304.8,963.8 L1306.1,963.8 L1307.4,963.9 L1308.7,964.0 L1310.0,964.0 L1311.3,964.1 L1312.6,964.2 L1313.9,964.2 L1315.2,964.3 L1316.5,964.4 L1317.8,964.4 L1319.1,964.5 L1320.4,964.6 L1321.7,964.6 L1323.0,964.7 L1324.3,964.8 L1325.6,964.8 L1326.9,964.9 L1328.2,965.0 L1329.5,965.0 L1330.8,965.1 L1332.1,965.2 L1333.3,965.3 L1334.6,965.3 L1335.9,965.4 L1337.2,965.5 L1338.5,965.6 L1339.8,965.7 L1341.1,965.7 L1342.4,965.8 L1343.7,965.9 L1345.0,966.0 L1346.3,966.1 L1347.6,966.2 L1348.9,966.3 L1350.2,966.3 L1351.5,966.4 L1352.8,966.5 L1354.1,966.6 L1355.4,966.7 L1356.7,966.8 L1358.0,966.9 L1359.3,967.0 L1360.6,967.1 L1361.9,967.2 L1363.2,967.3 L1364.5,967.4 L1365.8,967.5 L1367.1,967.6 L1368.4,967.7 L1369.7,967.8 L1371.0,967.9 L1372.3,967.9 L1373.6,968.0 L1374.9,968.1 L1376.2,968.2 L1377.4,968.3 L1378.7,968.4 L1380.0,968.5 L1381.3,968.6 L1382.6,968.7 L1383.9,968.8 L1385.2,968.9 L1386.5,969.0 L1387.8,969.1 L1389.1,969.1 L1390.4,969.2 L1391.7,969.3 L1393.0,969.4 L1394.3,969.5 L1395.6,969.6 L1396.9,969.6 L1398.2,969.7 L1399.5,969.8 L1400.8,969.9 L1402.1,969.9 L1403.4,970.0 L1404.7,970.1 L1406.0,970.2 L1407.3,970.2 L1408.6,970.3 L1409.9,970.3 L1411.2,970.4 L1412.5,970.5 L1413.8,970.5 L1415.1,970.6 L1416.4,970.6 L1417.7,970.6 L1419.0,970.7 L1420.2,970.7 L1421.5,970.8 L1422.8,970.8 L1424.1,970.8 L1425.4,970.9 L1426.7,970.9 L1428.0,970.9 L1429.3,970.9 L1430.6,970.9 L1431.9,970.9 L1433.2,970.9 L1434.5,970.9 L1435.8,970.9 L1437.1,970.9 L1438.4,970.9 L1439.7,970.9 L1441.0,970.9"/>
<path class="c" stroke="#8E8E00" d="M275.0,890.8 L276.3,889.8 L277.6,888.9 L278.9,888.1 L280.2,887.3 L281.5,886.5 L282.8,885.7 L284.1,885.1 L285.4,884.4 L286.7,883.8 L288.0,883.2 L289.3,882.7 L290.6,882.1 L291.9,881.7 L293.2,881.2 L294.5,880.8 L295.8,880.4 L297.0,880.1 L298.3,879.8 L299.6,879.5 L300.9,879.2 L302.2,878.9 L303.5,878.7 L304.8,878.5 L306.1,878.4 L307.4,878.2 L308.7,878.1 L310.0,878.0 L311.3,877.9 L312.6,877.8 L313.9,877.8 L315.2,877.7 L316.5,877.7 L317.8,877.7 L319.1,877.7 L320.4,877.7 L321.7,877.7 L323.0,877.8 L324.3,877.8 L325.6,877.9 L326.9,877.9 L328.2,878.0 L329.5,878.1 L330.8,878.2 L332.1,878.2 L333.4,878.3 L334.7,878.4 L336.0,878.5 L337.3,878.6 L338.6,878.7 L339.8,878.8 L341.1,878.9 L342.4,879.0 L343.7,879.1 L345.0,879.2 L346.3,879.3 L347.6,879.4 L348.9,879.4 L350.2,879.5 L351.5,879.5 L352.8,879.6 L354.1,879.6 L355.4,879.6 L356.7,879.6 L358.0,879.6 L359.3,879.6 L360.6,879.5 L361.9,879.5 L363.2,879.4 L364.5,879.3 L365.8,879.2 L367.1,879.1 L368.4,878.9 L369.7,878.7 L371.0,878.5 L372.3,878.3 L373.6,878.0 L374.9,877.7 L376.2,877.4 L377.5,877.0 L378.8,876.7 L380.1,876.3 L381.4,875.8 L382.7,875.3 L383.9,874.8 L385.2,874.1 L386.5,873.5 L387.8,872.7 L389.1,871.9 L390.4,871.0 L391.7,870.0 L393.0,868.9 L394.3,867.8 L395.6,866.5 L396.9,865.1 L398.2,863.6 L399.5,862.0 L400.8,860.3 L402.1,858.4 L403.4,856.5 L404.7,854.4 L406.0,852.3 L407.3,850.0 L408.6,847.6 L409.9,845.1 L411.2,842.5 L412.5,839.8 L413.8,837.0 L415.1,834.1 L416.4,831.1 L417.7,828.0 L419.0,824.8 L420.3,821.5 L421.6,818.2 L422.9,814.7 L424.2,811.2 L425.5,807.5 L426.7,803.8 L428.0,800.0 L429.3,796.1 L430.6,792.1 L431.9,788.0 L433.2,783.8 L434.5,779.5 L435.8,775.1 L437.1,770.6 L438.4,766.0 L439.7,761.3 L441.0,756.6 L442.3,751.7 L443.6,746.7 L444.9,741.6 L446.2,736.4 L447.5,731.2 L448.8,725.9 L450.1,720.5 L451.4,715.0 L452.7,709.5 L454.0,703.9 L455.3,698.2 L456.6,692.4 L457.9,686.6 L459.2,680.7 L460.5,674.8 L461.8,668.8 L463.1,662.7 L464.4,656.5 L465.7,650.4 L467.0,644.1 L468.3,637.8 L469.5,631.5 L470.8,625.1 L472.1,618.6 L473.4,612.2 L474.7,605.7 L476.0,599.2 L477.3,592.6 L478.6,586.1 L479.9,579.5 L481.2,572.9 L482.5,566.3 L483.8,559.8 L485.1,553.2 L486.4,546.6 L487.7,540.0 L489.0,533.5 L490.3,527.0 L491.6,520.5 L492.9,514.1 L494.2,507.8 L495.5,501.5 L496.8,495.3 L498.1,489.1 L499.4,483.1 L500.7,477.2 L502.0,471.3 L503.3,465.7 L504.6,460.1 L505.9,454.7 L507.2,449.5 L508.5,444.4 L509.8,439.5 L511.1,434.8 L512.4,430.2 L513.6,425.9 L514.9,421.7 L516.2,417.7 L517.5,413.9 L518.8,410.2 L520.1,406.7 L521.4,403.4 L522.7,400.3 L524.0,397.3 L525.3,394.5 L526.6,391.8 L527.9,389.3 L529.2,387.0 L530.5,384.9 L531.8,382.8 L533.1,381.0 L534.4,379.3 L535.7,377.8 L537.0,376.4 L538.3,375.1 L539.6,374.0 L540.9,373.1 L542.2,372.3 L543.5,371.6 L544.8,371.1 L546.1,370.7 L547.4,370.5 L548.7,370.4 L550.0,370.5 L551.3,370.6 L552.6,371.0 L553.9,371.4 L555.2,372.0 L556.4,372.7 L557.7,373.5 L559.0,374.5 L560.3,375.6 L561.6,376.8 L562.9,378.1 L564.2,379.6 L565.5,381.2 L566.8,382.9 L568.1,384.7 L569.4,386.6 L570.7,388.6 L572.0,390.7 L573.3,393.0 L574.6,395.3 L575.9,397.8 L577.2,400.3 L578.5,402.9 L579.8,405.7 L581.1,408.5 L582.4,411.4 L583.7,414.3 L585.0,417.4 L586.3,420.5 L587.6,423.6 L588.9,426.9 L590.2,430.2 L591.5,433.5 L592.8,436.9 L594.1,440.3 L595.4,443.8 L596.7,447.3 L598.0,450.8 L599.2,454.4 L600.5,458.0 L601.8,461.6 L603.1,465.3 L604.4,468.9 L605.7,472.6 L607.0,476.3 L608.3,480.0 L609.6,483.7 L610.9,487.4 L612.2,491.0 L613.5,494.7 L614.8,498.4 L616.1,502.0 L617.4,505.7 L618.7,509.3 L620.0,513.0 L621.3,516.6 L622.6,520.2 L623.9,523.8 L625.2,527.4 L626.5,531.0 L627.8,534.6 L629.1,538.1 L630.4,541.7 L631.7,545.2 L633.0,548.7 L634.3,552.3 L635.6,555.8 L636.9,559.3 L638.2,562.7 L639.5,566.2 L640.8,569.7 L642.1,573.1 L643.3,576.5 L644.6,580.0 L645.9,583.4 L647.2,586.8 L648.5,590.2 L649.8,593.6 L651.1,597.0 L652.4,600.4 L653.7,603.8 L655.0,607.2 L656.3,610.5 L657.6,613.9 L658.9,617.2 L660.2,620.6 L661.5,623.9 L662.8,627.2 L664.1,630.5 L665.4,633.7 L666.7,637.0 L668.0,640.3 L669.3,643.6 L670.6,646.9 L671.9,650.1 L673.2,653.4 L674.5,656.6 L675.8,659.9 L677.1,663.1 L678.4,666.3 L679.7,669.4 L681.0,672.6 L682.3,675.7 L683.6,678.8 L684.9,681.8 L686.1,684.8 L687.4,687.8 L688.7,690.7 L690.0,693.6 L691.3,696.4 L692.6,699.2 L693.9,702.0 L695.2,704.7 L696.5,707.3 L697.8,709.9 L699.1,712.4 L700.4,714.9 L701.7,717.3 L703.0,719.7 L704.3,722.0 L705.6,724.3 L706.9,726.5 L708.2,728.7 L709.5,730.9 L710.8,733.0 L712.1,735.1 L713.4,737.2 L714.7,739.3 L716.0,741.3 L717.3,743.3 L718.6,745.2 L719.9,747.1 L721.2,749.0 L722.5,750.9 L723.8,752.8 L725.1,754.6 L726.4,756.4 L727.7,758.2 L728.9,759.9 L730.2,761.7 L731.5,763.4 L732.8,765.1 L734.1,766.8 L735.4,768.4 L736.7,770.1 L738.0,771.7 L739.3,773.4 L740.6,775.0 L741.9,776.6 L743.2,778.2 L744.5,779.8 L745.8,781.4 L747.1,782.9 L748.4,784.5 L749.7,786.0 L751.0,787.6 L752.3,789.1 L753.6,790.6 L754.9,792.1 L756.2,793.6 L757.5,795.0 L758.8,796.5 L760.1,797.9 L761.4,799.2 L762.7,800.6 L764.0,801.9 L765.3,803.1 L766.6,804.4 L767.9,805.6 L769.2,806.8 L770.5,808.0 L771.7,809.1 L773.0,810.3 L774.3,811.4 L775.6,812.5 L776.9,813.5 L778.2,814.6 L779.5,815.6 L780.8,816.6 L782.1,817.6 L783.4,818.6 L784.7,819.5 L786.0,820.5 L787.3,821.4 L788.6,822.3 L789.9,823.2 L791.2,824.0 L792.5,824.8 L793.8,825.6 L795.1,826.4 L796.4,827.1 L797.7,827.8 L799.0,828.5 L800.3,829.1 L801.6,829.7 L802.9,830.2 L804.2,830.6 L805.5,831.1 L806.8,831.4 L808.1,831.7 L809.4,832.0 L810.7,832.2 L812.0,832.3 L813.3,832.4 L814.6,832.4 L815.8,832.3 L817.1,832.2 L818.4,832.0 L819.7,831.8 L821.0,831.5 L822.3,831.2 L823.6,830.8 L824.9,830.3 L826.2,829.9 L827.5,829.3 L828.8,828.8 L830.1,828.2 L831.4,827.5 L832.7,826.8 L834.0,826.1 L835.3,825.4 L836.6,824.6 L837.9,823.8 L839.2,823.0 L840.5,822.1 L841.8,821.2 L843.1,820.3 L844.4,819.4 L845.7,818.5 L847.0,817.5 L848.3,816.5 L849.6,815.5 L850.9,814.5 L852.2,813.5 L853.5,812.5 L854.8,811.5 L856.1,810.4 L857.4,809.4 L858.6,808.4 L859.9,807.3 L861.2,806.3 L862.5,805.2 L863.8,804.2 L865.1,803.1 L866.4,802.1 L867.7,801.0 L869.0,800.0 L870.3,799.0 L871.6,798.0 L872.9,797.0 L874.2,796.0 L875.5,795.0 L876.8,794.1 L878.1,793.2 L879.4,792.2 L880.7,791.4 L882.0,790.5 L883.3,789.6 L884.6,788.8 L885.9,788.0 L887.2,787.3 L888.5,786.6 L889.8,785.9 L891.1,785.2 L892.4,784.6 L893.7,784.0 L895.0,783.5 L896.3,782.9 L897.6,782.5 L898.9,782.0 L900.2,781.6 L901.4,781.2 L902.7,780.9 L904.0,780.6 L905.3,780.4 L906.6,780.2 L907.9,780.0 L909.2,779.9 L910.5,779.8 L911.8,779.7 L913.1,779.7 L914.4,779.7 L915.7,779.8 L917.0,779.9 L918.3,780.0 L919.6,780.2 L920.9,780.4 L922.2,780.7 L923.5,781.0 L924.8,781.3 L926.1,781.7 L927.4,782.1 L928.7,782.5 L930.0,783.0 L931.3,783.5 L932.6,784.1 L933.9,784.7 L935.2,785.3 L936.5,786.0 L937.8,786.7 L939.1,787.4 L940.4,788.2 L941.7,789.0 L943.0,789.9 L944.3,790.8 L945.5,791.7 L946.8,792.7 L948.1,793.7 L949.4,794.8 L950.7,795.9 L952.0,797.0 L953.3,798.2 L954.6,799.4 L955.9,800.6 L957.2,801.8 L958.5,803.1 L959.8,804.4 L961.1,805.7 L962.4,807.1 L963.7,808.5 L965.0,809.9 L966.3,811.3 L967.6,812.7 L968.9,814.2 L970.2,815.6 L971.5,817.1 L972.8,818.6 L974.1,820.1 L975.4,821.6 L976.7,823.1 L978.0,824.6 L979.3,826.1 L980.6,827.6 L981.9,829.2 L983.2,830.7 L984.5,832.2 L985.8,833.7 L987.1,835.2 L988.3,836.7 L989.6,838.2 L990.9,839.7 L992.2,841.2 L993.5,842.6 L994.8,844.1 L996.1,845.5 L997.4,846.9 L998.7,848.4 L1000.0,849.8 L1001.3,851.2 L1002.6,852.6 L1003.9,854.0 L1005.2,855.3 L1006.5,856.7 L1007.8,858.1 L1009.1,859.4 L1010.4,860.7 L1011.7,862.1 L1013.0,863.4 L1014.3,864.7 L1015.6,866.0 L1016.9,867.2 L1018.2,868.5 L1019.5,869.8 L1020.8,871.0 L1022.1,872.3 L1023.4,873.5 L1024.7,874.7 L1026.0,875.9 L1027.3,877.1 L1028.6,878.3 L1029.9,879.4 L1031.1,880.6 L1032.4,881.7 L1033.7,882.8 L1035.0,884.0 L1036.3,885.1 L1037.6,886.2 L1038.9,887.3 L1040.2,888.3 L1041.5,889.4 L1042.8,890.4 L1044.1,891.5 L1045.4,892.5 L1046.7,893.5 L1048.0,894.5 L1049.3,895.5 L1050.6,896.5 L1051.9,897.5 L1053.2,898.5 L1054.5,899.4 L1055.8,900.4 L1057.1,901.3 L1058.4,902.2 L1059.7,903.1 L1061.0,904.0 L1062.3,904.9 L1063.6,905.8 L1064.9,906.7 L1066.2,907.5 L1067.5,908.4 L1068.8,909.2 L1070.1,910.1 L1071.4,910.9 L1072.7,911.7 L1073.9,912.5 L1075.2,913.3 L1076.5,914.1 L1077.8,914.9 L1079.1,915.6 L1080.4,916.4 L1081.7,917.1 L1083.0,917.9 L1084.3,918.6 L1085.6,919.3 L1086.9,920.0 L1088.2,920.7 L1089.5,921.4 L1090.8,922.1 L1092.1,922.8 L1093.4,923.5 L1094.7,924.1 L1096.0,924.8 L1097.3,925.4 L1098.6,926.0 L1099.9,926.7 L1101.2,927.3 L1102.5,927.9 L1103.8,928.5 L1105.1,929.1 L1106.4,929.8 L1107.7,930.4 L1109.0,931.0 L1110.3,931.6 L1111.6,932.2 L1112.9,932.8 L1114.2,933.4 L1115.5,934.0 L1116.8,934.6 L1118.0,935.1 L1119.3,935.7 L1120.6,936.3 L1121.9,936.8 L1123.2,937.4 L1124.5,937.9 L1125.8,938.4 L1127.1,939.0 L1128.4,939.5 L1129.7,940.0 L1131.0,940.5 L1132.3,941.0 L1133.6,941.4 L1134.9,941.9 L1136.2,942.4 L1137.5,942.8 L1138.8,943.3 L1140.1,943.7 L1141.4,944.1 L1142.7,944.5 L1144.0,944.9 L1145.3,945.3 L1146.6,945.7 L1147.9,946.1 L1149.2,946.4 L1150.5,946.8 L1151.8,947.1 L1153.1,947.4 L1154.4,947.8 L1155.7,948.1 L1157.0,948.4 L1158.3,948.7 L1159.6,949.0 L1160.8,949.2 L1162.1,949.5 L1163.4,949.8 L1164.7,950.0 L1166.0,950.3 L1167.3,950.5 L1168.6,950.8 L1169.9,951.0 L1171.2,951.3 L1172.5,951.5 L1173.8,951.7 L1175.1,951.9 L1176.4,952.2 L1177.7,952.4 L1179.0,952.6 L1180.3,952.8 L1181.6,953.0 L1182.9,953.2 L1184.2,953.4 L1185.5,953.6 L1186.8,953.8 L1188.1,954.0 L1189.4,954.2 L1190.7,954.4 L1192.0,954.6 L1193.3,954.8 L1194.6,955.0 L1195.9,955.2 L1197.2,955.4 L1198.5,955.6 L1199.8,955.7 L1201.1,955.9 L1202.4,956.1 L1203.6,956.3 L1204.9,956.5 L1206.2,956.6 L1207.5,956.8 L1208.8,957.0 L1210.1,957.1 L1211.4,957.3 L1212.7,957.5 L1214.0,957.6 L1215.3,957.8 L1216.6,957.9 L1217.9,958.1 L1219.2,958.2 L1220.5,958.4 L1221.8,958.5 L1223.1,958.7 L1224.4,958.8 L1225.7,958.9 L1227.0,959.1 L1228.3,959.2 L1229.6,959.3 L1230.9,959.4 L1232.2,959.6 L1233.5,959.7 L1234.8,959.8 L1236.1,959.9 L1237.4,960.1 L1238.7,960.2 L1240.0,960.3 L1241.3,960.4 L1242.6,960.5 L1243.9,960.6 L1245.2,960.7 L1246.5,960.8 L1247.7,960.9 L1249.0,961.0 L1250.3,961.1 L1251.6,961.2 L1252.9,961.3 L1254.2,961.4 L1255.5,961.5 L1256.8,961.6 L1258.1,961.7 L1259.4,961.8 L1260.7,961.8 L1262.0,961.9 L1263.3,962.0 L1264.6,962.1 L1265.9,962.2 L1267.2,962.3 L1268.5,962.3 L1269.8,962.4 L1271.1,962.5 L1272.4,962.6 L1273.7,962.6 L1275.0,962.7 L1276.3,962.8 L1277.6,962.9 L1278.9,962.9 L1280.2,963.0 L1281.5,963.1 L1282.8,963.1 L1284.1,963.2 L1285.4,963.3 L1286.7,963.3 L1288.0,963.4 L1289.3,963.5 L1290.5,963.5 L1291.8,963.6 L1293.1,963.7 L1294.4,963.7 L1295.7,963.8 L1297.0,963.9 L1298.3,963.9 L1299.6,964.0 L1300.9,964.1 L1302.2,964.1 L1303.5,964.2 L1304.8,964.2 L1306.1,964.3 L1307.4,964.4 L1308.7,964.4 L1310.0,964.5 L1311.3,964.6 L1312.6,964.6 L1313.9,964.7 L1315.2,964.7 L1316.5,964.8 L1317.8,964.9 L1319.1,964.9 L1320.4,965.0 L1321.7,965.1 L1323.0,965.1 L1324.3,965.2 L1325.6,965.3 L1326.9,965.4 L1328.2,965.4 L1329.5,965.5 L1330.8,965.6 L1332.1,965.6 L1333.3,965.7 L1334.6,965.8 L1335.9,965.9 L1337.2,965.9 L1338.5,966.0 L1339.8,966.1 L1341.1,966.2 L1342.4,966.3 L1343.7,966.3 L1345.0,966.4 L1346.3,966.5 L1347.6,966.6 L1348.9,966.7 L1350.2,966.8 L1351.5,966.9 L1352.8,966.9 L1354.1,967.0 L1355.4,967.1 L1356.7,967.2 L1358.0,967.3 L1359.3,967.4 L1360.6,967.5 L1361.9,967.6 L1363.2,967.7 L1364.5,967.8 L1365.8,967.8 L1367.1,967.9 L1368.4,968.0 L1369.7,968.1 L1371.0,968.2 L1372.3,968.3 L1373.6,968.4 L1374.9,968.5 L1376.2,968.6 L1377.4,968.7 L1378.7,968.8 L1380.0,968.8 L1381.3,968.9 L1382.6,969.0 L1383.9,969.1 L1385.2,969.2 L1386.5,969.3 L1387.8,969.3 L1389.1,969.4 L1390.4,969.5 L1391.7,969.6 L1393.0,969.7 L1394.3,969.7 L1395.6,969.8 L1396.9,969.9 L1398.2,970.0 L1399.5,970.0 L1400.8,970.1 L1402.1,970.2 L1403.4,970.2 L1404.7,970.3 L1406.0,970.4 L1407.3,970.4 L1408.6,970.5 L1409.9,970.5 L1411.2,970.6 L1412.5,970.6 L1413.8,970.7 L1415.1,970.7 L1416.4,970.8 L1417.7,970.8 L1419.0,970.8 L1420.2,970.9 L1421.5,970.9 L1422.8,970.9 L1424.1,971.0 L1425.4,971.0 L1426.7,971.0 L1428.0,971.0 L1429.3,971.0 L1430.6,971.0 L1431.9,971.0 L1433.2,971.0 L1434.5,971.0 L1435.8,971.0 L1437.1,971.0 L1438.4,971.0 L1439.7,971.0 L1441.0,971.0"/>
<path class="c" stroke="#FB6501" d="M275.0,914.0 L276.3,913.5 L277.6,912.9 L278.9,912.4 L280.2,911.9 L281.5,911.4 L282.8,911.0 L284.1,910.5 L285.4,910.1 L286.7,909.7 L288.0,909.3 L289.3,908.9 L290.6,908.5 L291.9,908.2 L293.2,907.8 L294.5,907.5 L295.8,907.2 L297.0,906.9 L298.3,906.6 L299.6,906.4 L300.9,906.1 L302.2,905.9 L303.5,905.7 L304.8,905.5 L306.1,905.3 L307.4,905.2 L308.7,905.0 L310.0,904.9 L311.3,904.8 L312.6,904.7 L313.9,904.6 L315.2,904.6 L316.5,904.5 L317.8,904.5 L319.1,904.5 L320.4,904.5 L321.7,904.5 L323.0,904.6 L324.3,904.6 L325.6,904.6 L326.9,904.7 L328.2,904.8 L329.5,904.8 L330.8,904.9 L332.1,905.0 L333.4,905.1 L334.7,905.2 L336.0,905.3 L337.3,905.4 L338.6,905.5 L339.8,905.6 L341.1,905.7 L342.4,905.8 L343.7,905.9 L345.0,906.0 L346.3,906.2 L347.6,906.3 L348.9,906.4 L350.2,906.5 L351.5,906.6 L352.8,906.7 L354.1,906.8 L355.4,906.9 L356.7,907.0 L358.0,907.1 L359.3,907.2 L360.6,907.2 L361.9,907.3 L363.2,907.4 L364.5,907.4 L365.8,907.4 L367.1,907.4 L368.4,907.5 L369.7,907.5 L371.0,907.5 L372.3,907.4 L373.6,907.4 L374.9,907.4 L376.2,907.3 L377.5,907.2 L378.8,907.1 L380.1,907.0 L381.4,906.9 L382.7,906.8 L383.9,906.6 L385.2,906.4 L386.5,906.3 L387.8,906.0 L389.1,905.8 L390.4,905.5 L391.7,905.3 L393.0,904.9 L394.3,904.6 L395.6,904.2 L396.9,903.8 L398.2,903.3 L399.5,902.8 L400.8,902.2 L402.1,901.5 L403.4,900.8 L404.7,900.0 L406.0,899.2 L407.3,898.2 L408.6,897.2 L409.9,896.2 L411.2,895.0 L412.5,893.8 L413.8,892.4 L415.1,891.0 L416.4,889.5 L417.7,888.0 L419.0,886.3 L420.3,884.6 L421.6,882.8 L422.9,880.9 L424.2,879.0 L425.5,876.9 L426.7,874.8 L428.0,872.6 L429.3,870.3 L430.6,867.9 L431.9,865.4 L433.2,862.9 L434.5,860.2 L435.8,857.5 L437.1,854.7 L438.4,851.9 L439.7,848.9 L441.0,845.9 L442.3,842.7 L443.6,839.5 L444.9,836.3 L446.2,832.9 L447.5,829.4 L448.8,825.9 L450.1,822.3 L451.4,818.6 L452.7,814.8 L454.0,811.0 L455.3,807.1 L456.6,803.1 L457.9,799.1 L459.2,795.0 L460.5,790.8 L461.8,786.6 L463.1,782.3 L464.4,778.0 L465.7,773.6 L467.0,769.2 L468.3,764.8 L469.5,760.3 L470.8,755.7 L472.1,751.1 L473.4,746.5 L474.7,741.9 L476.0,737.2 L477.3,732.5 L478.6,727.8 L479.9,723.1 L481.2,718.4 L482.5,713.7 L483.8,708.9 L485.1,704.2 L486.4,699.4 L487.7,694.7 L489.0,689.9 L490.3,685.2 L491.6,680.6 L492.9,675.9 L494.2,671.3 L495.5,666.7 L496.8,662.2 L498.1,657.7 L499.4,653.3 L500.7,648.9 L502.0,644.6 L503.3,640.4 L504.6,636.2 L505.9,632.2 L507.2,628.2 L508.5,624.2 L509.8,620.4 L511.1,616.7 L512.4,613.1 L513.6,609.6 L514.9,606.2 L516.2,602.9 L517.5,599.7 L518.8,596.6 L520.1,593.7 L521.4,590.8 L522.7,588.1 L524.0,585.5 L525.3,583.0 L526.6,580.6 L527.9,578.3 L529.2,576.1 L530.5,574.0 L531.8,572.0 L533.1,570.1 L534.4,568.3 L535.7,566.6 L537.0,565.0 L538.3,563.5 L539.6,562.1 L540.9,560.8 L542.2,559.6 L543.5,558.4 L544.8,557.4 L546.1,556.5 L547.4,555.7 L548.7,554.9 L550.0,554.3 L551.3,553.7 L552.6,553.3 L553.9,552.9 L555.2,552.6 L556.4,552.4 L557.7,552.3 L559.0,552.3 L560.3,552.4 L561.6,552.6 L562.9,552.9 L564.2,553.2 L565.5,553.7 L566.8,554.2 L568.1,554.8 L569.4,555.5 L570.7,556.3 L572.0,557.2 L573.3,558.1 L574.6,559.2 L575.9,560.3 L577.2,561.5 L578.5,562.7 L579.8,564.0 L581.1,565.5 L582.4,566.9 L583.7,568.5 L585.0,570.1 L586.3,571.8 L587.6,573.5 L588.9,575.3 L590.2,577.1 L591.5,579.0 L592.8,581.0 L594.1,583.0 L595.4,585.0 L596.7,587.1 L598.0,589.3 L599.2,591.4 L600.5,593.7 L601.8,595.9 L603.1,598.2 L604.4,600.5 L605.7,602.9 L607.0,605.3 L608.3,607.7 L609.6,610.1 L610.9,612.5 L612.2,615.0 L613.5,617.5 L614.8,620.0 L616.1,622.5 L617.4,625.0 L618.7,627.5 L620.0,630.1 L621.3,632.6 L622.6,635.1 L623.9,637.6 L625.2,640.1 L626.5,642.7 L627.8,645.2 L629.1,647.7 L630.4,650.2 L631.7,652.7 L633.0,655.2 L634.3,657.6 L635.6,660.1 L636.9,662.6 L638.2,665.1 L639.5,667.5 L640.8,670.0 L642.1,672.5 L643.3,675.0 L644.6,677.5 L645.9,680.0 L647.2,682.5 L648.5,685.0 L649.8,687.6 L651.1,690.1 L652.4,692.6 L653.7,695.2 L655.0,697.7 L656.3,700.2 L657.6,702.8 L658.9,705.3 L660.2,707.8 L661.5,710.4 L662.8,712.9 L664.1,715.4 L665.4,717.9 L666.7,720.4 L668.0,722.9 L669.3,725.4 L670.6,727.9 L671.9,730.3 L673.2,732.8 L674.5,735.2 L675.8,737.6 L677.1,740.0 L678.4,742.4 L679.7,744.7 L681.0,747.1 L682.3,749.4 L683.6,751.7 L684.9,753.9 L686.1,756.2 L687.4,758.4 L688.7,760.6 L690.0,762.7 L691.3,764.8 L692.6,766.9 L693.9,769.0 L695.2,771.0 L696.5,773.0 L697.8,775.0 L699.1,776.9 L700.4,778.8 L701.7,780.7 L703.0,782.5 L704.3,784.3 L705.6,786.1 L706.9,787.8 L708.2,789.5 L709.5,791.2 L710.8,792.9 L712.1,794.5 L713.4,796.1 L714.7,797.7 L716.0,799.2 L717.3,800.7 L718.6,802.2 L719.9,803.7 L721.2,805.2 L722.5,806.6 L723.8,808.1 L725.1,809.5 L726.4,810.9 L727.7,812.3 L728.9,813.6 L730.2,815.0 L731.5,816.3 L732.8,817.7 L734.1,819.1 L735.4,820.4 L736.7,821.8 L738.0,823.2 L739.3,824.5 L740.6,825.9 L741.9,827.2 L743.2,828.6 L744.5,829.9 L745.8,831.2 L747.1,832.5 L748.4,833.8 L749.7,835.1 L751.0,836.4 L752.3,837.7 L753.6,839.0 L754.9,840.2 L756.2,841.5 L757.5,842.7 L758.8,844.0 L760.1,845.2 L761.4,846.4 L762.7,847.6 L764.0,848.8 L765.3,850.0 L766.6,851.1 L767.9,852.3 L769.2,853.4 L770.5,854.5 L771.7,855.5 L773.0,856.6 L774.3,857.6 L775.6,858.6 L776.9,859.5 L778.2,860.4 L779.5,861.3 L780.8,862.2 L782.1,863.1 L783.4,863.9 L784.7,864.7 L786.0,865.5 L787.3,866.3 L788.6,867.1 L789.9,867.8 L791.2,868.5 L792.5,869.2 L793.8,869.9 L795.1,870.6 L796.4,871.2 L797.7,871.8 L799.0,872.4 L800.3,872.9 L801.6,873.4 L802.9,873.9 L804.2,874.3 L805.5,874.7 L806.8,875.0 L808.1,875.3 L809.4,875.6 L810.7,875.8 L812.0,875.9 L813.3,876.0 L814.6,876.1 L815.8,876.1 L817.1,876.1 L818.4,876.0 L819.7,875.9 L821.0,875.7 L822.3,875.5 L823.6,875.3 L824.9,875.0 L826.2,874.7 L827.5,874.4 L828.8,874.0 L830.1,873.6 L831.4,873.2 L832.7,872.7 L834.0,872.2 L835.3,871.7 L836.6,871.2 L837.9,870.6 L839.2,870.0 L840.5,869.5 L841.8,868.8 L843.1,868.2 L844.4,867.6 L845.7,866.9 L847.0,866.2 L848.3,865.5 L849.6,864.8 L850.9,864.1 L852.2,863.4 L853.5,862.6 L854.8,861.9 L856.1,861.1 L857.4,860.4 L858.6,859.6 L859.9,858.9 L861.2,858.1 L862.5,857.3 L863.8,856.6 L865.1,855.8 L866.4,855.0 L867.7,854.3 L869.0,853.5 L870.3,852.8 L871.6,852.0 L872.9,851.3 L874.2,850.6 L875.5,849.9 L876.8,849.2 L878.1,848.5 L879.4,847.8 L880.7,847.1 L882.0,846.5 L883.3,845.8 L884.6,845.2 L885.9,844.6 L887.2,844.0 L888.5,843.5 L889.8,843.0 L891.1,842.5 L892.4,842.0 L893.7,841.5 L895.0,841.1 L896.3,840.7 L897.6,840.3 L898.9,839.9 L900.2,839.6 L901.4,839.3 L902.7,839.0 L904.0,838.7 L905.3,838.5 L906.6,838.3 L907.9,838.1 L909.2,837.9 L910.5,837.8 L911.8,837.7 L913.1,837.6 L914.4,837.5 L915.7,837.5 L917.0,837.5 L918.3,837.5 L919.6,837.6 L920.9,837.6 L922.2,837.7 L923.5,837.8 L924.8,837.9 L926.1,838.1 L927.4,838.3 L928.7,838.5 L930.0,838.7 L931.3,839.0 L932.6,839.2 L933.9,839.5 L935.2,839.9 L936.5,840.2 L937.8,840.6 L939.1,841.0 L940.4,841.4 L941.7,841.9 L943.0,842.4 L944.3,842.9 L945.5,843.4 L946.8,844.0 L948.1,844.5 L949.4,845.2 L950.7,845.8 L952.0,846.5 L953.3,847.2 L954.6,847.9 L955.9,848.6 L957.2,849.4 L958.5,850.2 L959.8,851.0 L961.1,851.8 L962.4,852.7 L963.7,853.5 L965.0,854.4 L966.3,855.3 L967.6,856.3 L968.9,857.2 L970.2,858.2 L971.5,859.2 L972.8,860.1 L974.1,861.1 L975.4,862.2 L976.7,863.2 L978.0,864.2 L979.3,865.2 L980.6,866.3 L981.9,867.3 L983.2,868.3 L984.5,869.4 L985.8,870.4 L987.1,871.5 L988.3,872.5 L989.6,873.5 L990.9,874.5 L992.2,875.6 L993.5,876.6 L994.8,877.6 L996.1,878.6 L997.4,879.6 L998.7,880.6 L1000.0,881.6 L1001.3,882.5 L1002.6,883.5 L1003.9,884.5 L1005.2,885.5 L1006.5,886.4 L1007.8,887.4 L1009.1,888.3 L1010.4,889.3 L1011.7,890.2 L1013.0,891.1 L1014.3,892.1 L1015.6,893.0 L1016.9,893.9 L1018.2,894.8 L1019.5,895.7 L1020.8,896.6 L1022.1,897.5 L1023.4,898.4 L1024.7,899.2 L1026.0,900.1 L1027.3,900.9 L1028.6,901.8 L1029.9,902.6 L1031.1,903.5 L1032.4,904.3 L1033.7,905.1 L1035.0,905.9 L1036.3,906.7 L1037.6,907.5 L1038.9,908.3 L1040.2,909.1 L1041.5,909.9 L1042.8,910.7 L1044.1,911.4 L1045.4,912.2 L1046.7,912.9 L1048.0,913.7 L1049.3,914.4 L1050.6,915.1 L1051.9,915.8 L1053.2,916.6 L1054.5,917.3 L1055.8,918.0 L1057.1,918.7 L1058.4,919.3 L1059.7,920.0 L1061.0,920.7 L1062.3,921.4 L1063.6,922.0 L1064.9,922.7 L1066.2,923.3 L1067.5,924.0 L1068.8,924.6 L1070.1,925.2 L1071.4,925.8 L1072.7,926.5 L1073.9,927.1 L1075.2,927.7 L1076.5,928.3 L1077.8,928.8 L1079.1,929.4 L1080.4,930.0 L1081.7,930.6 L1083.0,931.1 L1084.3,931.7 L1085.6,932.2 L1086.9,932.8 L1088.2,933.3 L1089.5,933.9 L1090.8,934.4 L1092.1,934.9 L1093.4,935.4 L1094.7,935.9 L1096.0,936.4 L1097.3,936.9 L1098.6,937.4 L1099.9,937.9 L1101.2,938.4 L1102.5,938.9 L1103.8,939.3 L1105.1,939.8 L1106.4,940.3 L1107.7,940.7 L1109.0,941.2 L1110.3,941.7 L1111.6,942.1 L1112.9,942.6 L1114.2,943.0 L1115.5,943.4 L1116.8,943.9 L1118.0,944.3 L1119.3,944.7 L1120.6,945.1 L1121.9,945.6 L1123.2,946.0 L1124.5,946.4 L1125.8,946.8 L1127.1,947.1 L1128.4,947.5 L1129.7,947.9 L1131.0,948.3 L1132.3,948.6 L1133.6,949.0 L1134.9,949.3 L1136.2,949.7 L1137.5,950.0 L1138.8,950.3 L1140.1,950.7 L1141.4,951.0 L1142.7,951.3 L1144.0,951.6 L1145.3,951.9 L1146.6,952.2 L1147.9,952.5 L1149.2,952.8 L1150.5,953.0 L1151.8,953.3 L1153.1,953.6 L1154.4,953.8 L1155.7,954.1 L1157.0,954.3 L1158.3,954.6 L1159.6,954.8 L1160.8,955.0 L1162.1,955.2 L1163.4,955.5 L1164.7,955.7 L1166.0,955.9 L1167.3,956.1 L1168.6,956.3 L1169.9,956.5 L1171.2,956.7 L1172.5,956.9 L1173.8,957.1 L1175.1,957.3 L1176.4,957.4 L1177.7,957.6 L1179.0,957.8 L1180.3,958.0 L1181.6,958.1 L1182.9,958.3 L1184.2,958.5 L1185.5,958.6 L1186.8,958.8 L1188.1,958.9 L1189.4,959.1 L1190.7,959.2 L1192.0,959.4 L1193.3,959.5 L1194.6,959.7 L1195.9,959.8 L1197.2,960.0 L1198.5,960.1 L1199.8,960.2 L1201.1,960.4 L1202.4,960.5 L1203.6,960.6 L1204.9,960.8 L1206.2,960.9 L1207.5,961.0 L1208.8,961.1 L1210.1,961.2 L1211.4,961.4 L1212.7,961.5 L1214.0,961.6 L1215.3,961.7 L1216.6,961.8 L1217.9,961.9 L1219.2,962.0 L1220.5,962.1 L1221.8,962.2 L1223.1,962.3 L1224.4,962.4 L1225.7,962.5 L1227.0,962.6 L1228.3,962.7 L1229.6,962.8 L1230.9,962.9 L1232.2,963.0 L1233.5,963.1 L1234.8,963.2 L1236.1,963.2 L1237.4,963.3 L1238.7,963.4 L1240.0,963.5 L1241.3,963.6 L1242.6,963.6 L1243.9,963.7 L1245.2,963.8 L1246.5,963.9 L1247.7,963.9 L1249.0,964.0 L1250.3,964.1 L1251.6,964.1 L1252.9,964.2 L1254.2,964.3 L1255.5,964.3 L1256.8,964.4 L1258.1,964.4 L1259.4,964.5 L1260.7,964.6 L1262.0,964.6 L1263.3,964.7 L1264.6,964.7 L1265.9,964.8 L1267.2,964.8 L1268.5,964.9 L1269.8,964.9 L1271.1,965.0 L1272.4,965.0 L1273.7,965.1 L1275.0,965.1 L1276.3,965.2 L1277.6,965.2 L1278.9,965.3 L1280.2,965.3 L1281.5,965.4 L1282.8,965.4 L1284.1,965.4 L1285.4,965.5 L1286.7,965.5 L1288.0,965.6 L1289.3,965.6 L1290.5,965.6 L1291.8,965.7 L1293.1,965.7 L1294.4,965.8 L1295.7,965.8 L1297.0,965.9 L1298.3,965.9 L1299.6,965.9 L1300.9,966.0 L1302.2,966.0 L1303.5,966.0 L1304.8,966.1 L1306.1,966.1 L1307.4,966.2 L1308.7,966.2 L1310.0,966.2 L1311.3,966.3 L1312.6,966.3 L1313.9,966.4 L1315.2,966.4 L1316.5,966.4 L1317.8,966.5 L1319.1,966.5 L1320.4,966.6 L1321.7,966.6 L1323.0,966.7 L1324.3,966.7 L1325.6,966.8 L1326.9,966.8 L1328.2,966.8 L1329.5,966.9 L1330.8,966.9 L1332.1,967.0 L1333.3,967.0 L1334.6,967.1 L1335.9,967.1 L1337.2,967.2 L1338.5,967.2 L1339.8,967.3 L1341.1,967.4 L1342.4,967.4 L1343.7,967.5 L1345.0,967.5 L1346.3,967.6 L1347.6,967.7 L1348.9,967.7 L1350.2,967.8 L1351.5,967.8 L1352.8,967.9 L1354.1,968.0 L1355.4,968.0 L1356.7,968.1 L1358.0,968.2 L1359.3,968.2 L1360.6,968.3 L1361.9,968.4 L1363.2,968.4 L1364.5,968.5 L1365.8,968.6 L1367.1,968.7 L1368.4,968.7 L1369.7,968.8 L1371.0,968.9 L1372.3,968.9 L1373.6,969.0 L1374.9,969.1 L1376.2,969.1 L1377.4,969.2 L1378.7,969.3 L1380.0,969.4 L1381.3,969.4 L1382.6,969.5 L1383.9,969.6 L1385.2,969.6 L1386.5,969.7 L1387.8,969.8 L1389.1,969.8 L1390.4,969.9 L1391.7,969.9 L1393.0,970.0 L1394.3,970.1 L1395.6,970.1 L1396.9,970.2 L1398.2,970.2 L1399.5,970.3 L1400.8,970.4 L1402.1,970.4 L1403.4,970.5 L1404.7,970.5 L1406.0,970.6 L1407.3,970.6 L1408.6,970.7 L1409.9,970.7 L1411.2,970.7 L1412.5,970.8 L1413.8,970.8 L1415.1,970.9 L1416.4,970.9 L1417.7,970.9 L1419.0,970.9 L1420.2,971.0 L1421.5,971.0 L1422.8,971.0 L1424.1,971.0 L1425.4,971.1 L1426.7,971.1 L1428.0,971.1 L1429.3,971.1 L1430.6,971.1 L1431.9,971.1 L1433.2,971.1 L1434.5,971.1 L1435.8,971.1 L1437.1,971.1 L1438.4,971.0 L1439.7,971.0 L1441.0,971.0"/>
<path class="c" stroke="#6699CC" d="M275.0,935.6 L276.3,935.3 L277.6,935.1 L278.9,934.8 L280.2,934.6 L281.5,934.3 L282.8,934.1 L284.1,933.8 L285.4,933.6 L286.7,933.4 L288.0,933.1 L289.3,932.9 L290.6,932.7 L291.9,932.5 L293.2,932.3 L294.5,932.1 L295.8,931.9 L297.0,931.7 L298.3,931.6 L299.6,931.4 L300.9,931.2 L302.2,931.1 L303.5,931.0 L304.8,930.8 L306.1,930.7 L307.4,930.6 L308.7,930.6 L310.0,930.5 L311.3,930.4 L312.6,930.4 L313.9,930.3 L315.2,930.3 L316.5,930.3 L317.8,930.3 L319.1,930.3 L320.4,930.3 L321.7,930.3 L323.0,930.4 L324.3,930.4 L325.6,930.5 L326.9,930.5 L328.2,930.6 L329.5,930.6 L330.8,930.7 L332.1,930.8 L333.4,930.8 L334.7,930.9 L336.0,931.0 L337.3,931.1 L338.6,931.1 L339.8,931.2 L341.1,931.3 L342.4,931.4 L343.7,931.5 L345.0,931.6 L346.3,931.6 L347.6,931.7 L348.9,931.8 L350.2,931.9 L351.5,932.0 L352.8,932.1 L354.1,932.2 L355.4,932.2 L356.7,932.3 L358.0,932.4 L359.3,932.5 L360.6,932.6 L361.9,932.6 L363.2,932.7 L364.5,932.8 L365.8,932.8 L367.1,932.9 L368.4,932.9 L369.7,933.0 L371.0,933.0 L372.3,933.1 L373.6,933.1 L374.9,933.1 L376.2,933.1 L377.5,933.1 L378.8,933.1 L380.1,933.1 L381.4,933.1 L382.7,933.1 L383.9,933.1 L385.2,933.0 L386.5,933.0 L387.8,932.9 L389.1,932.9 L390.4,932.8 L391.7,932.7 L393.0,932.6 L394.3,932.5 L395.6,932.4 L396.9,932.3 L398.2,932.1 L399.5,931.9 L400.8,931.7 L402.1,931.5 L403.4,931.3 L404.7,931.0 L406.0,930.7 L407.3,930.4 L408.6,930.0 L409.9,929.6 L411.2,929.2 L412.5,928.7 L413.8,928.2 L415.1,927.7 L416.4,927.1 L417.7,926.5 L419.0,925.8 L420.3,925.1 L421.6,924.4 L422.9,923.6 L424.2,922.8 L425.5,922.0 L426.7,921.1 L428.0,920.1 L429.3,919.2 L430.6,918.2 L431.9,917.1 L433.2,916.0 L434.5,914.9 L435.8,913.7 L437.1,912.5 L438.4,911.3 L439.7,910.0 L441.0,908.7 L442.3,907.3 L443.6,905.9 L444.9,904.5 L446.2,903.0 L447.5,901.4 L448.8,899.9 L450.1,898.3 L451.4,896.6 L452.7,895.0 L454.0,893.2 L455.3,891.5 L456.6,889.7 L457.9,887.9 L459.2,886.0 L460.5,884.1 L461.8,882.1 L463.1,880.2 L464.4,878.2 L465.7,876.1 L467.0,874.0 L468.3,871.9 L469.5,869.8 L470.8,867.6 L472.1,865.4 L473.4,863.2 L474.7,860.9 L476.0,858.6 L477.3,856.3 L478.6,853.9 L479.9,851.6 L481.2,849.2 L482.5,846.7 L483.8,844.3 L485.1,841.8 L486.4,839.3 L487.7,836.8 L489.0,834.2 L490.3,831.7 L491.6,829.1 L492.9,826.5 L494.2,823.9 L495.5,821.3 L496.8,818.7 L498.1,816.0 L499.4,813.4 L500.7,810.8 L502.0,808.1 L503.3,805.5 L504.6,802.8 L505.9,800.2 L507.2,797.6 L508.5,795.0 L509.8,792.4 L511.1,789.8 L512.4,787.3 L513.6,784.8 L514.9,782.3 L516.2,779.8 L517.5,777.4 L518.8,775.0 L520.1,772.7 L521.4,770.4 L522.7,768.2 L524.0,766.1 L525.3,764.0 L526.6,761.9 L527.9,760.0 L529.2,758.1 L530.5,756.3 L531.8,754.5 L533.1,752.8 L534.4,751.2 L535.7,749.7 L537.0,748.2 L538.3,746.8 L539.6,745.4 L540.9,744.1 L542.2,742.9 L543.5,741.8 L544.8,740.7 L546.1,739.6 L547.4,738.7 L548.7,737.8 L550.0,736.9 L551.3,736.2 L552.6,735.4 L553.9,734.8 L555.2,734.2 L556.4,733.6 L557.7,733.2 L559.0,732.8 L560.3,732.4 L561.6,732.1 L562.9,731.9 L564.2,731.7 L565.5,731.6 L566.8,731.5 L568.1,731.5 L569.4,731.6 L570.7,731.7 L572.0,731.8 L573.3,732.0 L574.6,732.3 L575.9,732.6 L577.2,733.0 L578.5,733.4 L579.8,733.8 L581.1,734.3 L582.4,734.9 L583.7,735.5 L585.0,736.1 L586.3,736.8 L587.6,737.5 L588.9,738.3 L590.2,739.1 L591.5,740.0 L592.8,740.9 L594.1,741.8 L595.4,742.8 L596.7,743.8 L598.0,744.8 L599.2,745.9 L600.5,747.0 L601.8,748.1 L603.1,749.3 L604.4,750.5 L605.7,751.7 L607.0,752.9 L608.3,754.2 L609.6,755.5 L610.9,756.8 L612.2,758.1 L613.5,759.5 L614.8,760.9 L616.1,762.3 L617.4,763.7 L618.7,765.1 L620.0,766.5 L621.3,768.0 L622.6,769.4 L623.9,770.9 L625.2,772.3 L626.5,773.8 L627.8,775.3 L629.1,776.7 L630.4,778.2 L631.7,779.7 L633.0,781.2 L634.3,782.6 L635.6,784.1 L636.9,785.6 L638.2,787.0 L639.5,788.5 L640.8,789.9 L642.1,791.4 L643.3,792.8 L644.6,794.3 L645.9,795.7 L647.2,797.2 L648.5,798.6 L649.8,800.0 L651.1,801.4 L652.4,802.8 L653.7,804.2 L655.0,805.6 L656.3,806.9 L657.6,808.3 L658.9,809.6 L660.2,811.0 L661.5,812.3 L662.8,813.6 L664.1,814.9 L665.4,816.3 L666.7,817.6 L668.0,818.9 L669.3,820.2 L670.6,821.5 L671.9,822.8 L673.2,824.1 L674.5,825.3 L675.8,826.6 L677.1,827.9 L678.4,829.1 L679.7,830.4 L681.0,831.6 L682.3,832.9 L683.6,834.1 L684.9,835.4 L686.1,836.6 L687.4,837.8 L688.7,839.0 L690.0,840.2 L691.3,841.4 L692.6,842.6 L693.9,843.8 L695.2,844.9 L696.5,846.1 L697.8,847.2 L699.1,848.4 L700.4,849.5 L701.7,850.6 L703.0,851.7 L704.3,852.9 L705.6,854.0 L706.9,855.1 L708.2,856.2 L709.5,857.3 L710.8,858.3 L712.1,859.4 L713.4,860.5 L714.7,861.5 L716.0,862.6 L717.3,863.6 L718.6,864.7 L719.9,865.7 L721.2,866.7 L722.5,867.6 L723.8,868.6 L725.1,869.6 L726.4,870.5 L727.7,871.4 L728.9,872.4 L730.2,873.3 L731.5,874.2 L732.8,875.0 L734.1,875.9 L735.4,876.7 L736.7,877.6 L738.0,878.4 L739.3,879.2 L740.6,880.0 L741.9,880.9 L743.2,881.7 L744.5,882.5 L745.8,883.3 L747.1,884.1 L748.4,884.9 L749.7,885.7 L751.0,886.5 L752.3,887.3 L753.6,888.1 L754.9,888.9 L756.2,889.7 L757.5,890.5 L758.8,891.3 L760.1,892.0 L761.4,892.8 L762.7,893.6 L764.0,894.4 L765.3,895.1 L766.6,895.9 L767.9,896.7 L769.2,897.4 L770.5,898.2 L771.7,898.9 L773.0,899.7 L774.3,900.4 L775.6,901.1 L776.9,901.7 L778.2,902.4 L779.5,903.0 L780.8,903.7 L782.1,904.3 L783.4,904.9 L784.7,905.5 L786.0,906.1 L787.3,906.7 L788.6,907.3 L789.9,907.8 L791.2,908.4 L792.5,908.9 L793.8,909.5 L795.1,910.0 L796.4,910.5 L797.7,911.0 L799.0,911.5 L800.3,912.0 L801.6,912.4 L802.9,912.9 L804.2,913.3 L805.5,913.6 L806.8,914.0 L808.1,914.3 L809.4,914.6 L810.7,914.8 L812.0,915.0 L813.3,915.2 L814.6,915.3 L815.8,915.5 L817.1,915.5 L818.4,915.6 L819.7,915.6 L821.0,915.6 L822.3,915.6 L823.6,915.5 L824.9,915.4 L826.2,915.3 L827.5,915.2 L828.8,915.1 L830.1,914.9 L831.4,914.8 L832.7,914.6 L834.0,914.4 L835.3,914.2 L836.6,913.9 L837.9,913.7 L839.2,913.4 L840.5,913.2 L841.8,912.9 L843.1,912.6 L844.4,912.3 L845.7,912.0 L847.0,911.7 L848.3,911.4 L849.6,911.1 L850.9,910.8 L852.2,910.4 L853.5,910.1 L854.8,909.7 L856.1,909.4 L857.4,909.1 L858.6,908.7 L859.9,908.3 L861.2,908.0 L862.5,907.6 L863.8,907.3 L865.1,906.9 L866.4,906.5 L867.7,906.2 L869.0,905.8 L870.3,905.5 L871.6,905.1 L872.9,904.7 L874.2,904.4 L875.5,904.0 L876.8,903.7 L878.1,903.3 L879.4,903.0 L880.7,902.6 L882.0,902.3 L883.3,901.9 L884.6,901.6 L885.9,901.3 L887.2,901.0 L888.5,900.6 L889.8,900.3 L891.1,900.0 L892.4,899.7 L893.7,899.5 L895.0,899.2 L896.3,898.9 L897.6,898.7 L898.9,898.4 L900.2,898.2 L901.4,898.0 L902.7,897.8 L904.0,897.6 L905.3,897.4 L906.6,897.2 L907.9,897.0 L909.2,896.9 L910.5,896.7 L911.8,896.6 L913.1,896.5 L914.4,896.4 L915.7,896.3 L917.0,896.2 L918.3,896.2 L919.6,896.1 L920.9,896.1 L922.2,896.1 L923.5,896.1 L924.8,896.1 L926.1,896.1 L927.4,896.2 L928.7,896.2 L930.0,896.3 L931.3,896.3 L932.6,896.4 L933.9,896.5 L935.2,896.6 L936.5,896.7 L937.8,896.8 L939.1,897.0 L940.4,897.1 L941.7,897.3 L943.0,897.4 L944.3,897.6 L945.5,897.8 L946.8,898.0 L948.1,898.3 L949.4,898.5 L950.7,898.7 L952.0,899.0 L953.3,899.3 L954.6,899.6 L955.9,899.9 L957.2,900.2 L958.5,900.5 L959.8,900.9 L961.1,901.3 L962.4,901.6 L963.7,902.0 L965.0,902.4 L966.3,902.9 L967.6,903.3 L968.9,903.7 L970.2,904.2 L971.5,904.7 L972.8,905.1 L974.1,905.6 L975.4,906.1 L976.7,906.6 L978.0,907.1 L979.3,907.7 L980.6,908.2 L981.9,908.7 L983.2,909.3 L984.5,909.8 L985.8,910.4 L987.1,910.9 L988.3,911.5 L989.6,912.0 L990.9,912.6 L992.2,913.2 L993.5,913.7 L994.8,914.3 L996.1,914.9 L997.4,915.5 L998.7,916.0 L1000.0,916.6 L1001.3,917.1 L1002.6,917.7 L1003.9,918.3 L1005.2,918.8 L1006.5,919.4 L1007.8,919.9 L1009.1,920.5 L1010.4,921.0 L1011.7,921.5 L1013.0,922.1 L1014.3,922.6 L1015.6,923.2 L1016.9,923.7 L1018.2,924.2 L1019.5,924.7 L1020.8,925.3 L1022.1,925.8 L1023.4,926.3 L1024.7,926.8 L1026.0,927.3 L1027.3,927.8 L1028.6,928.4 L1029.9,928.9 L1031.1,929.4 L1032.4,929.9 L1033.7,930.3 L1035.0,930.8 L1036.3,931.3 L1037.6,931.8 L1038.9,932.3 L1040.2,932.8 L1041.5,933.2 L1042.8,933.7 L1044.1,934.2 L1045.4,934.6 L1046.7,935.1 L1048.0,935.6 L1049.3,936.0 L1050.6,936.5 L1051.9,936.9 L1053.2,937.4 L1054.5,937.8 L1055.8,938.2 L1057.1,938.7 L1058.4,939.1 L1059.7,939.5 L1061.0,939.9 L1062.3,940.4 L1063.6,940.8 L1064.9,941.2 L1066.2,941.6 L1067.5,942.0 L1068.8,942.4 L1070.1,942.8 L1071.4,943.2 L1072.7,943.6 L1073.9,944.0 L1075.2,944.4 L1076.5,944.8 L1077.8,945.1 L1079.1,945.5 L1080.4,945.9 L1081.7,946.2 L1083.0,946.6 L1084.3,947.0 L1085.6,947.3 L1086.9,947.7 L1088.2,948.0 L1089.5,948.4 L1090.8,948.7 L1092.1,949.1 L1093.4,949.4 L1094.7,949.8 L1096.0,950.1 L1097.3,950.4 L1098.6,950.8 L1099.9,951.1 L1101.2,951.4 L1102.5,951.7 L1103.8,952.0 L1105.1,952.4 L1106.4,952.7 L1107.7,953.0 L1109.0,953.3 L1110.3,953.6 L1111.6,953.9 L1112.9,954.2 L1114.2,954.5 L1115.5,954.8 L1116.8,955.1 L1118.0,955.4 L1119.3,955.7 L1120.6,956.0 L1121.9,956.3 L1123.2,956.5 L1124.5,956.8 L1125.8,957.1 L1127.1,957.3 L1128.4,957.6 L1129.7,957.8 L1131.0,958.1 L1132.3,958.3 L1133.6,958.6 L1134.9,958.8 L1136.2,959.0 L1137.5,959.3 L1138.8,959.5 L1140.1,959.7 L1141.4,959.9 L1142.7,960.1 L1144.0,960.3 L1145.3,960.5 L1146.6,960.7 L1147.9,960.9 L1149.2,961.1 L1150.5,961.2 L1151.8,961.4 L1153.1,961.6 L1154.4,961.7 L1155.7,961.9 L1157.0,962.0 L1158.3,962.2 L1159.6,962.3 L1160.8,962.5 L1162.1,962.6 L1163.4,962.7 L1164.7,962.9 L1166.0,963.0 L1167.3,963.1 L1168.6,963.2 L1169.9,963.3 L1171.2,963.4 L1172.5,963.5 L1173.8,963.6 L1175.1,963.7 L1176.4,963.8 L1177.7,963.9 L1179.0,964.0 L1180.3,964.1 L1181.6,964.2 L1182.9,964.3 L1184.2,964.4 L1185.5,964.5 L1186.8,964.6 L1188.1,964.7 L1189.4,964.7 L1190.7,964.8 L1192.0,964.9 L1193.3,965.0 L1194.6,965.1 L1195.9,965.1 L1197.2,965.2 L1198.5,965.3 L1199.8,965.4 L1201.1,965.4 L1202.4,965.5 L1203.6,965.6 L1204.9,965.7 L1206.2,965.7 L1207.5,965.8 L1208.8,965.9 L1210.1,965.9 L1211.4,966.0 L1212.7,966.1 L1214.0,966.1 L1215.3,966.2 L1216.6,966.2 L1217.9,966.3 L1219.2,966.3 L1220.5,966.4 L1221.8,966.4 L1223.1,966.5 L1224.4,966.6 L1225.7,966.6 L1227.0,966.6 L1228.3,966.7 L1229.6,966.7 L1230.9,966.8 L1232.2,966.8 L1233.5,966.9 L1234.8,966.9 L1236.1,967.0 L1237.4,967.0 L1238.7,967.0 L1240.0,967.1 L1241.3,967.1 L1242.6,967.1 L1243.9,967.2 L1245.2,967.2 L1246.5,967.2 L1247.7,967.3 L1249.0,967.3 L1250.3,967.3 L1251.6,967.4 L1252.9,967.4 L1254.2,967.4 L1255.5,967.4 L1256.8,967.5 L1258.1,967.5 L1259.4,967.5 L1260.7,967.5 L1262.0,967.6 L1263.3,967.6 L1264.6,967.6 L1265.9,967.6 L1267.2,967.6 L1268.5,967.7 L1269.8,967.7 L1271.1,967.7 L1272.4,967.7 L1273.7,967.7 L1275.0,967.7 L1276.3,967.8 L1277.6,967.8 L1278.9,967.8 L1280.2,967.8 L1281.5,967.8 L1282.8,967.8 L1284.1,967.8 L1285.4,967.9 L1286.7,967.9 L1288.0,967.9 L1289.3,967.9 L1290.5,967.9 L1291.8,967.9 L1293.1,967.9 L1294.4,967.9 L1295.7,967.9 L1297.0,968.0 L1298.3,968.0 L1299.6,968.0 L1300.9,968.0 L1302.2,968.0 L1303.5,968.0 L1304.8,968.0 L1306.1,968.0 L1307.4,968.0 L1308.7,968.0 L1310.0,968.1 L1311.3,968.1 L1312.6,968.1 L1313.9,968.1 L1315.2,968.1 L1316.5,968.1 L1317.8,968.1 L1319.1,968.1 L1320.4,968.2 L1321.7,968.2 L1323.0,968.2 L1324.3,968.2 L1325.6,968.2 L1326.9,968.2 L1328.2,968.2 L1329.5,968.3 L1330.8,968.3 L1332.1,968.3 L1333.3,968.3 L1334.6,968.3 L1335.9,968.4 L1337.2,968.4 L1338.5,968.4 L1339.8,968.4 L1341.1,968.5 L1342.4,968.5 L1343.7,968.5 L1345.0,968.6 L1346.3,968.6 L1347.6,968.6 L1348.9,968.7 L1350.2,968.7 L1351.5,968.7 L1352.8,968.8 L1354.1,968.8 L1355.4,968.8 L1356.7,968.9 L1358.0,968.9 L1359.3,969.0 L1360.6,969.0 L1361.9,969.1 L1363.2,969.1 L1364.5,969.1 L1365.8,969.2 L1367.1,969.2 L1368.4,969.3 L1369.7,969.3 L1371.0,969.4 L1372.3,969.4 L1373.6,969.5 L1374.9,969.5 L1376.2,969.6 L1377.4,969.6 L1378.7,969.7 L1380.0,969.7 L1381.3,969.8 L1382.6,969.8 L1383.9,969.9 L1385.2,969.9 L1386.5,970.0 L1387.8,970.1 L1389.1,970.1 L1390.4,970.2 L1391.7,970.2 L1393.0,970.3 L1394.3,970.3 L1395.6,970.4 L1396.9,970.4 L1398.2,970.4 L1399.5,970.5 L1400.8,970.5 L1402.1,970.6 L1403.4,970.6 L1404.7,970.7 L1406.0,970.7 L1407.3,970.7 L1408.6,970.8 L1409.9,970.8 L1411.2,970.9 L1412.5,970.9 L1413.8,970.9 L1415.1,971.0 L1416.4,971.0 L1417.7,971.0 L1419.0,971.0 L1420.2,971.1 L1421.5,971.1 L1422.8,971.1 L1424.1,971.1 L1425.4,971.1 L1426.7,971.1 L1428.0,971.1 L1429.3,971.1 L1430.6,971.1 L1431.9,971.1 L1433.2,971.1 L1434.5,971.1 L1435.8,971.1 L1437.1,971.1 L1438.4,971.1 L1439.7,971.0 L1441.0,971.0"/>
<path class="c" stroke="#6FB802" d="M275.0,948.6 L277.9,948.4 L280.8,948.3 L283.8,948.3 L286.7,948.2 L289.6,948.2 L292.5,948.2 L295.5,948.3 L298.4,948.3 L301.3,948.4 L304.2,948.5 L307.1,948.6 L310.1,948.7 L313.0,948.9 L315.9,949.0 L318.8,949.2 L321.8,949.3 L324.7,949.5 L327.6,949.7 L330.5,949.9 L333.4,950.1 L336.4,950.3 L339.3,950.5 L342.2,950.7 L345.1,950.9 L348.1,951.1 L351.0,951.3 L353.9,951.4 L356.8,951.6 L359.7,951.8 L362.7,951.9 L365.6,952.0 L368.5,952.1 L371.4,952.2 L374.4,952.3 L377.3,952.4 L380.2,952.4 L383.1,952.4 L386.0,952.4 L389.0,952.4 L391.9,952.3 L394.8,952.2 L397.7,952.1 L400.7,951.9 L403.6,951.7 L406.5,951.5 L409.4,951.2 L412.3,950.9 L415.3,950.6 L418.2,950.2 L421.1,949.7 L424.0,949.3 L427.0,948.7 L429.9,948.1 L432.8,947.5 L435.7,946.8 L438.6,946.1 L441.6,945.2 L444.5,944.4 L447.4,943.4 L450.3,942.4 L453.3,941.3 L456.2,940.2 L459.1,939.0 L462.0,937.7 L464.9,936.3 L467.9,934.8 L470.8,933.3 L473.7,931.7 L476.6,930.0 L479.6,928.2 L482.5,926.3 L485.4,924.3 L488.3,922.3 L491.3,920.2 L494.2,918.0 L497.1,915.8 L500.0,913.6 L502.9,911.4 L505.9,909.1 L508.8,906.9 L511.7,904.7 L514.6,902.5 L517.6,900.3 L520.5,898.2 L523.4,896.1 L526.3,894.1 L529.2,892.1 L532.2,890.2 L535.1,888.4 L538.0,886.7 L540.9,885.1 L543.9,883.6 L546.8,882.2 L549.7,880.8 L552.6,879.6 L555.5,878.5 L558.5,877.6 L561.4,876.7 L564.3,876.0 L567.2,875.5 L570.2,875.0 L573.1,874.8 L576.0,874.7 L578.9,874.7 L581.8,874.9 L584.8,875.2 L587.7,875.7 L590.6,876.2 L593.5,876.8 L596.5,877.5 L599.4,878.3 L602.3,879.0 L605.2,879.9 L608.1,880.7 L611.1,881.6 L614.0,882.6 L616.9,883.6 L619.8,884.6 L622.8,885.6 L625.7,886.7 L628.6,887.7 L631.5,888.9 L634.4,890.0 L637.4,891.2 L640.3,892.3 L643.2,893.5 L646.1,894.8 L649.1,896.0 L652.0,897.2 L654.9,898.5 L657.8,899.8 L660.7,901.1 L663.7,902.3 L666.6,903.6 L669.5,904.9 L672.4,906.2 L675.4,907.5 L678.3,908.8 L681.2,910.1 L684.1,911.4 L687.0,912.7 L690.0,914.0 L692.9,915.3 L695.8,916.6 L698.7,917.8 L701.7,919.1 L704.6,920.3 L707.5,921.5 L710.4,922.7 L713.3,923.9 L716.3,925.1 L719.2,926.2 L722.1,927.3 L725.0,928.5 L728.0,929.6 L730.9,930.6 L733.8,931.7 L736.7,932.7 L739.6,933.7 L742.6,934.7 L745.5,935.7 L748.4,936.6 L751.3,937.6 L754.3,938.5 L757.2,939.3 L760.1,940.2 L763.0,941.0 L765.9,941.8 L768.9,942.6 L771.8,943.3 L774.7,944.0 L777.6,944.7 L780.6,945.3 L783.5,946.0 L786.4,946.5 L789.3,947.1 L792.2,947.6 L795.2,948.1 L798.1,948.6 L801.0,949.0 L803.9,949.4 L806.9,949.7 L809.8,950.0 L812.7,950.3 L815.6,950.6 L818.5,950.8 L821.5,950.9 L824.4,951.1 L827.3,951.1 L830.2,951.2 L833.2,951.2 L836.1,951.2 L839.0,951.1 L841.9,951.0 L844.8,950.9 L847.8,950.7 L850.7,950.5 L853.6,950.3 L856.5,950.1 L859.5,949.8 L862.4,949.5 L865.3,949.3 L868.2,949.0 L871.2,948.6 L874.1,948.3 L877.0,948.0 L879.9,947.6 L882.8,947.3 L885.8,946.9 L888.7,946.6 L891.6,946.3 L894.5,945.9 L897.5,945.6 L900.4,945.3 L903.3,945.0 L906.2,944.7 L909.1,944.4 L912.1,944.2 L915.0,944.0 L917.9,943.8 L920.8,943.6 L923.8,943.5 L926.7,943.4 L929.6,943.3 L932.5,943.3 L935.4,943.3 L938.4,943.3 L941.3,943.4 L944.2,943.5 L947.1,943.7 L950.1,943.8 L953.0,944.0 L955.9,944.3 L958.8,944.5 L961.7,944.8 L964.7,945.1 L967.6,945.4 L970.5,945.8 L973.4,946.1 L976.4,946.5 L979.3,946.9 L982.2,947.3 L985.1,947.7 L988.0,948.1 L991.0,948.6 L993.9,949.0 L996.8,949.5 L999.7,950.0 L1002.7,950.4 L1005.6,950.9 L1008.5,951.4 L1011.4,951.9 L1014.3,952.4 L1017.3,952.9 L1020.2,953.4 L1023.1,953.9 L1026.0,954.4 L1029.0,954.9 L1031.9,955.4 L1034.8,955.9 L1037.7,956.4 L1040.6,956.9 L1043.6,957.4 L1046.5,957.8 L1049.4,958.3 L1052.3,958.8 L1055.3,959.2 L1058.2,959.7 L1061.1,960.1 L1064.0,960.5 L1066.9,960.9 L1069.9,961.4 L1072.8,961.7 L1075.7,962.1 L1078.6,962.5 L1081.6,962.9 L1084.5,963.2 L1087.4,963.6 L1090.3,963.9 L1093.2,964.2 L1096.2,964.6 L1099.1,964.9 L1102.0,965.2 L1104.9,965.5 L1107.9,965.7 L1110.8,966.0 L1113.7,966.3 L1116.6,966.5 L1119.5,966.8 L1122.5,967.0 L1125.4,967.3 L1128.3,967.5 L1131.2,967.7 L1134.2,967.9 L1137.1,968.1 L1140.0,968.3 L1142.9,968.5 L1145.8,968.7 L1148.8,968.8 L1151.7,969.0 L1154.6,969.2 L1157.5,969.3 L1160.5,969.5 L1163.4,969.6 L1166.3,969.7 L1169.2,969.9 L1172.1,970.0 L1175.1,970.1 L1178.0,970.2 L1180.9,970.3 L1183.8,970.4 L1186.8,970.5 L1189.7,970.6 L1192.6,970.7 L1195.5,970.7 L1198.4,970.8 L1201.4,970.9 L1204.3,970.9 L1207.2,971.0 L1210.1,971.0 L1213.1,971.1 L1216.0,971.1 L1218.9,971.2 L1221.8,971.2 L1224.7,971.2 L1227.7,971.3 L1230.6,971.3 L1233.5,971.3 L1236.4,971.3 L1239.4,971.3 L1242.3,971.4 L1245.2,971.4 L1248.1,971.4 L1251.1,971.4 L1254.0,971.4 L1256.9,971.4 L1259.8,971.4 L1262.7,971.4 L1265.7,971.3 L1268.6,971.3 L1271.5,971.3 L1274.4,971.3 L1277.4,971.3 L1280.3,971.3 L1283.2,971.2 L1286.1,971.2 L1289.0,971.2 L1292.0,971.2 L1294.9,971.1 L1297.8,971.1 L1300.7,971.1 L1303.7,971.1 L1306.6,971.0 L1309.5,971.0 L1312.4,971.0 L1315.3,970.9 L1318.3,970.9 L1321.2,970.9 L1324.1,970.9 L1327.0,970.8 L1330.0,970.8 L1332.9,970.8 L1335.8,970.7 L1338.7,970.7 L1341.6,970.7 L1344.6,970.7 L1347.5,970.6 L1350.4,970.6 L1353.3,970.6 L1356.3,970.6 L1359.2,970.6 L1362.1,970.5 L1365.0,970.5 L1367.9,970.5 L1370.9,970.5 L1373.8,970.5 L1376.7,970.5 L1379.6,970.5 L1382.6,970.5 L1385.5,970.5 L1388.4,970.5 L1391.3,970.5 L1394.2,970.5 L1397.2,970.5 L1400.1,970.6 L1403.0,970.6 L1405.9,970.6 L1408.9,970.6 L1411.8,970.7 L1414.7,970.7 L1417.6,970.7 L1420.5,970.8 L1423.5,970.8 L1426.4,970.9 L1429.3,970.9 L1432.2,971.0 L1435.2,971.1 L1438.1,971.2 L1441.0,971.2"/>
<path class="c" stroke="#515151" d="M275.0,948.1 L277.9,948.4 L280.8,948.7 L283.8,948.9 L286.7,949.2 L289.6,949.5 L292.5,949.8 L295.5,950.1 L298.4,950.3 L301.3,950.6 L304.2,950.9 L307.1,951.2 L310.1,951.4 L313.0,951.7 L315.9,952.0 L318.8,952.3 L321.8,952.5 L324.7,952.8 L327.6,953.0 L330.5,953.3 L333.4,953.6 L336.4,953.8 L339.3,954.1 L342.2,954.3 L345.1,954.6 L348.1,954.8 L351.0,955.0 L353.9,955.3 L356.8,955.5 L359.7,955.7 L362.7,956.0 L365.6,956.2 L368.5,956.4 L371.4,956.6 L374.4,956.8 L377.3,957.0 L380.2,957.2 L383.1,957.4 L386.0,957.6 L389.0,957.8 L391.9,958.0 L394.8,958.1 L397.7,958.3 L400.7,958.5 L403.6,958.6 L406.5,958.8 L409.4,958.9 L412.3,959.1 L415.3,959.2 L418.2,959.3 L421.1,959.4 L424.0,959.6 L427.0,959.7 L429.9,959.8 L432.8,959.9 L435.7,959.9 L438.6,960.0 L441.6,960.1 L444.5,960.2 L447.4,960.3 L450.3,960.3 L453.3,960.4 L456.2,960.4 L459.1,960.5 L462.0,960.6 L464.9,960.6 L467.9,960.7 L470.8,960.7 L473.7,960.7 L476.6,960.8 L479.6,960.8 L482.5,960.9 L485.4,960.9 L488.3,960.9 L491.3,961.0 L494.2,961.0 L497.1,961.1 L500.0,961.1 L502.9,961.1 L505.9,961.2 L508.8,961.2 L511.7,961.2 L514.6,961.3 L517.6,961.3 L520.5,961.4 L523.4,961.4 L526.3,961.4 L529.2,961.5 L532.2,961.5 L535.1,961.6 L538.0,961.6 L540.9,961.6 L543.9,961.7 L546.8,961.7 L549.7,961.8 L552.6,961.8 L555.5,961.9 L558.5,962.0 L561.4,962.0 L564.3,962.1 L567.2,962.1 L570.2,962.2 L573.1,962.3 L576.0,962.3 L578.9,962.4 L581.8,962.5 L584.8,962.6 L587.7,962.7 L590.6,962.8 L593.5,962.8 L596.5,962.9 L599.4,963.0 L602.3,963.1 L605.2,963.3 L608.1,963.4 L611.1,963.5 L614.0,963.6 L616.9,963.7 L619.8,963.9 L622.8,964.0 L625.7,964.1 L628.6,964.3 L631.5,964.4 L634.4,964.6 L637.4,964.7 L640.3,964.9 L643.2,965.1 L646.1,965.3 L649.1,965.4 L652.0,965.6 L654.9,965.8 L657.8,966.0 L660.7,966.2 L663.7,966.4 L666.6,966.6 L669.5,966.8 L672.4,967.0 L675.4,967.2 L678.3,967.4 L681.2,967.6 L684.1,967.8 L687.0,968.0 L690.0,968.2 L692.9,968.3 L695.8,968.5 L698.7,968.7 L701.7,968.9 L704.6,969.0 L707.5,969.2 L710.4,969.4 L713.3,969.5 L716.3,969.7 L719.2,969.8 L722.1,969.9 L725.0,970.1 L728.0,970.2 L730.9,970.3 L733.8,970.5 L736.7,970.6 L739.6,970.7 L742.6,970.8 L745.5,970.9 L748.4,971.0 L751.3,971.1 L754.3,971.2 L757.2,971.3 L760.1,971.4 L763.0,971.5 L765.9,971.5 L768.9,971.6 L771.8,971.7 L774.7,971.8 L777.6,971.8 L780.6,971.9 L783.5,971.9 L786.4,972.0 L789.3,972.1 L792.2,972.1 L795.2,972.2 L798.1,972.2 L801.0,972.3 L803.9,972.3 L806.9,972.3 L809.8,972.4 L812.7,972.4 L815.6,972.4 L818.5,972.5 L821.5,972.5 L824.4,972.5 L827.3,972.6 L830.2,972.6 L833.2,972.6 L836.1,972.6 L839.0,972.7 L841.9,972.7 L844.8,972.7 L847.8,972.7 L850.7,972.7 L853.6,972.7 L856.5,972.7 L859.5,972.8 L862.4,972.8 L865.3,972.8 L868.2,972.8 L871.2,972.8 L874.1,972.8 L877.0,972.8 L879.9,972.8 L882.8,972.8 L885.8,972.8 L888.7,972.9 L891.6,972.9 L894.5,972.9 L897.5,972.9 L900.4,972.9 L903.3,972.9 L906.2,972.9 L909.1,972.9 L912.1,972.9 L915.0,972.9 L917.9,973.0 L920.8,973.0 L923.8,973.0 L926.7,973.0 L929.6,973.0 L932.5,973.0 L935.4,973.0 L938.4,973.0 L941.3,973.1 L944.2,973.1 L947.1,973.1 L950.1,973.1 L953.0,973.1 L955.9,973.1 L958.8,973.1 L961.7,973.2 L964.7,973.2 L967.6,973.2 L970.5,973.2 L973.4,973.2 L976.4,973.2 L979.3,973.2 L982.2,973.3 L985.1,973.3 L988.0,973.3 L991.0,973.3 L993.9,973.3 L996.8,973.3 L999.7,973.4 L1002.7,973.4 L1005.6,973.4 L1008.5,973.4 L1011.4,973.4 L1014.3,973.4 L1017.3,973.5 L1020.2,973.5 L1023.1,973.5 L1026.0,973.5 L1029.0,973.5 L1031.9,973.6 L1034.8,973.6 L1037.7,973.6 L1040.6,973.6 L1043.6,973.6 L1046.5,973.6 L1049.4,973.7 L1052.3,973.7 L1055.3,973.7 L1058.2,973.7 L1061.1,973.7 L1064.0,973.7 L1066.9,973.8 L1069.9,973.8 L1072.8,973.8 L1075.7,973.8 L1078.6,973.8 L1081.6,973.8 L1084.5,973.9 L1087.4,973.9 L1090.3,973.9 L1093.2,973.9 L1096.2,973.9 L1099.1,973.9 L1102.0,973.9 L1104.9,974.0 L1107.9,974.0 L1110.8,974.0 L1113.7,974.0 L1116.6,974.0 L1119.5,974.0 L1122.5,974.0 L1125.4,974.1 L1128.3,974.1 L1131.2,974.1 L1134.2,974.1 L1137.1,974.1 L1140.0,974.1 L1142.9,974.1 L1145.8,974.1 L1148.8,974.1 L1151.7,974.2 L1154.6,974.2 L1157.5,974.2 L1160.5,974.2 L1163.4,974.2 L1166.3,974.2 L1169.2,974.2 L1172.1,974.2 L1175.1,974.2 L1178.0,974.2 L1180.9,974.2 L1183.8,974.2 L1186.8,974.2 L1189.7,974.2 L1192.6,974.2 L1195.5,974.2 L1198.4,974.3 L1201.4,974.3 L1204.3,974.3 L1207.2,974.3 L1210.1,974.3 L1213.1,974.3 L1216.0,974.3 L1218.9,974.3 L1221.8,974.2 L1224.7,974.2 L1227.7,974.2 L1230.6,974.2 L1233.5,974.2 L1236.4,974.2 L1239.4,974.2 L1242.3,974.2 L1245.2,974.2 L1248.1,974.2 L1251.1,974.2 L1254.0,974.2 L1256.9,974.2 L1259.8,974.2 L1262.7,974.1 L1265.7,974.1 L1268.6,974.1 L1271.5,974.1 L1274.4,974.1 L1277.4,974.1 L1280.3,974.1 L1283.2,974.0 L1286.1,974.0 L1289.0,974.0 L1292.0,974.0 L1294.9,974.0 L1297.8,973.9 L1300.7,973.9 L1303.7,973.9 L1306.6,973.9 L1309.5,973.8 L1312.4,973.8 L1315.3,973.8 L1318.3,973.8 L1321.2,973.7 L1324.1,973.7 L1327.0,973.7 L1330.0,973.6 L1332.9,973.6 L1335.8,973.6 L1338.7,973.5 L1341.6,973.5 L1344.6,973.5 L1347.5,973.4 L1350.4,973.4 L1353.3,973.3 L1356.3,973.3 L1359.2,973.3 L1362.1,973.2 L1365.0,973.2 L1367.9,973.1 L1370.9,973.1 L1373.8,973.0 L1376.7,973.0 L1379.6,972.9 L1382.6,972.9 L1385.5,972.8 L1388.4,972.8 L1391.3,972.7 L1394.2,972.7 L1397.2,972.6 L1400.1,972.5 L1403.0,972.5 L1405.9,972.4 L1408.9,972.4 L1411.8,972.3 L1414.7,972.2 L1417.6,972.2 L1420.5,972.1 L1423.5,972.0 L1426.4,971.9 L1429.3,971.9 L1432.2,971.8 L1435.2,971.7 L1438.1,971.7 L1441.0,971.6"/>
<path class="c" stroke="#F14040" d="M275.0,938.0 L277.9,938.5 L280.8,938.9 L283.8,939.4 L286.7,939.9 L289.6,940.4 L292.5,940.9 L295.5,941.3 L298.4,941.8 L301.3,942.3 L304.2,942.7 L307.1,943.2 L310.1,943.6 L313.0,944.1 L315.9,944.5 L318.8,945.0 L321.8,945.4 L324.7,945.9 L327.6,946.3 L330.5,946.7 L333.4,947.1 L336.4,947.6 L339.3,948.0 L342.2,948.4 L345.1,948.8 L348.1,949.2 L351.0,949.6 L353.9,950.0 L356.8,950.4 L359.7,950.8 L362.7,951.2 L365.6,951.6 L368.5,951.9 L371.4,952.3 L374.4,952.7 L377.3,953.0 L380.2,953.4 L383.1,953.7 L386.0,954.1 L389.0,954.4 L391.9,954.8 L394.8,955.1 L397.7,955.5 L400.7,955.8 L403.6,956.1 L406.5,956.4 L409.4,956.7 L412.3,957.0 L415.3,957.3 L418.2,957.6 L421.1,957.9 L424.0,958.2 L427.0,958.5 L429.9,958.8 L432.8,959.0 L435.7,959.3 L438.6,959.6 L441.6,959.8 L444.5,960.1 L447.4,960.3 L450.3,960.6 L453.3,960.8 L456.2,961.0 L459.1,961.3 L462.0,961.5 L464.9,961.7 L467.9,961.9 L470.8,962.1 L473.7,962.3 L476.6,962.5 L479.6,962.7 L482.5,962.8 L485.4,963.0 L488.3,963.2 L491.3,963.3 L494.2,963.5 L497.1,963.6 L500.0,963.8 L502.9,963.9 L505.9,964.1 L508.8,964.2 L511.7,964.3 L514.6,964.5 L517.6,964.6 L520.5,964.7 L523.4,964.8 L526.3,965.0 L529.2,965.1 L532.2,965.2 L535.1,965.3 L538.0,965.4 L540.9,965.5 L543.9,965.7 L546.8,965.8 L549.7,965.9 L552.6,966.0 L555.5,966.1 L558.5,966.2 L561.4,966.3 L564.3,966.5 L567.2,966.6 L570.2,966.7 L573.1,966.8 L576.0,967.0 L578.9,967.1 L581.8,967.2 L584.8,967.3 L587.7,967.5 L590.6,967.6 L593.5,967.7 L596.5,967.9 L599.4,968.0 L602.3,968.1 L605.2,968.3 L608.1,968.4 L611.1,968.5 L614.0,968.7 L616.9,968.8 L619.8,968.9 L622.8,969.0 L625.7,969.2 L628.6,969.3 L631.5,969.4 L634.4,969.5 L637.4,969.7 L640.3,969.8 L643.2,969.9 L646.1,970.0 L649.1,970.1 L652.0,970.2 L654.9,970.3 L657.8,970.5 L660.7,970.6 L663.7,970.7 L666.6,970.8 L669.5,970.9 L672.4,971.0 L675.4,971.1 L678.3,971.1 L681.2,971.2 L684.1,971.3 L687.0,971.4 L690.0,971.5 L692.9,971.6 L695.8,971.7 L698.7,971.7 L701.7,971.8 L704.6,971.9 L707.5,972.0 L710.4,972.0 L713.3,972.1 L716.3,972.2 L719.2,972.2 L722.1,972.3 L725.0,972.4 L728.0,972.4 L730.9,972.5 L733.8,972.6 L736.7,972.6 L739.6,972.7 L742.6,972.7 L745.5,972.8 L748.4,972.8 L751.3,972.9 L754.3,972.9 L757.2,973.0 L760.1,973.0 L763.0,973.1 L765.9,973.1 L768.9,973.2 L771.8,973.2 L774.7,973.3 L777.6,973.3 L780.6,973.3 L783.5,973.4 L786.4,973.4 L789.3,973.5 L792.2,973.5 L795.2,973.5 L798.1,973.6 L801.0,973.6 L803.9,973.6 L806.9,973.7 L809.8,973.7 L812.7,973.7 L815.6,973.7 L818.5,973.8 L821.5,973.8 L824.4,973.8 L827.3,973.8 L830.2,973.9 L833.2,973.9 L836.1,973.9 L839.0,973.9 L841.9,973.9 L844.8,974.0 L847.8,974.0 L850.7,974.0 L853.6,974.0 L856.5,974.0 L859.5,974.1 L862.4,974.1 L865.3,974.1 L868.2,974.1 L871.2,974.1 L874.1,974.1 L877.0,974.1 L879.9,974.2 L882.8,974.2 L885.8,974.2 L888.7,974.2 L891.6,974.2 L894.5,974.2 L897.5,974.2 L900.4,974.2 L903.3,974.3 L906.2,974.3 L909.1,974.3 L912.1,974.3 L915.0,974.3 L917.9,974.3 L920.8,974.3 L923.8,974.3 L926.7,974.3 L929.6,974.3 L932.5,974.3 L935.4,974.3 L938.4,974.4 L941.3,974.4 L944.2,974.4 L947.1,974.4 L950.1,974.4 L953.0,974.4 L955.9,974.4 L958.8,974.4 L961.7,974.4 L964.7,974.4 L967.6,974.4 L970.5,974.4 L973.4,974.4 L976.4,974.4 L979.3,974.4 L982.2,974.4 L985.1,974.4 L988.0,974.4 L991.0,974.4 L993.9,974.4 L996.8,974.4 L999.7,974.4 L1002.7,974.4 L1005.6,974.5 L1008.5,974.5 L1011.4,974.5 L1014.3,974.5 L1017.3,974.5 L1020.2,974.5 L1023.1,974.4 L1026.0,974.4 L1029.0,974.4 L1031.9,974.4 L1034.8,974.4 L1037.7,974.4 L1040.6,974.4 L1043.6,974.4 L1046.5,974.4 L1049.4,974.4 L1052.3,974.4 L1055.3,974.4 L1058.2,974.4 L1061.1,974.4 L1064.0,974.4 L1066.9,974.4 L1069.9,974.4 L1072.8,974.4 L1075.7,974.4 L1078.6,974.4 L1081.6,974.4 L1084.5,974.4 L1087.4,974.4 L1090.3,974.3 L1093.2,974.3 L1096.2,974.3 L1099.1,974.3 L1102.0,974.3 L1104.9,974.3 L1107.9,974.3 L1110.8,974.3 L1113.7,974.3 L1116.6,974.3 L1119.5,974.3 L1122.5,974.2 L1125.4,974.2 L1128.3,974.2 L1131.2,974.2 L1134.2,974.2 L1137.1,974.2 L1140.0,974.2 L1142.9,974.2 L1145.8,974.1 L1148.8,974.1 L1151.7,974.1 L1154.6,974.1 L1157.5,974.1 L1160.5,974.1 L1163.4,974.0 L1166.3,974.0 L1169.2,974.0 L1172.1,974.0 L1175.1,974.0 L1178.0,974.0 L1180.9,973.9 L1183.8,973.9 L1186.8,973.9 L1189.7,973.9 L1192.6,973.9 L1195.5,973.8 L1198.4,973.8 L1201.4,973.8 L1204.3,973.8 L1207.2,973.8 L1210.1,973.7 L1213.1,973.7 L1216.0,973.7 L1218.9,973.7 L1221.8,973.7 L1224.7,973.6 L1227.7,973.6 L1230.6,973.6 L1233.5,973.6 L1236.4,973.5 L1239.4,973.5 L1242.3,973.5 L1245.2,973.5 L1248.1,973.4 L1251.1,973.4 L1254.0,973.4 L1256.9,973.3 L1259.8,973.3 L1262.7,973.3 L1265.7,973.3 L1268.6,973.2 L1271.5,973.2 L1274.4,973.2 L1277.4,973.1 L1280.3,973.1 L1283.2,973.1 L1286.1,973.1 L1289.0,973.0 L1292.0,973.0 L1294.9,973.0 L1297.8,972.9 L1300.7,972.9 L1303.7,972.9 L1306.6,972.8 L1309.5,972.8 L1312.4,972.8 L1315.3,972.7 L1318.3,972.7 L1321.2,972.7 L1324.1,972.6 L1327.0,972.6 L1330.0,972.5 L1332.9,972.5 L1335.8,972.5 L1338.7,972.4 L1341.6,972.4 L1344.6,972.4 L1347.5,972.3 L1350.4,972.3 L1353.3,972.2 L1356.3,972.2 L1359.2,972.2 L1362.1,972.1 L1365.0,972.1 L1367.9,972.0 L1370.9,972.0 L1373.8,971.9 L1376.7,971.9 L1379.6,971.9 L1382.6,971.8 L1385.5,971.8 L1388.4,971.7 L1391.3,971.7 L1394.2,971.6 L1397.2,971.6 L1400.1,971.5 L1403.0,971.5 L1405.9,971.4 L1408.9,971.4 L1411.8,971.3 L1414.7,971.3 L1417.6,971.2 L1420.5,971.2 L1423.5,971.1 L1426.4,971.1 L1429.3,971.0 L1432.2,971.0 L1435.2,970.9 L1438.1,970.9 L1441.0,970.8"/>
</g>
<path d="M780,415.9 V590" stroke="#000" stroke-width="4.2" fill="none"/>
<path d="M771.7,587.9 L787.7,587.9 L780,615.3 Z" fill="#000"/>
<g class="tl" text-anchor="end">
<text transform="translate(243,62.6) scale(0.97,1)">300</text>
<text transform="translate(243,531.1) scale(0.97,1)">150</text>
<text transform="translate(243,999.5) scale(0.97,1)">0</text>
</g>
<g class="tl" text-anchor="middle">
<text transform="translate(274.3,1060.2) scale(0.97,1)">600</text>
<text transform="translate(859.2,1060.2) scale(0.97,1)">700</text>
<text transform="translate(1440.8,1060.2) scale(0.97,1)">800</text>
</g>
<text class="ti" transform="translate(858,1175) scale(0.995,1)" text-anchor="middle">wavelength / nm</text>
<text class="ti" transform="translate(75.1,483) rotate(-90) scale(0.992,1)" text-anchor="middle">Intensity</text>
</svg>
</body></html>
